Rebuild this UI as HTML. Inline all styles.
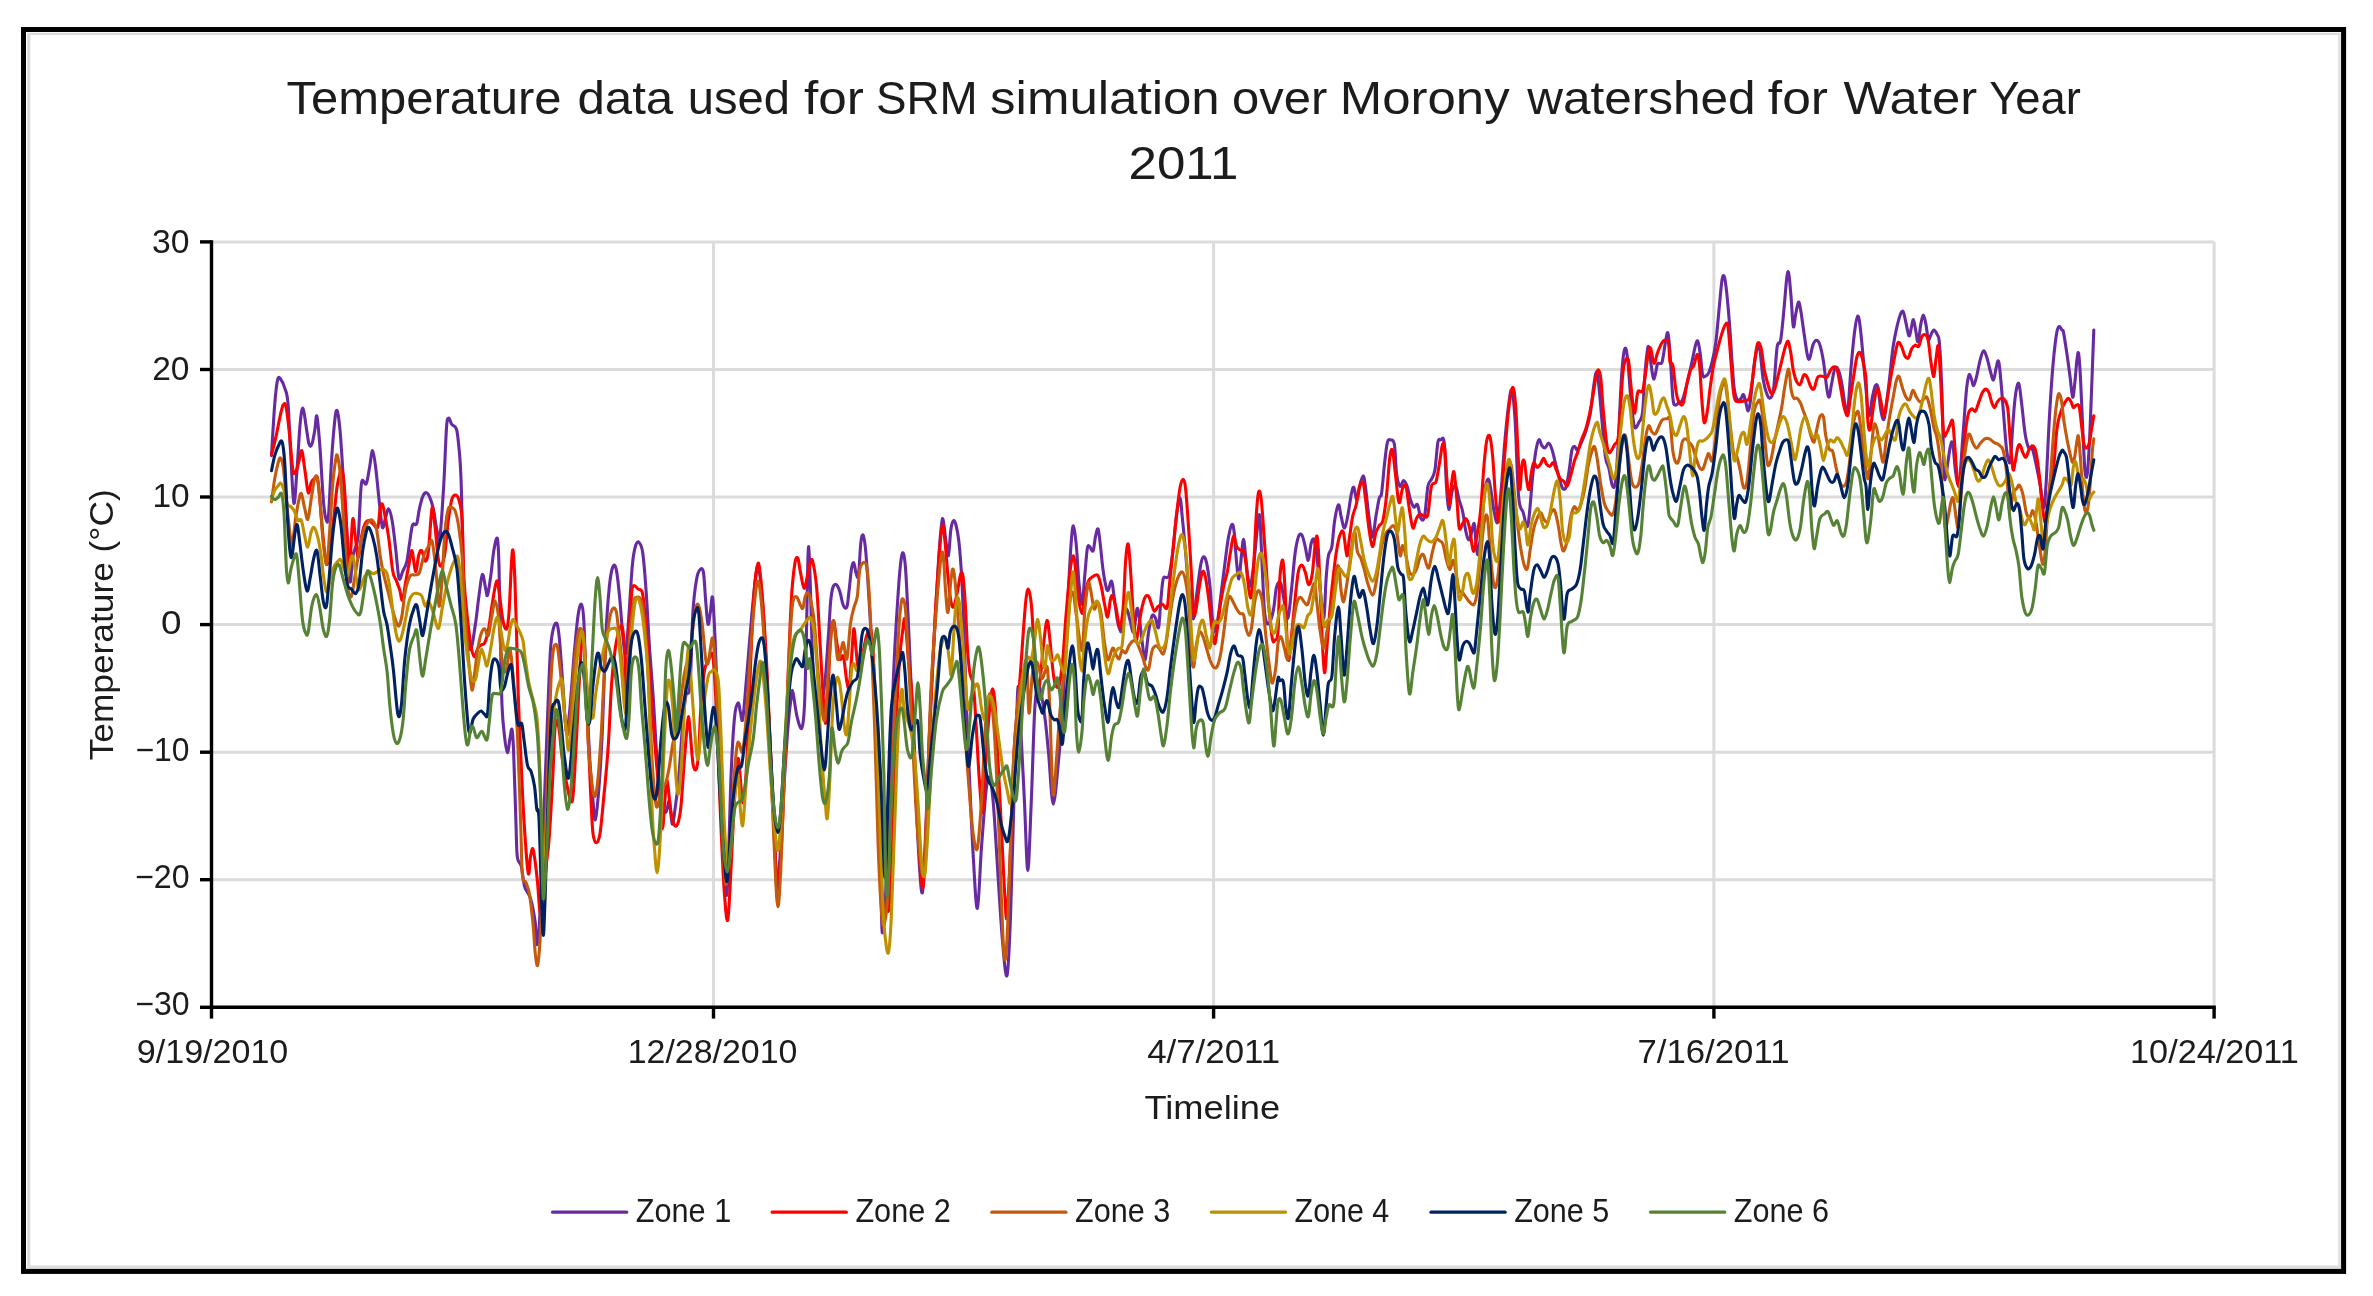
<!DOCTYPE html><html><head><meta charset="utf-8"><title>Temperature chart</title>
<style>html,body{margin:0;padding:0;background:#fff}svg{display:block}text{font-family:"Liberation Sans",sans-serif;fill:#1a1a1a}</style></head><body>
<svg width="2373" height="1296" viewBox="0 0 2373 1296">
<defs><filter id="soft" x="0" y="0" width="2373" height="1296" filterUnits="userSpaceOnUse"><feGaussianBlur stdDeviation="0.55"/></filter></defs>
<g filter="url(#soft)">
<rect width="2373" height="1296" fill="#fff"/>
<rect x="27.2" y="32.8" width="3.2" height="1236" fill="#dadada"/>
<rect x="27.2" y="32.8" width="2313.6" height="2.2" fill="#dcdcdc"/>
<rect x="2338.2" y="32.8" width="2.7" height="1236" fill="#e2e2e2"/>
<rect x="27.2" y="1265.4" width="2313.6" height="3.4" fill="#dedede"/>
<rect x="23.5" y="29.5" width="2320.1" height="1241.9" fill="none" stroke="#000" stroke-width="5"/>
<line x1="211.5" x2="2214.1" y1="241.9" y2="241.9" stroke="#dbdbdb" stroke-width="3"/>
<line x1="211.5" x2="2214.1" y1="369.5" y2="369.5" stroke="#dbdbdb" stroke-width="3"/>
<line x1="211.5" x2="2214.1" y1="497.0" y2="497.0" stroke="#dbdbdb" stroke-width="3"/>
<line x1="211.5" x2="2214.1" y1="624.6" y2="624.6" stroke="#dbdbdb" stroke-width="3"/>
<line x1="211.5" x2="2214.1" y1="752.2" y2="752.2" stroke="#dbdbdb" stroke-width="3"/>
<line x1="211.5" x2="2214.1" y1="879.7" y2="879.7" stroke="#dbdbdb" stroke-width="3"/>
<line x1="713.5" x2="713.5" y1="241.9" y2="1007.3" stroke="#dbdbdb" stroke-width="3"/>
<line x1="1213.6" x2="1213.6" y1="241.9" y2="1007.3" stroke="#dbdbdb" stroke-width="3"/>
<line x1="1713.9" x2="1713.9" y1="241.9" y2="1007.3" stroke="#dbdbdb" stroke-width="3"/>
<line x1="2214.1" x2="2214.1" y1="241.9" y2="1007.3" stroke="#dbdbdb" stroke-width="3"/>
<path d="M271.5 455.6C272.0 447.1 273.7 417.4 274.7 404.7C275.7 392.0 276.6 383.5 277.7 379.3C278.8 375.1 279.9 378.4 281.0 379.7C282.1 381.0 283.4 383.6 284.5 387.4C285.6 391.2 286.8 390.6 287.9 402.4C289.0 414.2 289.9 441.2 290.9 458.0C291.9 474.8 292.9 500.4 293.9 503.1C294.9 505.8 295.6 487.5 296.7 474.2C297.8 460.9 299.1 434.2 300.2 423.2C301.2 412.2 302.0 407.8 303.0 408.2C304.0 408.6 305.0 419.6 306.0 425.6C307.0 431.6 308.0 441.0 309.0 444.1C310.0 447.2 310.8 446.8 311.8 444.5C312.8 442.2 314.0 434.9 314.8 430.2C315.6 425.5 316.0 413.6 316.9 416.3C317.8 419.0 318.8 432.5 319.9 446.4C321.0 460.3 322.3 487.7 323.3 499.6C324.3 511.6 324.9 515.2 325.7 518.1C326.5 521.0 327.4 526.2 328.4 517.0C329.3 507.8 330.4 478.2 331.4 462.6C332.4 447.0 333.6 431.9 334.5 423.2C335.4 414.5 336.1 409.3 337.0 410.5C337.9 411.7 338.9 418.4 340.0 430.2C341.1 442.0 342.3 463.4 343.5 481.1C344.7 498.9 346.1 519.9 347.2 536.7C348.3 553.5 349.0 578.7 350.0 581.8C351.0 584.9 351.6 562.7 353.0 555.2C354.4 547.7 356.7 548.7 358.1 536.7C359.5 524.7 360.1 492.2 361.5 483.4C362.9 474.6 364.8 486.6 366.2 483.9C367.6 481.2 368.5 472.8 369.6 467.2C370.7 461.6 371.6 450.2 372.6 450.6C373.7 451.0 374.8 460.8 375.9 469.5C377.0 478.2 378.3 493.5 379.4 503.1C380.5 512.8 381.4 524.9 382.4 527.4C383.4 529.9 384.4 521.2 385.4 518.1C386.4 515.0 387.5 508.5 388.6 508.9C389.7 509.3 390.9 514.0 392.1 520.5C393.3 527.0 394.5 538.6 395.6 548.2C396.8 557.8 397.8 574.4 399.0 578.3C400.2 582.2 401.4 574.1 402.7 571.4C404.0 568.7 405.6 566.7 406.7 562.1C407.8 557.5 408.5 549.8 409.5 543.6C410.5 537.4 411.3 528.4 412.5 525.1C413.7 521.8 415.5 526.6 416.6 523.9C417.8 521.2 418.3 513.5 419.4 508.9C420.4 504.3 421.7 498.9 422.9 496.2C424.1 493.5 425.2 492.5 426.4 492.7C427.5 492.9 428.6 494.6 429.8 497.3C431.0 500.0 432.1 503.5 433.3 508.9C434.5 514.3 435.7 524.9 436.8 529.7C437.9 534.5 438.7 545.1 439.8 537.8C440.9 530.5 442.6 504.0 443.7 485.7C444.8 467.4 445.7 439.2 446.5 427.9C447.3 416.6 447.7 418.7 448.6 418.1C449.5 417.5 450.5 422.6 451.8 424.4C453.1 426.2 455.2 425.3 456.4 429.0C457.6 432.7 458.0 437.7 458.8 446.4C459.6 455.1 460.2 457.3 461.1 481.1C462.0 504.9 462.9 564.4 463.9 589.4C464.9 614.4 466.1 621.1 467.3 631.1C468.5 641.1 469.5 650.8 470.8 649.6C472.1 648.5 474.0 633.1 475.4 624.2C476.8 615.3 477.7 604.7 478.9 596.4C480.1 588.1 481.2 575.6 482.4 574.4C483.5 573.2 484.9 585.9 485.8 589.4C486.7 592.9 486.7 597.1 487.5 595.2C488.3 593.3 489.4 585.4 490.5 577.9C491.6 570.4 492.8 556.7 493.9 550.1C495.0 543.5 496.5 535.8 497.4 538.5C498.2 541.2 498.5 550.1 499.0 566.3C499.5 582.5 499.9 612.6 500.4 635.7C500.9 658.9 501.3 688.6 502.0 705.2C502.7 721.8 503.5 727.4 504.4 735.3C505.3 743.2 506.4 752.2 507.4 752.6C508.3 753.0 509.3 741.5 510.1 737.6C510.9 733.8 511.4 727.2 512.0 729.5C512.6 731.8 513.0 736.3 513.6 751.5C514.2 766.7 515.3 803.4 515.9 820.9C516.5 838.4 516.4 849.2 517.3 856.7C518.2 864.2 520.0 861.0 521.2 866.0C522.4 871.0 523.2 881.4 524.7 886.8C526.2 892.2 528.8 892.6 530.5 898.4C532.2 904.2 534.0 913.8 535.1 921.5C536.2 929.2 536.2 945.5 537.0 944.7C537.8 943.9 538.6 940.7 539.8 916.7C541.0 892.7 543.0 835.6 544.4 800.9C545.8 766.2 546.9 733.8 547.9 708.3C548.9 682.8 549.6 661.6 550.6 648.1C551.6 634.6 552.6 631.3 553.7 627.3C554.8 623.2 556.2 621.9 557.1 623.8C558.0 625.7 558.4 628.7 559.4 638.9C560.4 649.1 561.7 669.8 562.9 685.2C564.1 700.6 565.2 727.6 566.4 731.5C567.6 735.4 568.5 721.8 569.9 708.3C571.2 694.8 573.1 665.9 574.5 650.5C575.9 635.1 576.9 623.4 578.0 615.7C579.1 608.0 580.4 603.4 581.4 604.2C582.4 605.0 583.0 606.9 583.8 620.4C584.6 633.9 585.1 662.8 586.1 685.2C587.1 707.6 588.4 735.3 589.5 754.6C590.6 773.9 592.0 790.0 593.0 800.9C594.0 811.8 594.3 821.6 595.3 819.7C596.3 817.8 597.6 804.1 598.8 789.4C600.0 774.7 601.1 756.6 602.3 731.5C603.4 706.4 604.6 662.8 605.7 638.9C606.9 615.0 608.0 600.0 609.2 588.0C610.4 576.0 611.5 570.2 612.7 567.1C613.9 564.0 615.1 564.4 616.2 569.4C617.4 574.4 618.5 585.6 619.6 597.2C620.8 608.8 622.1 629.6 623.1 638.9C624.1 648.2 624.9 656.7 625.9 652.8C626.9 648.9 627.8 630.4 628.9 615.7C630.0 601.0 631.2 576.6 632.4 564.8C633.5 553.0 634.6 548.8 635.8 545.1C636.9 541.4 638.1 541.4 639.3 542.8C640.5 544.1 641.6 544.9 642.8 553.2C643.9 561.5 645.1 576.4 646.2 592.6C647.4 608.8 648.5 633.1 649.7 650.5C650.9 667.9 652.0 679.4 653.2 696.8C654.4 714.1 655.4 737.4 656.7 754.6C658.1 771.8 659.8 790.4 661.3 800.0C662.8 809.6 664.5 812.4 665.9 812.5C667.2 812.6 668.3 799.0 669.4 800.9C670.5 802.8 671.2 822.9 672.2 824.1C673.2 825.3 674.1 815.6 675.2 807.9C676.3 800.2 677.6 790.5 678.7 777.8C679.9 765.1 681.0 745.0 682.1 731.5C683.2 718.0 684.3 704.5 685.6 696.8C686.9 689.1 688.8 699.2 690.0 685.2C691.2 671.2 691.8 630.1 692.9 612.6C694.0 595.1 695.2 587.3 696.4 580.2C697.6 573.1 698.7 571.1 699.9 569.8C701.1 568.4 702.4 566.9 703.4 572.1C704.4 577.3 704.9 592.3 705.7 601.0C706.5 609.7 707.2 622.3 708.0 624.2C708.8 626.1 709.5 617.1 710.3 612.6C711.1 608.1 711.8 593.6 712.6 597.5C713.4 601.4 714.1 619.7 714.9 635.7C715.7 651.7 716.2 666.6 717.2 693.6C718.2 720.6 719.5 768.9 720.7 797.8C721.9 826.7 723.1 851.8 724.2 867.2C725.3 882.6 726.1 905.8 727.2 890.4C728.4 875.0 729.9 803.5 731.1 774.6C732.3 745.7 733.4 728.8 734.6 716.8C735.8 704.8 737.1 703.7 738.1 702.9C739.1 702.1 739.6 709.4 740.4 712.1C741.2 714.8 741.7 724.1 742.7 719.1C743.7 714.1 744.7 699.8 746.2 682.0C747.8 664.2 750.3 631.1 752.0 612.6C753.7 594.1 755.5 578.2 756.6 570.9C757.8 563.6 757.9 563.6 758.9 568.6C759.9 573.6 761.2 586.0 762.4 601.0C763.6 616.0 764.8 637.7 765.9 658.9C767.0 680.1 767.9 701.3 769.3 728.3C770.6 755.3 772.6 793.9 774.0 820.9C775.4 847.9 775.9 894.2 777.4 890.4C778.9 886.5 781.5 824.8 783.2 797.8C785.0 770.8 786.5 745.3 787.9 728.3C789.2 711.3 790.5 701.9 791.3 695.9C792.1 689.9 791.9 689.0 792.9 692.5C793.9 696.0 795.6 710.8 797.1 716.8C798.6 722.8 800.5 730.2 801.7 728.3C802.9 726.4 803.7 720.6 804.5 705.2C805.3 689.8 805.7 662.1 806.4 635.7C807.1 609.3 807.7 544.7 808.7 546.6C809.7 548.5 811.2 622.8 812.2 647.3C813.2 671.8 813.4 683.2 814.5 693.6C815.6 704.0 817.4 711.7 819.1 709.8C820.8 707.9 823.4 694.4 824.9 682.0C826.4 669.6 827.4 649.2 828.4 635.7C829.4 622.2 829.9 609.1 830.7 601.0C831.5 592.9 832.0 589.8 833.0 587.1C834.0 584.4 835.4 584.0 836.5 584.8C837.6 585.6 838.8 588.3 839.9 591.8C841.0 595.3 842.2 603.1 843.4 605.6C844.6 608.1 845.9 609.5 846.9 606.8C847.9 604.1 848.4 595.8 849.2 589.4C850.0 583.0 850.7 573.0 851.5 568.6C852.3 564.2 853.0 562.0 853.8 562.8C854.6 563.6 855.3 571.1 856.1 573.2C856.9 575.3 857.7 580.6 858.5 575.6C859.3 570.6 860.0 549.9 860.8 543.1C861.6 536.3 862.3 534.2 863.1 535.0C863.9 535.8 864.6 540.6 865.4 547.8C866.2 554.9 866.7 563.2 867.7 577.9C868.7 592.5 870.0 614.5 871.2 635.7C872.4 656.9 873.6 678.2 874.7 705.2C875.9 732.2 877.1 766.9 878.1 797.8C879.1 828.7 880.1 868.1 880.9 890.4C881.7 912.7 881.6 938.8 882.8 931.6C883.9 924.4 886.4 880.6 887.8 847.2C889.2 813.9 890.1 764.3 891.3 731.5C892.4 698.7 893.6 673.6 894.7 650.5C895.9 627.4 897.2 607.6 898.2 592.6C899.2 577.6 900.1 566.8 901.0 560.2C901.9 553.6 902.5 551.7 903.3 553.2C904.1 554.7 904.7 557.0 905.6 569.4C906.5 581.8 907.5 604.1 908.6 627.3C909.7 650.4 910.9 681.3 912.1 708.3C913.3 735.3 914.5 764.3 915.6 789.4C916.8 814.5 917.9 841.7 919.0 858.8C920.1 875.9 921.3 897.9 922.5 892.1C923.7 886.3 924.8 850.9 926.0 824.1C927.2 797.3 928.1 762.4 929.5 731.5C930.9 700.6 932.6 667.8 934.1 638.9C935.6 610.0 937.4 577.2 938.7 557.9C940.0 538.6 940.9 529.3 941.7 523.1C942.5 516.9 942.6 518.1 943.3 520.8C944.0 523.5 944.9 533.6 945.7 539.4C946.6 545.2 947.5 557.1 948.4 555.6C949.2 554.1 950.0 535.9 950.8 530.1C951.6 524.3 952.4 521.6 953.3 520.8C954.2 520.0 955.2 522.0 956.1 525.5C957.0 529.0 957.9 532.5 958.9 541.7C959.9 551.0 961.0 564.8 961.9 581.0C962.8 597.2 963.4 617.7 964.2 638.9C965.0 660.1 965.5 683.2 966.5 708.3C967.5 733.4 968.9 764.3 970.0 789.4C971.1 814.5 972.2 839.0 973.4 858.8C974.6 878.6 976.0 910.2 977.4 908.3C978.8 906.4 980.0 867.0 981.5 847.2C983.0 827.4 984.9 801.0 986.2 789.4C987.6 777.8 988.5 775.9 989.6 777.8C990.8 779.7 991.8 785.5 993.1 800.9C994.5 816.3 996.2 847.2 997.7 870.4C999.2 893.5 1000.9 922.3 1002.4 939.8C1003.9 957.3 1005.6 979.4 1007.0 975.5C1008.4 971.6 1009.4 945.8 1010.5 916.7C1011.6 887.6 1012.8 837.5 1013.9 800.9C1015.0 764.2 1016.5 714.5 1017.4 696.8C1018.2 679.0 1018.4 688.6 1019.0 694.4C1019.6 700.2 1020.0 713.8 1020.9 731.5C1021.8 749.2 1023.3 777.8 1024.4 800.9C1025.6 824.0 1026.7 870.4 1027.8 870.4C1028.9 870.4 1030.1 827.9 1031.3 800.9C1032.5 773.9 1033.6 727.6 1034.8 708.3C1036.0 689.0 1037.0 687.1 1038.2 685.2C1039.4 683.3 1040.5 691.0 1041.7 696.8C1042.9 702.6 1044.0 710.3 1045.2 719.9C1046.4 729.5 1047.4 740.5 1048.7 754.6C1050.0 768.7 1051.6 804.2 1053.3 804.2C1055.0 804.2 1057.5 770.6 1059.1 754.6C1060.6 738.6 1061.4 727.6 1062.6 708.3C1063.8 689.0 1064.8 662.0 1066.0 638.9C1067.2 615.8 1068.5 587.5 1069.5 569.4C1070.5 551.3 1071.5 536.9 1072.3 530.1C1073.1 523.4 1073.4 526.2 1074.1 528.9C1074.8 531.6 1075.6 537.6 1076.4 546.3C1077.2 555.0 1077.9 571.4 1078.8 581.0C1079.7 590.6 1081.0 605.3 1082.0 604.2C1083.0 603.1 1084.0 583.5 1084.9 574.2C1085.8 565.0 1086.5 553.3 1087.3 548.7C1088.1 544.1 1088.6 546.0 1089.6 546.4C1090.5 546.8 1092.0 552.5 1093.0 551.0C1094.0 549.5 1094.6 540.8 1095.4 537.1C1096.2 533.4 1097.2 527.5 1098.1 529.0C1098.9 530.5 1099.7 539.6 1100.5 546.4C1101.3 553.1 1102.1 563.0 1103.0 569.5C1103.9 576.0 1105.0 582.2 1105.8 585.7C1106.6 589.2 1107.1 591.2 1108.1 590.4C1109.1 589.6 1110.6 580.3 1111.6 581.1C1112.6 581.9 1112.9 588.4 1113.9 595.0C1114.9 601.6 1116.2 614.3 1117.4 620.5C1118.6 626.7 1119.8 632.0 1120.8 632.0C1121.8 632.0 1122.1 624.4 1123.1 620.5C1124.1 616.6 1125.4 608.9 1126.6 608.9C1127.8 608.9 1128.9 616.6 1130.1 620.5C1131.3 624.4 1132.4 633.9 1133.6 632.0C1134.8 630.1 1136.0 611.2 1137.0 608.9C1138.0 606.6 1138.4 612.3 1139.3 618.1C1140.2 623.9 1141.4 636.7 1142.4 643.6C1143.4 650.5 1144.1 661.7 1145.1 659.8C1146.1 657.9 1147.4 639.3 1148.6 632.0C1149.8 624.7 1150.9 618.1 1152.1 615.8C1153.2 613.5 1154.4 616.2 1155.5 618.1C1156.6 620.0 1157.7 630.5 1158.6 627.4C1159.5 624.3 1160.1 607.7 1160.9 599.6C1161.7 591.5 1162.2 582.5 1163.2 578.8C1164.2 575.1 1166.1 578.4 1167.1 577.6C1168.1 576.8 1168.4 578.6 1169.4 574.2C1170.4 569.8 1171.7 560.6 1172.9 551.0C1174.1 541.4 1175.2 525.2 1176.4 516.3C1177.6 507.4 1178.9 497.8 1179.9 497.8C1180.9 497.8 1181.4 508.6 1182.2 516.3C1183.0 524.0 1183.9 533.3 1184.9 544.1C1185.9 554.9 1186.9 570.3 1188.0 581.1C1189.1 591.9 1190.5 602.7 1191.4 608.9C1192.4 615.1 1192.7 621.2 1193.7 618.1C1194.7 615.0 1196.0 599.3 1197.2 590.4C1198.4 581.5 1199.7 570.5 1200.7 564.9C1201.8 559.3 1202.5 557.2 1203.5 556.8C1204.5 556.4 1205.4 557.8 1206.5 562.6C1207.6 567.4 1208.9 576.5 1209.9 585.7C1210.9 595.0 1211.5 610.4 1212.3 618.1C1213.1 625.8 1213.6 632.0 1214.6 632.0C1215.5 632.0 1216.8 625.0 1218.0 618.1C1219.2 611.2 1220.3 599.6 1221.5 590.4C1222.7 581.1 1223.8 571.5 1225.0 562.6C1226.2 553.7 1227.3 543.5 1228.5 537.1C1229.7 530.7 1231.0 525.2 1231.9 524.4C1232.9 523.6 1233.4 526.1 1234.2 532.5C1235.0 538.9 1235.8 554.9 1236.6 562.6C1237.4 570.3 1238.1 579.6 1238.9 578.8C1239.7 578.0 1240.4 564.6 1241.2 558.0C1242.0 551.4 1242.7 539.4 1243.5 539.4C1244.3 539.4 1245.0 551.4 1245.8 558.0C1246.6 564.6 1247.3 574.2 1248.1 578.8C1248.9 583.4 1249.5 588.4 1250.5 585.7C1251.5 583.0 1252.8 572.2 1253.9 562.6C1255.1 553.0 1256.4 535.6 1257.4 527.9C1258.4 520.2 1258.9 510.5 1259.7 516.3C1260.5 522.1 1261.2 547.2 1262.0 562.6C1262.8 578.0 1263.5 598.9 1264.3 608.9C1265.1 618.9 1265.7 620.7 1266.7 622.8C1267.7 624.9 1268.9 623.9 1270.1 621.6C1271.2 619.3 1272.6 614.1 1273.6 608.9C1274.6 603.7 1275.2 594.6 1275.9 590.4C1276.6 586.1 1277.2 584.5 1278.0 583.4C1278.8 582.2 1279.8 580.4 1280.9 583.5C1282.0 586.6 1283.2 596.2 1284.4 602.0C1285.6 607.8 1286.7 620.1 1287.9 618.2C1289.1 616.3 1290.2 600.9 1291.4 590.5C1292.6 580.1 1293.7 564.6 1294.8 555.7C1295.9 546.8 1297.1 540.7 1298.3 537.2C1299.5 533.7 1300.6 533.4 1301.8 534.9C1303.0 536.4 1304.1 542.2 1305.2 546.5C1306.3 550.8 1307.3 560.8 1308.3 560.4C1309.3 560.0 1310.1 547.7 1311.0 544.2C1311.9 540.7 1312.8 537.6 1313.8 539.5C1314.8 541.4 1315.7 547.2 1316.8 555.7C1317.9 564.2 1319.1 580.1 1320.3 590.5C1321.5 600.9 1322.8 620.1 1323.8 618.2C1324.8 616.3 1325.3 589.3 1326.1 578.9C1326.9 568.5 1327.4 561.1 1328.4 555.7C1329.4 550.3 1330.9 552.3 1331.9 546.5C1332.9 540.7 1333.5 528.0 1334.6 521.0C1335.7 514.0 1337.3 505.6 1338.4 504.8C1339.5 504.0 1340.1 512.5 1341.1 516.4C1342.1 520.3 1343.4 528.4 1344.6 528.0C1345.8 527.6 1346.9 519.9 1348.1 514.1C1349.2 508.3 1350.5 497.6 1351.5 493.2C1352.5 488.8 1353.0 486.3 1353.9 487.5C1354.8 488.7 1356.0 500.4 1356.9 500.2C1357.9 500.0 1358.6 490.4 1359.6 486.3C1360.6 482.2 1362.1 475.9 1363.1 475.9C1364.1 475.9 1364.4 479.6 1365.4 486.3C1366.4 493.1 1367.7 507.9 1368.9 516.4C1370.1 524.9 1371.2 537.2 1372.4 537.2C1373.6 537.2 1374.8 523.0 1375.9 516.4C1377.1 509.8 1378.3 501.8 1379.3 497.9C1380.2 494.0 1380.7 499.0 1381.6 493.2C1382.5 487.4 1383.6 471.6 1384.6 463.1C1385.6 454.6 1386.4 446.2 1387.4 442.3C1388.5 438.4 1389.7 439.6 1390.9 440.0C1392.1 440.4 1393.4 438.8 1394.4 444.6C1395.4 450.4 1395.7 467.8 1396.7 474.7C1397.7 481.6 1399.1 485.3 1400.2 486.3C1401.3 487.3 1402.4 480.5 1403.6 480.5C1404.8 480.5 1405.9 483.0 1407.1 486.3C1408.3 489.6 1409.4 496.7 1410.6 500.2C1411.8 503.7 1412.8 506.3 1414.0 507.1C1415.2 507.9 1416.3 502.9 1417.5 504.8C1418.7 506.7 1419.8 516.8 1421.0 518.7C1422.2 520.6 1423.3 521.8 1424.5 516.4C1425.7 511.0 1426.8 492.5 1427.9 486.3C1429.1 480.1 1430.2 482.1 1431.4 479.4C1432.6 476.7 1433.8 476.3 1434.9 470.1C1436.0 463.9 1436.9 447.3 1437.9 442.3C1438.9 437.3 1439.7 440.0 1440.7 440.0C1441.7 440.0 1443.1 434.6 1444.1 442.3C1445.1 450.0 1445.7 475.1 1446.5 486.3C1447.3 497.5 1447.8 508.6 1448.8 509.4C1449.8 510.2 1451.0 494.8 1452.2 490.9C1453.4 487.0 1454.5 484.8 1455.7 486.3C1456.9 487.9 1458.0 495.9 1459.2 500.2C1460.4 504.4 1461.6 506.4 1462.7 511.8C1463.8 517.2 1464.9 528.0 1466.1 532.6C1467.2 537.2 1468.3 541.0 1469.6 539.5C1470.9 538.0 1473.0 523.1 1474.0 523.3C1475.0 523.4 1475.1 535.2 1475.8 540.4C1476.5 545.6 1477.1 557.0 1478.1 554.3C1479.1 551.6 1480.4 535.0 1481.6 524.2C1482.8 513.4 1483.9 496.9 1485.0 489.4C1486.1 481.9 1487.1 479.0 1488.1 479.0C1489.1 479.0 1489.8 483.8 1490.8 489.4C1491.8 495.0 1493.1 507.2 1494.3 512.6C1495.5 518.0 1496.6 525.8 1497.8 521.9C1499.0 518.0 1500.0 502.5 1501.2 489.4C1502.4 476.3 1503.5 456.6 1504.7 443.1C1505.9 429.6 1507.0 417.3 1508.2 408.4C1509.4 399.5 1510.6 388.0 1511.7 389.9C1512.8 391.8 1513.9 402.2 1515.1 420.0C1516.2 437.8 1517.2 481.0 1518.6 496.4C1519.9 511.8 1521.7 507.8 1523.2 512.6C1524.8 517.4 1526.4 531.1 1527.9 525.3C1529.5 519.5 1531.2 490.4 1532.5 477.9C1533.8 465.4 1534.9 456.5 1536.0 450.1C1537.1 443.7 1538.0 440.5 1539.0 439.7C1540.0 438.9 1540.8 444.1 1541.8 445.5C1542.8 446.9 1544.0 448.2 1545.2 447.8C1546.4 447.4 1547.5 442.7 1548.7 443.1C1549.9 443.5 1551.1 446.6 1552.2 450.1C1553.3 453.6 1554.4 459.4 1555.6 464.0C1556.8 468.6 1557.9 473.8 1559.1 477.9C1560.3 481.9 1561.4 486.8 1562.6 488.3C1563.8 489.8 1565.0 490.0 1566.1 487.1C1567.2 484.2 1568.1 477.1 1569.1 470.9C1570.1 464.7 1571.0 454.2 1571.9 450.1C1572.8 446.1 1573.6 446.6 1574.6 446.6C1575.5 446.6 1576.5 450.7 1577.6 450.1C1578.7 449.5 1579.8 446.2 1581.1 443.1C1582.4 440.0 1584.2 436.6 1585.7 431.6C1587.2 426.6 1589.1 420.8 1590.4 413.1C1591.8 405.4 1592.7 391.9 1593.8 385.3C1594.9 378.7 1595.9 367.9 1597.3 373.7C1598.7 379.5 1600.6 406.1 1601.9 420.0C1603.2 433.9 1604.2 448.7 1605.4 456.8C1606.6 464.9 1607.7 463.6 1608.9 468.4C1610.1 473.2 1611.3 483.4 1612.4 485.7C1613.5 488.0 1614.5 489.1 1615.4 482.3C1616.4 475.6 1617.1 462.9 1618.1 445.2C1619.1 427.4 1620.5 391.8 1621.6 375.8C1622.7 359.8 1623.6 352.3 1624.6 349.2C1625.6 346.1 1626.4 349.0 1627.4 357.3C1628.5 365.6 1629.7 387.3 1630.9 398.9C1632.1 410.5 1633.1 422.8 1634.4 426.7C1635.8 430.6 1637.7 424.4 1639.0 422.1C1640.3 419.8 1641.5 420.5 1642.5 412.8C1643.5 405.1 1644.0 385.8 1644.8 375.8C1645.6 365.8 1646.4 357.4 1647.1 352.6C1647.8 347.8 1648.0 345.0 1648.7 346.9C1649.4 348.8 1650.1 358.8 1651.0 364.2C1651.9 369.6 1652.9 379.3 1654.0 379.3C1655.1 379.3 1656.2 367.1 1657.5 364.2C1658.8 361.3 1660.8 365.8 1662.1 361.9C1663.4 358.0 1664.6 345.9 1665.6 341.1C1666.6 336.3 1667.2 331.1 1667.9 333.0C1668.6 334.9 1669.2 341.8 1670.0 352.6C1670.8 363.5 1672.0 389.4 1672.9 398.1C1673.8 406.9 1674.3 404.3 1675.3 405.1C1676.3 405.9 1677.5 403.6 1678.7 402.8C1679.9 402.0 1681.0 402.8 1682.2 400.5C1683.4 398.2 1684.6 393.1 1685.7 388.9C1686.8 384.6 1687.9 380.0 1689.1 375.0C1690.2 370.0 1691.5 363.8 1692.6 358.8C1693.7 353.8 1694.7 347.8 1695.6 344.9C1696.5 342.0 1697.1 339.8 1697.9 341.4C1698.7 342.9 1699.5 348.6 1700.3 354.2C1701.1 359.8 1701.8 371.3 1702.6 375.0C1703.4 378.7 1704.4 376.6 1705.4 376.2C1706.4 375.8 1707.7 375.2 1708.8 372.7C1709.9 370.2 1711.1 366.1 1712.3 361.1C1713.5 356.1 1714.6 351.5 1715.8 342.6C1717.0 333.7 1718.2 318.3 1719.2 307.9C1720.2 297.5 1721.2 285.3 1722.0 280.1C1722.8 274.9 1723.5 274.7 1724.3 276.6C1725.1 278.5 1725.7 283.4 1726.6 291.7C1727.5 300.0 1728.8 314.8 1729.7 326.4C1730.6 338.0 1731.2 350.7 1732.0 361.1C1732.8 371.5 1733.3 382.3 1734.3 388.9C1735.3 395.5 1736.6 399.0 1737.8 400.5C1739.0 402.0 1740.2 399.1 1741.2 398.1C1742.2 397.1 1742.7 393.9 1743.5 394.7C1744.3 395.5 1745.1 400.1 1745.9 402.8C1746.7 405.5 1747.4 411.3 1748.2 410.9C1749.0 410.5 1749.5 408.0 1750.5 400.5C1751.5 393.0 1752.8 374.6 1754.0 365.7C1755.2 356.8 1756.4 349.9 1757.4 347.2C1758.4 344.5 1758.8 344.1 1759.8 349.5C1760.8 354.9 1762.0 372.3 1763.2 379.6C1764.4 386.9 1765.5 390.4 1766.7 393.5C1767.9 396.6 1769.1 398.9 1770.2 398.1C1771.3 397.3 1772.4 397.4 1773.6 388.9C1774.8 380.4 1775.9 355.3 1777.1 347.2C1778.3 339.1 1779.4 346.9 1780.6 340.3C1781.8 333.8 1783.1 318.3 1784.1 307.9C1785.1 297.5 1786.0 283.6 1786.8 277.8C1787.6 272.0 1788.0 270.0 1788.7 273.1C1789.4 276.2 1790.2 287.4 1791.0 296.3C1791.8 305.2 1792.5 323.3 1793.3 326.4C1794.1 329.5 1794.8 318.9 1795.6 314.8C1796.4 310.8 1797.6 302.9 1798.4 302.1C1799.2 301.3 1799.8 305.4 1800.7 310.2C1801.6 315.0 1802.6 323.7 1803.7 331.0C1804.8 338.3 1806.2 349.6 1807.2 354.2C1808.2 358.8 1808.5 360.4 1809.5 358.8C1810.5 357.2 1811.8 348.0 1813.0 344.9C1814.2 341.8 1815.3 340.3 1816.5 340.3C1817.7 340.3 1818.8 341.4 1819.9 344.9C1821.1 348.4 1822.2 353.8 1823.4 361.1C1824.6 368.4 1825.9 382.9 1826.9 388.9C1827.9 394.9 1828.4 397.8 1829.2 397.0C1830.0 396.2 1830.5 389.1 1831.5 384.3C1832.5 379.5 1833.8 370.4 1835.0 368.1C1836.2 365.8 1837.3 367.7 1838.5 370.4C1839.7 373.1 1840.8 378.1 1841.9 384.3C1843.1 390.5 1844.4 402.8 1845.4 407.4C1846.4 412.0 1846.7 418.9 1847.7 412.0C1848.7 405.1 1850.0 379.2 1851.2 365.7C1852.4 352.2 1853.6 339.3 1854.7 331.0C1855.8 322.7 1856.8 316.4 1857.7 316.0C1858.7 315.6 1859.4 320.4 1860.4 328.7C1861.4 337.0 1863.0 355.7 1863.9 365.7C1864.8 375.7 1865.2 380.6 1866.0 388.9C1866.8 397.2 1867.8 414.3 1868.9 415.7C1870.0 417.1 1871.3 402.2 1872.4 397.2C1873.5 392.2 1874.4 387.1 1875.4 385.6C1876.4 384.1 1877.3 383.8 1878.2 388.0C1879.1 392.2 1880.0 405.9 1881.0 411.1C1882.0 416.3 1883.0 421.1 1884.0 419.2C1885.0 417.3 1886.0 406.6 1887.0 399.5C1888.0 392.4 1888.8 385.3 1889.8 376.4C1890.8 367.5 1892.0 354.4 1893.2 346.3C1894.4 338.2 1895.5 333.0 1896.7 327.8C1897.9 322.6 1899.1 317.7 1900.2 315.0C1901.3 312.3 1902.2 310.2 1903.2 311.6C1904.2 313.0 1905.0 319.1 1906.0 323.1C1907.0 327.2 1908.1 335.1 1909.0 335.9C1909.9 336.7 1910.6 330.5 1911.3 327.8C1912.0 325.1 1912.7 319.3 1913.4 319.7C1914.1 320.1 1914.9 326.4 1915.7 330.1C1916.5 333.8 1917.1 342.9 1918.0 341.7C1918.9 340.5 1920.1 327.6 1921.0 323.1C1921.9 318.7 1922.5 315.0 1923.3 315.0C1924.1 315.0 1924.8 319.0 1925.7 323.1C1926.6 327.2 1927.5 337.5 1928.4 339.4C1929.3 341.3 1930.1 336.2 1931.0 334.7C1931.9 333.1 1932.8 330.1 1933.8 330.1C1934.8 330.1 1936.2 332.4 1937.2 334.7C1938.2 337.0 1938.7 334.4 1939.5 344.0C1940.3 353.6 1941.1 371.0 1941.9 392.6C1942.7 414.2 1943.4 460.5 1944.2 473.6C1945.0 486.7 1945.5 475.6 1946.5 471.3C1947.5 467.1 1949.0 452.7 1950.0 448.1C1951.0 443.5 1951.7 439.2 1952.7 443.5C1953.7 447.8 1954.7 467.0 1955.8 473.6C1956.9 480.2 1958.0 488.7 1959.2 482.9C1960.4 477.1 1961.5 453.9 1962.7 438.9C1963.9 423.8 1965.2 403.2 1966.2 392.6C1967.2 382.0 1968.1 377.5 1968.9 375.2C1969.8 372.9 1970.5 377.0 1971.3 378.7C1972.1 380.4 1972.7 386.0 1973.6 385.6C1974.5 385.2 1975.5 380.6 1976.6 376.4C1977.7 372.2 1978.9 364.4 1980.1 360.2C1981.2 355.9 1982.3 351.3 1983.5 350.9C1984.7 350.5 1985.8 354.4 1987.0 357.9C1988.2 361.4 1989.4 368.1 1990.5 371.8C1991.6 375.5 1992.5 380.7 1993.5 379.9C1994.5 379.1 1995.5 370.2 1996.3 367.1C1997.1 364.0 1997.8 359.0 1998.6 361.3C1999.4 363.6 2000.1 371.9 2000.9 381.0C2001.8 390.1 2002.7 404.1 2003.7 415.7C2004.7 427.3 2005.6 442.8 2006.7 450.5C2007.8 458.2 2009.1 465.5 2010.1 462.0C2011.1 458.5 2011.7 440.4 2012.5 429.6C2013.3 418.8 2014.2 404.9 2015.2 397.2C2016.2 389.5 2017.6 382.1 2018.7 383.3C2019.8 384.5 2020.6 395.7 2021.7 404.2C2022.8 412.7 2024.0 427.0 2025.2 434.3C2026.4 441.6 2027.6 445.8 2028.7 448.1C2029.8 450.4 2030.9 445.8 2032.1 448.1C2033.2 450.4 2034.2 455.8 2035.6 462.0C2036.9 468.2 2038.8 477.5 2040.2 485.2C2041.6 492.9 2042.7 508.3 2043.7 508.3C2044.7 508.3 2045.0 500.6 2046.0 485.2C2047.0 469.8 2048.3 435.8 2049.5 415.7C2050.7 395.6 2051.8 378.3 2053.0 364.8C2054.2 351.3 2055.4 341.1 2056.4 334.7C2057.4 328.3 2057.9 327.4 2058.8 326.6C2059.7 325.8 2061.2 329.1 2062.0 330.1C2062.8 331.1 2062.8 328.9 2063.5 332.4C2064.2 335.9 2065.4 343.6 2066.5 350.9C2067.6 358.2 2069.0 368.7 2070.0 376.4C2071.0 384.1 2071.9 396.4 2072.7 397.2C2073.5 398.0 2074.3 387.2 2075.0 381.0C2075.7 374.8 2076.3 364.8 2076.9 360.2C2077.5 355.6 2077.9 350.5 2078.5 353.2C2079.1 355.9 2079.7 364.0 2080.4 376.4C2081.1 388.8 2081.9 411.5 2082.7 427.3C2083.5 443.1 2084.2 463.6 2085.0 471.3C2085.8 479.0 2086.5 479.0 2087.3 473.6C2088.1 468.2 2088.8 454.3 2089.6 438.9C2090.4 423.5 2091.2 399.1 2091.9 381.0C2092.6 362.9 2093.5 338.6 2093.8 330.1" fill="none" stroke="#672ca0" stroke-width="3.1" stroke-linejoin="round" stroke-linecap="round"/>
<path d="M271.5 454.5C272.2 451.6 274.5 443.5 275.9 437.1C277.3 430.7 278.9 421.7 280.1 416.3C281.3 410.9 282.3 406.2 283.3 404.7C284.3 403.1 285.1 402.4 286.1 407.0C287.1 411.6 288.2 422.1 289.3 432.5C290.4 442.9 291.8 462.9 292.8 469.5C293.9 476.1 294.6 473.0 295.6 471.9C296.6 470.8 297.6 466.2 298.6 462.6C299.6 459.1 300.8 449.5 301.8 450.6C302.8 451.8 303.7 462.5 304.8 469.5C305.9 476.5 307.2 490.6 308.3 492.7C309.4 494.8 310.3 484.6 311.3 482.3C312.3 480.0 313.1 479.4 314.1 478.8C315.2 478.2 316.5 473.0 317.6 478.8C318.8 484.6 319.9 501.5 321.0 513.5C322.1 525.5 323.4 542.1 324.5 550.6C325.6 559.1 326.3 565.2 327.3 564.4C328.3 563.6 329.2 553.6 330.3 545.9C331.4 538.2 332.7 528.1 333.8 518.1C334.9 508.1 335.9 493.7 337.2 485.7C338.5 477.7 340.7 469.2 341.9 470.0C343.1 470.8 343.6 476.2 344.6 490.4C345.6 504.6 347.2 543.2 348.1 555.2C349.0 567.2 349.2 568.1 350.0 562.1C350.8 556.1 351.8 523.5 352.7 519.3C353.6 515.1 354.4 530.3 355.3 536.7C356.2 543.1 357.1 557.5 358.1 557.5C359.1 557.5 360.4 542.3 361.5 536.7C362.6 531.1 363.8 526.6 365.0 523.9C366.2 521.2 367.5 520.5 368.9 520.5C370.2 520.5 371.6 522.8 373.1 523.9C374.6 525.0 376.5 529.9 377.7 527.4C378.9 524.9 379.3 512.8 380.1 508.9C380.9 505.0 381.5 502.8 382.4 504.3C383.3 505.8 384.3 512.3 385.4 518.1C386.5 523.9 387.7 530.1 388.9 539.0C390.1 547.9 391.6 564.5 392.8 571.4C394.0 578.3 395.2 577.5 396.3 580.6C397.4 583.7 398.7 586.6 399.7 589.9C400.7 593.2 401.5 601.4 402.5 600.3C403.5 599.1 404.4 589.0 405.5 583.0C406.6 577.0 407.9 569.8 409.0 564.4C410.1 559.0 410.9 549.4 412.0 550.6C413.1 551.8 414.4 570.6 415.5 571.4C416.6 572.2 417.7 558.7 418.7 555.2C419.7 551.7 420.6 549.6 421.7 550.6C422.8 551.6 424.1 560.6 425.2 561.0C426.3 561.4 427.2 560.0 428.2 552.9C429.2 545.8 430.3 525.6 431.0 518.1C431.7 510.6 431.9 506.1 432.6 507.7C433.3 509.2 434.1 518.7 435.1 527.4C436.1 536.1 437.4 553.4 438.4 559.8C439.4 566.2 440.1 566.8 441.2 565.6C442.3 564.5 443.7 560.4 444.9 552.9C446.1 545.4 447.1 529.4 448.3 520.5C449.5 511.6 450.6 503.9 451.8 499.6C453.0 495.4 454.1 495.0 455.3 495.0C456.5 495.0 457.7 495.8 458.8 499.6C459.9 503.5 461.1 505.1 462.0 518.1C462.9 531.1 463.0 561.4 463.9 577.9C464.8 594.4 466.1 606.0 467.3 617.2C468.5 628.4 469.6 638.4 470.8 645.0C472.0 651.6 473.2 656.0 474.3 656.6C475.4 657.2 476.6 650.4 477.7 648.5C478.8 646.6 480.0 646.0 481.2 645.0C482.4 644.0 483.5 645.0 484.7 642.7C485.9 640.4 487.0 636.9 488.2 631.1C489.4 625.3 490.5 615.3 491.6 608.0C492.8 600.7 494.1 591.6 495.1 587.1C496.1 582.6 496.6 579.8 497.4 581.3C498.2 582.8 498.7 589.6 499.7 596.4C500.7 603.2 502.0 616.5 503.2 621.9C504.4 627.3 505.7 630.3 506.7 628.8C507.7 627.2 508.2 623.0 509.0 612.6C509.8 602.2 510.7 576.7 511.3 566.3C511.9 555.9 512.3 548.2 512.9 550.1C513.5 552.0 514.2 563.6 514.8 577.9C515.4 592.2 516.0 616.4 516.6 635.7C517.2 655.0 517.5 674.3 518.2 693.6C518.9 712.9 519.6 730.3 520.6 751.5C521.6 772.7 522.7 800.7 524.0 820.9C525.3 841.1 527.1 866.9 528.2 872.9C529.3 878.9 529.7 860.8 530.5 856.7C531.3 852.7 532.0 847.8 532.8 848.6C533.6 849.4 534.3 855.7 535.1 861.3C535.9 866.9 536.7 874.1 537.5 882.2C538.3 890.3 539.0 904.2 539.8 910.0C540.6 915.8 541.1 923.3 542.1 916.7C543.1 910.1 544.5 883.1 545.6 870.4C546.8 857.7 547.9 855.1 549.0 840.5C550.1 825.9 551.5 800.8 552.5 782.6C553.5 764.4 554.0 742.0 554.8 731.5C555.6 721.0 556.3 719.9 557.1 719.9C557.9 719.9 558.6 725.7 559.4 731.5C560.2 737.3 560.6 746.1 561.8 754.6C563.0 763.1 564.7 774.6 566.4 782.4C568.1 790.2 570.7 805.8 572.2 801.2C573.7 796.6 574.5 773.9 575.6 754.6C576.8 735.3 578.1 704.5 579.1 685.2C580.1 665.9 581.1 647.0 581.9 638.9C582.7 630.8 583.1 628.9 583.8 636.6C584.5 644.3 585.3 667.5 586.1 685.2C586.9 703.0 587.6 724.9 588.4 743.1C589.2 761.3 589.9 779.1 590.7 794.2C591.5 809.3 592.0 825.5 593.0 833.6C594.0 841.7 595.3 842.8 596.5 842.8C597.7 842.8 598.9 840.5 600.0 833.6C601.1 826.7 602.0 815.5 603.4 801.2C604.8 786.9 606.8 767.2 608.1 747.9C609.5 728.6 610.4 701.4 611.5 685.2C612.6 669.0 613.8 659.4 615.0 650.5C616.2 641.6 617.4 635.9 618.5 631.9C619.6 627.9 620.9 624.3 621.9 626.2C622.9 628.1 623.5 632.5 624.3 643.5C625.1 654.5 625.8 692.9 626.6 692.1C627.4 691.3 628.0 655.5 628.9 638.9C629.8 622.3 630.9 601.5 631.7 592.6C632.6 583.7 632.9 586.2 634.0 585.6C635.1 585.0 636.7 587.9 638.1 589.1C639.5 590.3 641.1 588.2 642.3 592.6C643.5 597.0 644.0 604.1 645.1 615.7C646.2 627.3 647.5 646.6 648.6 662.0C649.8 677.4 650.6 690.9 652.0 708.3C653.4 725.7 655.4 750.8 656.7 766.2C658.1 781.6 659.1 790.5 660.1 800.9C661.1 811.3 661.7 828.9 662.5 828.9C663.3 828.9 664.0 809.0 664.8 800.9C665.6 792.8 666.1 778.7 667.1 780.3C668.1 781.9 669.5 803.1 670.6 810.4C671.8 817.7 672.9 822.0 674.0 824.3C675.1 826.6 676.3 827.4 677.5 824.3C678.7 821.2 679.9 816.6 681.0 805.8C682.1 795.0 683.2 773.8 684.4 759.5C685.5 745.2 687.0 726.1 687.9 720.1C688.8 714.1 688.7 716.5 689.5 723.7C690.3 730.9 691.8 755.6 692.9 763.1C694.0 770.6 695.4 770.7 696.4 768.8C697.4 766.9 697.9 762.1 698.7 751.5C699.5 740.9 700.0 718.7 701.0 705.2C702.0 691.7 703.1 678.2 704.5 670.5C705.9 662.8 707.8 661.6 709.1 658.9C710.5 656.2 711.6 650.4 712.6 654.3C713.6 658.1 714.1 669.7 714.9 682.0C715.7 694.3 716.2 705.1 717.2 728.3C718.2 751.4 719.5 793.9 720.7 820.9C721.9 847.9 723.0 873.9 724.2 890.4C725.4 906.9 726.6 923.9 727.7 920.0C728.9 916.1 730.0 887.6 731.1 867.2C732.2 846.8 733.4 815.9 734.6 797.8C735.8 779.7 736.9 759.2 738.1 758.4C739.3 757.6 740.6 786.1 741.6 793.1C742.6 800.1 743.0 807.0 743.9 800.1C744.8 793.2 746.1 775.0 747.3 751.5C748.4 728.0 749.6 685.9 750.8 658.9C752.0 631.9 753.1 605.2 754.3 589.4C755.5 573.6 756.8 566.7 757.8 564.0C758.8 561.3 759.1 565.1 760.1 573.2C761.1 581.3 762.4 596.4 763.5 612.6C764.6 628.8 765.8 647.4 767.0 670.5C768.2 693.6 769.3 724.5 770.5 751.5C771.7 778.5 772.9 811.3 774.0 832.5C775.1 853.7 776.2 874.9 777.4 878.8C778.5 882.6 779.7 873.0 780.9 855.6C782.1 838.2 783.2 803.5 784.4 774.6C785.6 745.7 786.8 710.9 787.9 682.0C789.0 653.1 790.1 620.7 791.3 601.0C792.4 581.3 793.7 571.1 794.8 564.0C795.9 556.9 796.8 556.7 797.8 558.2C798.8 559.7 799.5 568.2 800.6 573.2C801.7 578.2 803.0 587.9 804.1 588.3C805.2 588.7 806.4 580.2 807.5 575.6C808.6 571.0 810.0 562.4 811.0 560.5C812.0 558.6 812.3 559.2 813.3 564.0C814.3 568.8 815.6 575.5 816.8 589.4C818.0 603.3 819.1 628.0 820.3 647.3C821.4 666.6 822.8 692.7 823.7 705.2C824.7 717.7 825.2 726.4 826.0 722.5C826.8 718.6 827.6 696.5 828.4 682.0C829.2 667.5 829.8 645.9 830.7 635.7C831.6 625.5 832.7 619.9 833.7 620.7C834.7 621.5 835.5 634.0 836.5 640.4C837.5 646.8 838.8 656.2 839.9 658.9C841.0 661.6 842.2 652.8 843.4 656.6C844.6 660.5 845.9 677.0 846.9 682.0C847.9 687.0 848.4 690.6 849.2 686.7C850.0 682.9 850.7 668.5 851.5 658.9C852.3 649.2 853.0 630.3 853.8 628.8C854.6 627.2 855.3 642.6 856.1 649.6C856.9 656.6 857.5 669.0 858.5 670.5C859.5 672.0 860.5 664.7 861.9 658.9C863.2 653.1 865.0 640.3 866.6 635.7C868.2 631.1 870.1 627.2 871.2 631.1C872.4 635.0 872.7 642.7 873.5 658.9C874.3 675.1 874.8 697.4 875.8 728.3C876.8 759.2 878.1 811.3 879.3 844.1C880.5 876.9 881.8 914.9 882.8 925.1C883.8 935.3 884.5 907.9 885.5 905.1C886.5 902.3 887.8 917.9 888.9 908.3C890.0 898.6 891.2 876.7 892.4 847.2C893.6 817.7 894.7 762.4 895.9 731.5C897.1 700.6 898.2 679.0 899.4 662.0C900.5 645.0 901.8 636.5 902.8 629.6C903.8 622.7 904.1 615.0 905.1 620.4C906.1 625.8 907.4 649.3 908.6 662.0C909.8 674.7 910.9 677.5 912.1 696.8C913.3 716.1 914.5 752.7 915.6 777.8C916.8 802.9 917.7 829.1 919.0 847.2C920.3 865.3 921.9 894.3 923.2 886.6C924.6 878.9 925.9 830.6 927.1 800.9C928.3 771.2 929.2 739.2 930.6 708.3C932.0 677.4 933.7 642.7 935.2 615.7C936.8 588.7 938.7 561.3 939.9 546.3C941.1 531.3 941.8 526.3 942.6 525.5C943.5 524.7 944.1 533.2 945.0 541.7C945.9 550.2 947.0 566.4 948.0 576.4C949.0 586.4 950.0 596.9 951.0 601.9C952.0 606.9 952.8 608.0 953.8 606.5C954.8 605.0 956.1 598.0 957.2 592.6C958.4 587.2 959.7 576.8 960.7 574.1C961.7 571.4 962.2 571.4 963.0 576.4C963.8 581.4 964.5 591.9 965.3 604.2C966.1 616.6 966.8 638.9 967.6 650.5C968.4 662.1 969.0 667.8 970.0 673.6C971.0 679.4 972.4 677.5 973.4 685.2C974.4 692.9 974.8 704.5 975.8 719.9C976.8 735.3 978.1 762.4 979.2 777.8C980.4 793.2 981.5 816.4 982.7 812.5C983.9 808.6 985.1 772.0 986.2 754.6C987.4 737.2 988.5 719.3 989.6 708.3C990.7 697.3 991.6 688.7 992.6 688.7C993.6 688.7 994.5 697.3 995.4 708.3C996.2 719.3 996.7 735.3 997.7 754.6C998.7 773.9 1000.0 801.0 1001.2 824.1C1002.4 847.2 1003.7 878.1 1004.7 893.5C1005.7 908.9 1006.0 924.4 1007.0 916.7C1008.0 909.0 1009.4 874.2 1010.5 847.2C1011.6 820.2 1012.5 779.7 1013.9 754.6C1015.2 729.5 1017.2 714.1 1018.6 696.8C1020.0 679.4 1020.9 665.9 1022.0 650.5C1023.1 635.1 1024.5 614.4 1025.5 604.2C1026.5 594.0 1027.3 589.1 1028.3 589.1C1029.3 589.1 1030.4 595.9 1031.3 604.2C1032.2 612.5 1032.8 627.3 1033.6 638.9C1034.4 650.5 1034.9 665.9 1035.9 673.6C1036.9 681.3 1038.2 689.1 1039.4 685.2C1040.6 681.4 1041.8 660.5 1042.9 650.5C1044.0 640.5 1045.1 629.8 1045.9 625.0C1046.7 620.2 1047.1 619.2 1047.7 621.5C1048.3 623.8 1048.9 630.2 1049.8 638.9C1050.7 647.6 1052.3 665.9 1053.3 673.6C1054.3 681.3 1054.6 683.3 1055.6 685.2C1056.6 687.1 1057.9 689.1 1059.1 685.2C1060.3 681.3 1061.4 673.6 1062.6 662.0C1063.8 650.4 1064.8 630.0 1066.0 615.7C1067.2 601.4 1068.5 586.0 1069.5 576.4C1070.5 566.8 1071.5 560.6 1072.3 557.9C1073.1 555.2 1073.7 554.4 1074.6 560.2C1075.5 566.0 1076.4 583.7 1077.6 592.6C1078.8 601.5 1080.8 613.0 1082.0 613.4C1083.2 613.8 1083.8 600.4 1084.9 595.0C1086.0 589.6 1087.1 584.2 1088.4 581.1C1089.8 578.0 1091.5 577.5 1093.0 576.5C1094.5 575.5 1096.4 573.8 1097.7 575.3C1099.0 576.8 1099.9 580.9 1101.1 585.7C1102.2 590.5 1103.5 599.1 1104.6 604.3C1105.7 609.5 1106.6 617.8 1107.6 617.0C1108.6 616.2 1109.6 603.1 1110.4 599.6C1111.2 596.1 1111.7 594.7 1112.7 596.2C1113.7 597.8 1115.0 603.7 1116.2 608.9C1117.4 614.1 1118.6 627.4 1119.7 627.4C1120.8 627.4 1122.1 619.7 1123.1 608.9C1124.1 598.1 1124.7 573.4 1125.5 562.6C1126.3 551.8 1127.3 542.2 1128.2 544.1C1129.1 546.0 1129.9 561.5 1130.8 574.2C1131.7 586.9 1132.8 609.3 1133.6 620.5C1134.4 631.7 1135.1 640.1 1135.9 641.3C1136.7 642.4 1137.6 632.8 1138.6 627.4C1139.6 622.0 1140.6 613.9 1141.7 608.9C1142.8 603.9 1143.9 599.4 1145.1 597.3C1146.2 595.2 1147.5 595.0 1148.6 596.2C1149.7 597.4 1150.6 601.8 1151.6 604.3C1152.6 606.8 1153.4 610.8 1154.4 611.2C1155.5 611.6 1156.6 607.8 1157.9 606.6C1159.2 605.5 1161.0 604.1 1162.5 604.3C1164.0 604.5 1165.9 610.8 1167.1 607.7C1168.2 604.6 1168.4 595.2 1169.4 585.7C1170.4 576.2 1171.7 562.6 1172.9 551.0C1174.1 539.4 1175.2 526.7 1176.4 516.3C1177.6 505.9 1178.8 494.7 1179.9 488.5C1181.0 482.3 1182.0 479.3 1182.9 479.3C1183.9 479.3 1184.6 480.4 1185.6 488.5C1186.5 496.6 1187.6 513.6 1188.6 527.9C1189.6 542.2 1190.6 559.9 1191.4 574.2C1192.2 588.5 1192.9 607.7 1193.7 613.5C1194.5 619.3 1195.1 613.5 1196.1 608.9C1197.1 604.3 1198.4 591.9 1199.5 585.7C1200.6 579.5 1201.5 573.4 1202.5 571.9C1203.5 570.4 1204.2 571.9 1205.3 576.5C1206.3 581.1 1207.7 591.1 1208.8 599.6C1209.9 608.1 1210.8 620.1 1211.8 627.4C1212.8 634.7 1213.8 642.8 1214.6 643.6C1215.4 644.4 1215.9 638.5 1216.9 632.0C1217.9 625.5 1219.2 612.0 1220.4 604.3C1221.6 596.6 1222.7 591.1 1223.8 585.7C1224.9 580.3 1226.2 577.3 1227.3 571.9C1228.4 566.5 1229.2 559.3 1230.3 553.3C1231.3 547.3 1232.5 537.1 1233.6 536.0C1234.6 534.9 1235.5 544.1 1236.6 546.4C1237.7 548.7 1238.8 549.1 1240.0 549.9C1241.2 550.7 1242.5 548.9 1243.5 551.0C1244.5 553.1 1244.8 555.6 1245.8 562.6C1246.8 569.6 1248.3 587.3 1249.3 592.7C1250.3 598.1 1250.8 600.0 1251.6 595.0C1252.4 590.0 1253.1 575.7 1253.9 562.6C1254.7 549.5 1255.4 528.1 1256.2 516.3C1257.0 504.5 1257.8 494.7 1258.6 492.0C1259.4 489.3 1260.3 492.2 1261.3 500.1C1262.2 508.0 1263.4 527.0 1264.3 539.4C1265.2 551.8 1265.9 562.6 1266.7 574.2C1267.5 585.8 1268.0 598.1 1269.0 608.9C1270.0 619.7 1271.4 633.8 1272.4 639.0C1273.4 644.2 1273.9 641.3 1274.8 640.1C1275.7 638.9 1277.2 642.2 1278.0 632.0C1278.8 621.8 1279.0 590.8 1279.8 578.9C1280.6 567.0 1281.9 558.5 1282.8 560.4C1283.7 562.3 1284.3 575.9 1285.1 590.5C1285.9 605.1 1286.8 636.7 1287.4 648.3C1288.1 659.9 1288.3 661.8 1289.0 659.9C1289.7 658.0 1290.4 646.4 1291.4 636.8C1292.4 627.1 1293.7 612.8 1294.8 602.0C1295.9 591.2 1297.1 578.1 1298.3 571.9C1299.5 565.7 1300.6 565.0 1301.8 565.0C1303.0 565.0 1304.0 568.6 1305.2 571.9C1306.4 575.2 1307.5 584.3 1308.7 584.7C1309.9 585.1 1311.1 581.0 1312.2 574.3C1313.3 567.5 1314.3 550.2 1315.2 544.2C1316.1 538.2 1316.7 532.6 1317.5 538.4C1318.3 544.2 1319.0 562.5 1319.8 578.9C1320.6 595.3 1321.3 621.2 1322.1 636.8C1322.9 652.4 1323.7 670.7 1324.5 672.6C1325.3 674.5 1326.0 658.1 1326.8 648.3C1327.6 638.5 1328.6 625.2 1329.6 613.6C1330.6 602.0 1331.8 589.3 1333.0 578.9C1334.2 568.5 1335.3 558.4 1336.5 551.1C1337.7 543.8 1338.8 538.0 1340.0 534.9C1341.2 531.8 1342.2 529.1 1343.4 532.6C1344.6 536.1 1345.9 554.6 1346.9 555.7C1347.9 556.9 1348.2 546.0 1349.2 539.5C1350.2 533.0 1351.5 522.2 1352.7 516.4C1353.9 510.6 1355.1 509.8 1356.2 504.8C1357.3 499.8 1358.4 490.0 1359.6 486.3C1360.8 482.6 1362.1 480.9 1363.1 482.8C1364.1 484.7 1364.4 490.4 1365.4 497.9C1366.4 505.4 1367.7 519.9 1368.9 528.0C1370.1 536.1 1371.2 545.7 1372.4 546.5C1373.6 547.3 1374.8 536.1 1375.9 532.6C1377.1 529.1 1378.2 527.5 1379.3 525.6C1380.4 523.7 1381.6 525.6 1382.8 521.0C1384.0 516.4 1385.1 508.3 1386.3 497.9C1387.5 487.5 1388.7 466.4 1389.7 458.5C1390.7 450.6 1391.5 447.7 1392.5 450.4C1393.5 453.1 1394.4 466.0 1395.5 474.7C1396.6 483.4 1397.8 500.2 1399.0 502.5C1400.2 504.8 1401.3 491.3 1402.5 488.6C1403.7 485.9 1404.8 482.8 1405.9 486.3C1407.1 489.8 1408.2 502.4 1409.4 509.4C1410.6 516.4 1411.7 526.5 1412.9 528.0C1414.1 529.5 1415.2 521.0 1416.4 518.7C1417.6 516.4 1418.5 514.5 1419.8 514.1C1421.1 513.7 1423.2 516.4 1424.5 516.4C1425.8 516.4 1426.8 519.1 1427.9 514.1C1429.1 509.1 1430.1 491.7 1431.4 486.3C1432.8 480.9 1434.7 485.6 1436.0 481.7C1437.3 477.8 1438.4 469.3 1439.5 463.1C1440.6 456.9 1441.6 446.9 1442.5 444.6C1443.4 442.3 1444.0 443.1 1444.8 449.3C1445.6 455.5 1446.3 472.4 1447.1 481.7C1447.9 490.9 1448.7 504.8 1449.5 504.8C1450.3 504.8 1451.0 487.1 1451.8 481.7C1452.6 476.3 1453.2 469.3 1454.1 472.4C1454.9 475.5 1456.1 490.9 1456.9 500.2C1457.8 509.5 1458.2 524.1 1459.2 528.0C1460.2 531.9 1461.6 524.8 1462.7 523.3C1463.8 521.8 1464.9 517.9 1466.1 518.7C1467.2 519.5 1468.6 523.8 1469.6 528.0C1470.6 532.2 1471.2 540.4 1471.9 544.2C1472.6 548.1 1473.2 552.5 1474.0 551.1C1474.8 549.7 1475.8 542.1 1476.9 535.7C1478.0 529.3 1479.2 524.2 1480.4 512.6C1481.6 501.0 1482.9 478.3 1483.9 466.3C1485.0 454.3 1485.7 445.8 1486.7 440.8C1487.7 435.8 1488.7 433.9 1489.7 436.2C1490.7 438.5 1491.5 444.7 1492.5 454.7C1493.5 464.7 1494.5 485.2 1495.5 496.4C1496.5 507.6 1497.5 521.1 1498.5 521.9C1499.5 522.7 1500.2 512.2 1501.2 501.0C1502.2 489.8 1503.5 469.3 1504.7 454.7C1505.9 440.1 1507.1 423.5 1508.2 413.1C1509.3 402.7 1510.3 396.3 1511.2 392.2C1512.1 388.1 1512.7 385.8 1513.5 388.5C1514.3 391.2 1515.0 397.4 1515.8 408.4C1516.6 419.4 1517.4 441.2 1518.1 454.7C1518.8 468.2 1519.1 487.8 1519.8 489.4C1520.5 490.9 1521.3 468.6 1522.1 464.0C1522.9 459.4 1523.6 459.0 1524.4 461.7C1525.2 464.4 1525.9 475.6 1526.7 480.2C1527.5 484.8 1528.2 490.6 1529.0 489.4C1529.8 488.2 1530.5 477.6 1531.3 473.2C1532.1 468.8 1532.7 463.8 1533.7 462.8C1534.7 461.9 1535.9 467.3 1537.1 467.5C1538.2 467.7 1539.5 465.6 1540.6 464.0C1541.7 462.4 1542.6 458.2 1543.6 458.2C1544.6 458.2 1545.4 462.6 1546.4 464.0C1547.5 465.4 1548.8 466.5 1549.9 466.3C1551.1 466.1 1552.2 462.0 1553.3 462.8C1554.4 463.6 1555.6 468.2 1556.8 470.9C1558.0 473.6 1559.1 477.3 1560.3 479.0C1561.5 480.7 1562.6 480.1 1563.8 481.3C1565.0 482.5 1566.0 486.9 1567.2 486.0C1568.4 485.1 1569.5 479.7 1570.7 475.6C1571.9 471.6 1573.1 465.6 1574.2 461.7C1575.3 457.8 1576.4 455.9 1577.6 452.4C1578.8 448.9 1579.8 444.6 1581.1 440.8C1582.4 437.0 1584.3 433.5 1585.7 429.3C1587.1 425.1 1588.0 420.8 1589.2 415.4C1590.4 410.0 1591.5 403.5 1592.7 396.9C1593.9 390.3 1595.2 380.5 1596.2 376.0C1597.2 371.5 1597.7 369.6 1598.5 370.0C1599.3 370.4 1600.0 371.9 1600.8 378.3C1601.6 384.7 1602.1 397.6 1603.1 408.4C1604.1 419.2 1605.6 435.8 1606.6 443.1C1607.6 450.4 1608.1 451.2 1608.9 452.4C1609.8 453.6 1610.7 451.5 1611.7 450.1C1612.7 448.8 1613.6 446.2 1614.7 444.3C1615.8 442.4 1617.1 444.5 1618.1 438.5C1619.1 432.5 1619.7 419.2 1620.5 408.4C1621.3 397.6 1622.0 381.8 1622.8 373.7C1623.6 365.6 1624.6 361.9 1625.6 359.8C1626.6 357.7 1627.7 356.8 1628.6 361.0C1629.5 365.2 1629.9 376.6 1630.9 385.3C1631.9 394.0 1633.2 412.0 1634.4 413.1C1635.6 414.2 1636.5 395.9 1637.8 392.2C1639.1 388.5 1641.2 394.2 1642.5 391.1C1643.8 388.0 1644.5 380.1 1645.5 373.7C1646.5 367.3 1647.4 357.1 1648.2 352.9C1649.0 348.6 1649.6 346.5 1650.6 348.2C1651.6 349.9 1652.8 362.5 1654.0 363.3C1655.2 364.1 1656.2 356.4 1657.5 352.9C1658.8 349.4 1660.8 344.6 1662.1 342.5C1663.4 340.4 1664.5 339.9 1665.6 340.1C1666.7 340.3 1667.9 339.9 1668.6 343.6C1669.3 347.3 1669.3 358.4 1670.0 362.1C1670.7 365.8 1671.8 360.5 1672.9 365.7C1674.0 370.9 1675.2 387.1 1676.4 393.5C1677.6 399.9 1678.7 402.3 1679.9 403.9C1681.1 405.4 1682.2 406.1 1683.4 402.8C1684.6 399.5 1685.7 389.7 1686.8 384.3C1687.9 378.9 1689.1 373.5 1690.3 370.4C1691.5 367.3 1692.6 368.4 1693.8 365.7C1695.0 363.0 1696.2 354.2 1697.2 354.2C1698.2 354.2 1698.8 358.0 1699.6 365.7C1700.4 373.4 1701.1 391.0 1701.9 400.5C1702.7 410.0 1703.3 420.6 1704.2 422.5C1705.1 424.4 1706.2 417.6 1707.2 412.0C1708.2 406.4 1709.0 396.6 1710.0 388.9C1711.0 381.2 1712.2 372.6 1713.5 365.7C1714.8 358.8 1716.6 353.0 1718.1 347.2C1719.6 341.4 1721.4 334.9 1722.7 331.0C1724.0 327.1 1724.8 324.9 1725.7 324.1C1726.6 323.3 1727.2 321.4 1728.0 326.4C1728.8 331.4 1729.6 343.8 1730.4 354.2C1731.2 364.6 1732.3 381.2 1733.1 388.9C1733.9 396.6 1734.2 398.4 1735.4 400.5C1736.6 402.6 1738.5 401.6 1740.1 401.6C1741.6 401.6 1743.2 401.1 1744.7 400.5C1746.2 399.9 1748.0 402.0 1749.3 398.1C1750.6 394.2 1751.6 385.4 1752.8 377.3C1754.0 369.2 1755.3 355.3 1756.3 349.5C1757.3 343.7 1757.8 342.6 1758.6 342.6C1759.4 342.6 1760.4 344.9 1761.4 349.5C1762.4 354.1 1763.3 364.6 1764.4 370.4C1765.5 376.2 1766.8 380.4 1767.9 384.3C1769.1 388.2 1770.2 392.7 1771.3 393.5C1772.4 394.3 1773.6 392.0 1774.8 388.9C1776.0 385.8 1777.1 379.6 1778.3 375.0C1779.5 370.4 1780.5 365.7 1781.7 361.1C1782.9 356.5 1784.1 350.5 1785.2 347.2C1786.3 343.9 1787.2 340.2 1788.2 341.4C1789.2 342.6 1790.2 349.4 1791.0 354.2C1791.8 359.0 1792.3 365.8 1793.3 370.4C1794.3 375.0 1795.6 379.6 1796.8 381.9C1798.0 384.2 1799.1 385.4 1800.3 384.3C1801.5 383.2 1802.5 376.2 1803.7 375.0C1804.9 373.8 1806.0 375.4 1807.2 377.3C1808.4 379.2 1809.6 384.7 1810.7 386.6C1811.8 388.5 1812.9 390.4 1814.1 388.9C1815.2 387.3 1816.2 379.4 1817.6 377.3C1818.9 375.2 1820.7 376.2 1822.2 376.2C1823.8 376.2 1825.5 378.3 1826.9 377.3C1828.3 376.3 1829.2 372.1 1830.4 370.4C1831.6 368.7 1832.7 366.9 1833.8 366.9C1834.9 366.9 1836.1 366.7 1837.3 370.4C1838.5 374.1 1839.6 382.7 1840.8 388.9C1842.0 395.1 1843.0 403.0 1844.2 407.4C1845.4 411.8 1846.7 416.6 1847.7 415.5C1848.7 414.4 1849.0 406.9 1850.0 400.5C1851.0 394.1 1852.3 384.6 1853.5 377.3C1854.7 370.0 1855.8 360.6 1857.0 356.5C1858.2 352.4 1859.2 351.5 1860.4 353.0C1861.6 354.5 1863.0 361.3 1863.9 365.7C1864.8 370.1 1865.3 370.5 1866.0 379.6C1866.7 388.7 1867.1 412.1 1867.8 420.4C1868.5 428.7 1869.2 431.5 1870.1 429.6C1871.0 427.7 1872.1 415.0 1873.1 408.8C1874.1 402.6 1875.1 395.9 1875.9 392.6C1876.8 389.3 1877.4 387.6 1878.2 389.1C1879.0 390.7 1880.0 397.5 1881.0 401.9C1882.0 406.3 1882.9 416.5 1884.0 415.7C1885.1 414.9 1886.3 403.8 1887.5 397.2C1888.7 390.6 1889.8 382.9 1890.9 376.4C1892.1 369.8 1893.2 363.5 1894.4 357.9C1895.6 352.3 1896.7 344.7 1897.9 342.8C1899.1 340.9 1900.2 344.2 1901.4 346.3C1902.6 348.4 1903.7 353.7 1904.8 355.6C1905.9 357.5 1907.1 359.1 1908.3 357.9C1909.5 356.7 1910.6 350.7 1911.8 348.6C1913.0 346.5 1914.0 345.5 1915.2 345.1C1916.4 344.7 1917.6 347.7 1918.7 346.3C1919.8 344.9 1920.7 338.9 1921.7 337.0C1922.7 335.1 1923.5 334.3 1924.5 334.7C1925.5 335.1 1926.9 334.8 1928.0 339.4C1929.1 344.0 1930.0 356.3 1931.0 362.5C1932.0 368.7 1933.0 377.2 1933.8 376.4C1934.6 375.6 1935.3 362.9 1936.1 357.9C1936.9 352.9 1937.6 342.4 1938.4 346.3C1939.2 350.2 1939.9 366.7 1940.7 381.0C1941.5 395.3 1942.5 423.2 1943.5 431.9C1944.5 440.6 1945.4 434.2 1946.5 433.1C1947.6 432.0 1949.0 426.9 1950.0 425.0C1951.0 423.1 1951.9 417.2 1952.7 421.5C1953.5 425.8 1954.3 440.6 1955.1 450.5C1955.9 460.4 1956.6 474.8 1957.4 480.6C1958.2 486.4 1958.8 488.3 1959.7 485.2C1960.6 482.1 1961.7 471.3 1962.7 462.0C1963.7 452.7 1964.7 437.7 1965.7 429.6C1966.7 421.5 1967.5 416.9 1968.5 413.4C1969.5 409.9 1970.8 409.2 1972.0 408.8C1973.2 408.4 1974.2 412.2 1975.4 411.1C1976.6 410.0 1977.7 405.0 1978.9 401.9C1980.1 398.8 1981.2 394.7 1982.4 392.6C1983.6 390.5 1984.7 389.1 1985.8 389.1C1986.9 389.1 1987.9 390.5 1988.9 392.6C1989.9 394.7 1990.7 399.4 1991.6 401.9C1992.5 404.4 1993.4 407.6 1994.4 407.6C1995.4 407.6 1996.3 403.4 1997.4 401.9C1998.5 400.4 1999.7 398.8 2000.9 398.4C2002.1 398.0 2003.2 397.8 2004.4 399.5C2005.6 401.2 2006.8 402.2 2007.8 408.8C2008.8 415.4 2009.2 428.9 2010.1 438.9C2010.9 448.9 2012.1 465.1 2012.9 469.0C2013.8 472.9 2014.4 465.5 2015.2 462.0C2016.0 458.5 2016.8 451.0 2017.6 448.1C2018.4 445.2 2019.0 443.9 2019.9 444.7C2020.8 445.5 2021.9 450.7 2022.9 452.8C2023.9 454.9 2024.9 457.8 2025.9 457.4C2026.9 457.0 2027.7 452.4 2028.7 450.5C2029.7 448.6 2030.9 445.8 2032.1 445.8C2033.2 445.8 2034.4 445.9 2035.6 450.5C2036.8 455.1 2038.0 464.7 2039.1 473.6C2040.2 482.5 2041.1 495.6 2042.1 503.7C2043.1 511.8 2044.1 521.4 2044.9 522.2C2045.8 523.0 2046.2 515.2 2047.2 508.3C2048.2 501.4 2049.5 488.3 2050.7 480.6C2051.8 472.9 2053.2 469.3 2054.1 462.0C2055.0 454.7 2055.4 443.5 2056.1 436.6C2056.8 429.7 2057.4 425.0 2058.4 420.4C2059.4 415.8 2060.8 411.9 2061.9 408.8C2063.1 405.7 2064.2 403.6 2065.3 401.9C2066.4 400.2 2067.3 398.4 2068.3 398.4C2069.3 398.4 2070.2 400.4 2071.1 401.9C2071.9 403.4 2072.6 407.0 2073.4 407.6C2074.2 408.2 2075.2 405.5 2076.2 405.3C2077.2 405.1 2078.3 403.2 2079.2 406.5C2080.1 409.8 2080.7 418.8 2081.5 425.0C2082.3 431.2 2083.0 439.6 2083.8 443.5C2084.6 447.4 2085.3 448.1 2086.2 448.1C2087.1 448.1 2088.3 446.6 2089.2 443.5C2090.1 440.4 2090.7 434.2 2091.5 429.6C2092.3 425.0 2093.4 418.0 2093.8 415.7" fill="none" stroke="#FF0000" stroke-width="3.1" stroke-linejoin="round" stroke-linecap="round"/>
<path d="M271.5 501.9C272.0 498.0 273.6 485.4 274.7 478.8C275.8 472.2 277.2 466.1 278.2 462.6C279.2 459.1 279.6 457.2 280.5 458.0C281.4 458.8 282.3 460.3 283.3 467.2C284.3 474.1 285.2 488.8 286.3 499.6C287.4 510.4 288.8 524.3 289.8 532.0C290.8 539.7 291.1 548.2 292.1 545.9C293.1 543.6 294.5 525.8 295.6 518.1C296.8 510.4 298.0 503.7 299.0 499.6C300.0 495.6 300.4 492.2 301.4 493.8C302.4 495.4 303.7 504.6 304.8 508.9C305.9 513.1 306.8 520.8 307.8 519.3C308.9 517.8 310.1 506.0 311.1 499.6C312.2 493.2 313.1 484.9 314.1 481.1C315.1 477.3 316.1 473.8 317.1 476.9C318.1 480.0 318.9 488.5 319.9 499.6C320.9 510.7 322.1 532.8 323.3 543.6C324.5 554.4 325.8 566.3 326.8 564.4C327.9 562.5 328.6 545.1 329.6 532.0C330.6 518.9 331.6 497.6 332.6 485.7C333.6 473.8 334.8 465.2 335.6 460.3C336.4 455.4 336.6 453.0 337.5 456.1C338.4 459.2 339.6 466.2 340.7 478.8C341.8 491.4 343.0 514.2 344.2 532.0C345.4 549.8 346.5 574.5 347.6 585.3C348.8 596.1 349.9 598.1 351.1 596.9C352.3 595.7 353.2 586.0 354.6 578.3C356.0 570.6 357.6 558.7 359.2 550.6C360.8 542.5 362.3 534.5 363.9 529.7C365.4 524.9 367.1 523.1 368.5 521.6C369.9 520.1 371.2 519.1 372.6 520.5C374.0 521.9 375.4 523.9 376.6 529.7C377.9 535.5 379.0 547.9 380.1 555.2C381.2 562.5 382.1 567.5 383.5 573.7C384.9 579.9 386.6 586.0 388.2 592.2C389.8 598.4 391.4 605.7 392.8 610.7C394.2 615.7 395.3 619.8 396.3 622.3C397.3 624.8 398.1 626.9 399.0 625.8C399.9 624.6 400.9 621.4 402.0 615.4C403.1 609.4 404.1 596.5 405.5 589.9C406.9 583.3 408.6 578.5 410.1 576.0C411.7 573.5 413.2 575.5 414.8 574.9C416.4 574.3 417.9 575.8 419.4 572.5C420.9 569.2 422.4 559.6 424.0 555.2C425.6 550.8 427.3 548.2 428.7 545.9C430.1 543.6 431.0 537.8 432.1 541.3C433.2 544.8 434.4 556.0 435.6 566.8C436.8 577.6 438.0 604.2 439.1 606.1C440.2 608.0 441.1 590.6 442.1 578.3C443.1 565.9 443.9 543.6 444.9 532.0C445.9 520.4 447.1 512.9 448.3 508.9C449.5 504.8 450.6 507.3 451.8 507.7C453.0 508.1 454.1 507.9 455.3 511.2C456.5 514.5 457.7 520.1 458.8 527.4C459.9 534.7 461.1 543.7 462.0 555.2C462.9 566.7 463.2 584.1 463.9 596.4C464.6 608.7 465.4 617.6 466.2 628.8C467.0 640.0 467.9 653.3 468.9 663.5C469.9 673.7 471.0 688.9 472.0 690.1C473.0 691.3 474.1 677.2 475.0 670.5C475.9 663.8 476.7 655.8 477.7 649.6C478.7 643.4 480.0 636.9 481.2 633.4C482.4 629.9 483.5 628.4 484.7 628.8C485.9 629.2 487.0 637.6 488.2 635.7C489.4 633.8 490.5 623.0 491.6 617.2C492.8 611.4 493.9 601.0 495.1 601.0C496.3 601.0 497.6 609.1 498.6 617.2C499.6 625.3 500.0 640.7 500.9 649.6C501.8 658.5 502.7 667.4 503.7 670.5C504.7 673.6 505.6 671.6 506.7 668.1C507.8 664.6 509.0 647.3 510.1 649.6C511.2 651.9 512.4 668.9 513.6 682.0C514.8 695.1 515.9 705.1 517.1 728.3C518.3 751.4 519.7 796.4 520.6 820.9C521.5 845.4 521.5 865.0 522.4 875.2C523.3 885.4 524.7 879.1 525.9 882.2C527.1 885.3 528.2 887.2 529.4 893.8C530.5 900.3 531.8 911.9 532.8 921.5C533.8 931.1 534.3 944.3 535.1 951.6C535.9 958.9 536.7 966.6 537.5 965.5C538.3 964.4 539.0 955.9 539.8 944.7C540.6 933.5 541.1 917.7 542.1 898.4C543.1 879.1 544.5 855.9 545.6 828.9C546.8 801.9 548.0 762.2 549.0 736.3C550.0 710.4 550.5 688.3 551.3 673.6C552.1 658.9 552.7 652.7 553.7 648.1C554.7 643.5 556.2 643.5 557.1 645.8C558.0 648.1 558.4 653.5 559.4 662.0C560.4 670.5 561.7 685.2 562.9 696.8C564.1 708.4 565.4 725.7 566.4 731.5C567.4 737.3 567.9 735.6 568.7 731.7C569.5 727.8 570.0 719.9 571.0 708.3C572.0 696.7 573.3 674.3 574.5 662.0C575.7 649.7 576.9 639.7 578.0 634.3C579.1 628.9 580.2 626.9 581.4 629.6C582.5 632.3 583.7 631.2 584.9 650.5C586.1 669.8 587.2 723.6 588.4 745.6C589.6 767.6 590.9 774.1 591.9 782.6C592.9 791.1 593.6 796.5 594.6 796.5C595.6 796.5 596.5 792.6 597.6 782.6C598.7 772.6 600.1 751.7 601.1 736.3C602.1 720.9 602.6 704.3 603.4 690.0C604.2 675.7 604.7 662.1 605.7 650.5C606.7 638.9 608.0 627.4 609.2 620.4C610.4 613.4 611.5 610.3 612.7 608.8C613.9 607.2 615.2 607.6 616.2 611.1C617.2 614.6 617.5 621.1 618.5 629.6C619.5 638.1 620.8 648.9 621.9 662.0C623.0 675.1 624.2 710.2 625.4 708.3C626.6 706.4 627.5 667.9 628.9 650.5C630.2 633.1 632.1 613.1 633.5 604.2C634.9 595.3 635.6 597.6 637.0 597.2C638.4 596.8 640.2 596.5 641.6 601.9C643.0 607.3 643.9 615.7 645.1 629.6C646.3 643.5 647.5 663.6 648.6 685.2C649.8 706.9 650.9 740.2 652.0 759.5C653.1 778.8 654.5 793.5 655.5 801.2C656.5 808.9 656.8 807.8 657.8 805.8C658.8 803.8 659.9 793.3 661.3 789.4C662.6 785.5 664.5 786.5 665.9 782.6C667.2 778.7 668.2 772.8 669.4 766.2C670.6 759.7 671.8 749.1 672.9 743.3C674.0 737.5 675.1 737.3 676.3 731.5C677.4 725.7 678.4 717.9 679.8 708.3C681.1 698.6 682.7 683.2 684.4 673.6C686.1 664.0 688.2 661.0 690.0 650.5C691.8 640.0 693.8 617.8 695.3 610.3C696.8 602.8 697.6 603.3 698.7 605.6C699.9 607.9 701.0 615.3 702.2 624.2C703.4 633.1 704.7 652.4 705.7 658.9C706.7 665.4 707.2 665.0 708.0 663.5C708.8 662.0 709.5 653.8 710.3 649.6C711.1 645.4 711.8 636.6 712.6 638.1C713.4 639.6 714.1 647.7 714.9 658.9C715.7 670.1 716.2 682.1 717.2 705.2C718.2 728.4 719.5 770.8 720.7 797.8C721.9 824.8 723.2 852.9 724.2 867.2C725.2 881.5 725.5 887.2 726.5 883.4C727.5 879.5 728.8 860.3 730.0 844.1C731.2 827.9 732.4 802.4 733.5 786.2C734.6 770.0 735.9 754.0 736.9 746.9C737.9 739.8 738.2 742.6 739.2 743.4C740.2 744.2 741.5 755.9 742.7 751.5C743.9 747.1 744.9 734.2 746.2 716.8C747.6 699.4 749.3 667.8 750.8 647.3C752.3 626.8 754.2 605.1 755.4 594.1C756.6 583.1 757.2 580.1 758.2 581.3C759.2 582.4 760.1 590.0 761.2 601.0C762.3 612.0 763.5 629.9 764.7 647.3C765.9 664.7 767.1 682.1 768.2 705.2C769.4 728.4 770.5 759.2 771.6 786.2C772.8 813.2 774.1 847.1 775.1 867.2C776.1 887.3 776.9 906.6 777.9 906.6C778.9 906.6 779.8 889.2 780.9 867.2C782.0 845.2 783.2 805.5 784.4 774.6C785.6 743.7 786.8 708.2 787.9 682.0C789.0 655.8 790.3 631.1 791.3 617.2C792.2 603.3 792.6 602.0 793.6 598.7C794.6 595.4 795.9 596.4 797.1 597.5C798.3 598.6 799.6 603.9 800.6 605.6C801.6 607.4 802.1 609.5 802.9 608.0C803.7 606.5 804.3 598.9 805.2 596.4C806.1 593.9 807.2 592.1 808.2 592.9C809.2 593.7 810.0 595.8 811.0 601.0C812.0 606.2 813.4 612.6 814.5 624.2C815.6 635.8 816.8 657.0 817.9 670.5C819.0 684.0 820.2 697.1 821.4 705.2C822.6 713.3 823.7 724.9 824.9 719.1C826.1 713.3 827.2 685.5 828.4 670.5C829.5 655.5 830.8 636.5 831.8 628.8C832.8 621.1 833.1 619.2 834.1 624.2C835.1 629.2 836.4 654.7 837.6 658.9C838.8 663.1 840.1 652.3 841.1 649.6C842.1 646.9 842.4 641.2 843.4 642.7C844.4 644.2 845.7 662.0 846.9 658.9C848.1 655.8 849.2 632.7 850.4 624.2C851.5 615.7 852.6 612.6 853.8 608.0C854.9 603.4 856.3 602.6 857.3 596.4C858.3 590.2 858.6 576.5 859.6 570.9C860.6 565.3 861.9 563.6 863.1 562.8C864.3 562.0 865.6 561.9 866.6 566.3C867.6 570.7 868.1 577.8 868.9 589.4C869.7 601.0 870.2 612.6 871.2 635.7C872.2 658.9 873.6 693.6 874.7 728.3C875.9 763.0 877.0 813.2 878.1 844.1C879.2 875.0 880.6 900.2 881.6 913.5C882.6 926.8 883.3 926.9 884.3 923.6C885.3 920.3 886.6 914.0 887.8 893.5C889.0 873.0 890.1 831.8 891.3 800.9C892.4 770.0 893.6 735.3 894.7 708.3C895.9 681.3 897.2 656.2 898.2 638.9C899.2 621.5 900.1 610.8 901.0 604.2C901.9 597.6 902.5 598.4 903.3 599.5C904.1 600.6 904.7 600.7 905.6 611.1C906.5 621.5 907.5 641.9 908.6 662.0C909.7 682.1 910.9 708.4 912.1 731.5C913.3 754.6 914.5 781.6 915.6 800.9C916.8 820.2 917.6 834.9 919.0 847.2C920.4 859.6 922.4 882.7 923.7 875.0C925.1 867.3 926.0 830.6 927.1 800.9C928.2 771.2 929.4 723.8 930.6 696.8C931.8 669.8 932.9 656.3 934.1 638.9C935.3 621.5 936.5 606.1 937.6 592.6C938.8 579.1 940.0 564.1 941.0 557.9C942.0 551.7 942.5 549.8 943.3 555.6C944.1 561.4 944.9 583.2 945.7 592.6C946.5 602.0 947.1 614.2 948.0 612.3C948.9 610.4 949.9 588.1 950.8 581.0C951.7 573.9 952.4 567.5 953.3 569.4C954.2 571.3 955.1 581.0 956.1 592.6C957.1 604.2 958.4 621.5 959.5 638.9C960.6 656.3 961.8 677.5 963.0 696.8C964.2 716.1 965.3 737.2 966.5 754.6C967.7 772.0 968.9 787.4 970.0 800.9C971.1 814.4 972.2 827.7 973.4 835.6C974.6 843.5 976.0 853.9 977.4 848.1C978.8 842.3 980.2 820.3 981.5 800.9C982.8 781.5 983.8 748.5 985.0 731.5C986.2 714.5 987.5 704.9 988.5 699.1C989.5 693.3 989.8 691.4 990.8 696.8C991.8 702.2 993.1 714.1 994.3 731.5C995.4 748.9 996.6 773.9 997.7 800.9C998.9 827.9 1000.1 867.5 1001.2 893.5C1002.3 919.5 1003.2 949.2 1004.2 956.9C1005.2 964.6 1006.0 958.1 1007.0 939.8C1008.0 921.5 1009.4 878.1 1010.5 847.2C1011.6 816.3 1012.5 779.7 1013.9 754.6C1015.2 729.5 1017.0 710.3 1018.6 696.8C1020.2 683.3 1021.9 679.4 1023.2 673.6C1024.5 667.8 1025.7 655.4 1026.7 662.0C1027.7 668.6 1028.0 711.1 1029.0 713.0C1030.0 714.9 1031.2 682.1 1032.5 673.6C1033.8 665.1 1035.6 661.2 1037.1 662.0C1038.6 662.8 1040.3 676.7 1041.7 678.2C1043.1 679.8 1044.2 672.8 1045.2 671.3C1046.2 669.8 1046.7 662.8 1047.5 669.0C1048.3 675.2 1049.0 690.2 1049.8 708.3C1050.6 726.4 1051.4 763.5 1052.1 777.8C1052.8 792.1 1053.0 797.9 1053.8 794.0C1054.6 790.1 1055.7 768.9 1056.8 754.6C1057.9 740.3 1058.8 723.7 1060.2 708.3C1061.6 692.9 1063.4 679.4 1064.9 662.0C1066.5 644.6 1068.2 615.8 1069.5 604.2C1070.8 592.6 1071.8 590.7 1073.0 592.6C1074.2 594.5 1074.9 606.1 1076.4 615.7C1077.9 625.4 1080.6 651.6 1082.0 650.5C1083.4 649.4 1083.8 620.1 1084.9 608.9C1086.0 597.7 1087.4 586.5 1088.4 583.4C1089.4 580.3 1089.7 586.1 1090.7 590.4C1091.7 594.6 1093.0 607.0 1094.2 608.9C1095.4 610.8 1096.6 601.1 1097.7 601.9C1098.8 602.7 1099.9 606.5 1101.1 613.5C1102.2 620.5 1103.4 635.9 1104.6 643.6C1105.8 651.3 1106.8 659.0 1108.1 659.8C1109.4 660.6 1111.3 649.0 1112.7 648.2C1114.1 647.4 1115.1 653.5 1116.2 655.2C1117.3 657.0 1118.2 659.5 1119.2 658.7C1120.2 657.9 1121.0 651.6 1122.0 650.6C1123.0 649.6 1124.3 653.7 1125.5 652.9C1126.7 652.1 1127.8 647.8 1128.9 645.9C1130.1 644.0 1131.2 642.1 1132.4 641.3C1133.6 640.5 1134.8 640.1 1135.9 641.3C1137.1 642.4 1138.2 645.5 1139.3 648.2C1140.4 650.9 1141.8 654.4 1142.8 657.5C1143.8 660.6 1144.6 664.9 1145.6 666.8C1146.6 668.7 1147.5 671.8 1148.6 669.1C1149.7 666.4 1150.9 654.5 1152.1 650.6C1153.2 646.7 1154.3 646.3 1155.5 645.9C1156.7 645.5 1157.7 646.9 1159.0 648.2C1160.3 649.6 1162.0 654.8 1163.2 654.0C1164.4 653.2 1165.0 649.2 1166.0 643.6C1167.0 638.0 1168.2 628.2 1169.4 620.5C1170.6 612.8 1171.6 604.2 1172.9 597.3C1174.2 590.3 1176.0 583.0 1177.5 578.8C1179.0 574.6 1180.9 571.5 1182.2 571.9C1183.5 572.3 1184.4 574.9 1185.6 581.1C1186.8 587.3 1188.1 596.5 1189.1 608.9C1190.1 621.2 1190.6 645.6 1191.4 655.2C1192.2 664.9 1192.9 668.3 1193.7 666.8C1194.5 665.2 1195.1 651.7 1196.1 645.9C1197.1 640.1 1198.3 633.5 1199.5 632.0C1200.7 630.5 1201.8 634.0 1203.0 636.7C1204.2 639.4 1205.3 644.4 1206.5 648.2C1207.7 652.1 1208.8 656.7 1209.9 659.8C1211.1 662.9 1212.2 665.6 1213.4 666.8C1214.6 668.0 1215.7 668.7 1216.9 666.8C1218.1 664.9 1219.2 661.0 1220.4 655.2C1221.6 649.4 1222.7 640.5 1223.8 632.0C1224.9 623.5 1226.3 610.3 1227.3 604.3C1228.3 598.3 1228.6 596.6 1229.6 596.2C1230.6 595.8 1231.9 599.8 1233.1 601.9C1234.3 604.0 1235.4 607.0 1236.6 608.9C1237.8 610.8 1238.8 612.5 1240.0 613.5C1241.2 614.5 1242.5 612.4 1243.5 614.7C1244.5 617.0 1244.9 623.9 1245.8 627.4C1246.7 630.9 1247.8 635.5 1248.8 635.5C1249.8 635.5 1250.5 633.4 1251.6 627.4C1252.6 621.4 1253.9 605.8 1255.1 599.6C1256.3 593.4 1257.4 590.4 1258.6 590.4C1259.8 590.4 1261.0 594.6 1262.0 599.6C1263.0 604.6 1263.5 613.2 1264.3 620.5C1265.1 627.8 1265.7 635.1 1266.7 643.6C1267.7 652.1 1269.1 664.8 1270.1 671.4C1271.0 678.0 1271.4 683.8 1272.4 683.0C1273.4 682.2 1275.0 673.4 1275.9 666.8C1276.8 660.2 1277.2 648.6 1278.0 643.6C1278.8 638.6 1279.8 636.0 1280.9 636.8C1282.0 637.6 1283.3 644.4 1284.4 648.3C1285.5 652.1 1286.4 659.9 1287.4 659.9C1288.4 659.9 1289.2 654.8 1290.2 648.3C1291.2 641.8 1292.6 628.3 1293.7 620.6C1294.8 612.9 1295.9 605.9 1297.1 602.0C1298.2 598.1 1299.4 597.4 1300.6 597.4C1301.8 597.4 1302.9 600.8 1304.1 602.0C1305.3 603.2 1306.4 605.9 1307.6 604.4C1308.8 602.9 1309.8 596.3 1311.0 592.8C1312.2 589.3 1313.5 582.0 1314.5 583.5C1315.5 585.0 1315.8 593.9 1316.8 602.0C1317.8 610.1 1319.1 624.4 1320.3 632.1C1321.5 639.8 1322.6 648.7 1323.8 648.3C1325.0 647.9 1326.0 635.6 1327.2 629.8C1328.4 624.0 1329.5 620.1 1330.7 613.6C1331.9 607.1 1333.2 597.8 1334.2 590.5C1335.2 583.2 1335.7 573.5 1336.5 569.6C1337.3 565.7 1338.0 563.8 1338.8 567.3C1339.6 570.8 1340.3 584.7 1341.1 590.5C1341.9 596.3 1342.6 602.0 1343.4 602.0C1344.2 602.0 1344.8 596.3 1345.8 590.5C1346.8 584.7 1348.0 575.8 1349.2 567.3C1350.4 558.8 1351.7 545.3 1352.7 539.5C1353.7 533.7 1354.2 530.7 1355.0 532.6C1355.8 534.5 1356.3 546.9 1357.3 551.1C1358.3 555.4 1359.6 555.0 1360.8 558.1C1362.0 561.2 1363.1 565.4 1364.3 569.6C1365.5 573.8 1366.4 579.2 1367.8 583.5C1369.2 587.8 1371.1 595.1 1372.4 595.1C1373.8 595.1 1374.8 589.3 1375.9 583.5C1377.1 577.7 1378.2 567.3 1379.3 560.4C1380.4 553.5 1381.6 546.5 1382.8 541.9C1384.0 537.3 1385.1 534.7 1386.3 532.6C1387.5 530.5 1388.5 530.3 1389.7 529.1C1390.9 527.9 1392.0 525.0 1393.2 525.6C1394.4 526.2 1395.5 527.6 1396.7 532.6C1397.9 537.6 1399.2 553.6 1400.2 555.7C1401.2 557.8 1401.5 545.3 1402.5 545.3C1403.5 545.3 1404.8 551.3 1405.9 555.7C1407.1 560.1 1408.2 568.8 1409.4 571.9C1410.6 575.0 1411.7 574.7 1412.9 574.3C1414.1 573.9 1415.2 572.3 1416.4 569.6C1417.6 566.9 1418.7 560.6 1419.8 558.1C1420.9 555.6 1422.1 553.5 1423.3 554.6C1424.5 555.8 1425.8 562.9 1426.8 565.0C1427.8 567.1 1428.1 569.6 1429.1 567.3C1430.1 565.0 1431.4 555.7 1432.6 551.1C1433.8 546.5 1434.8 541.2 1436.0 539.5C1437.2 537.8 1438.3 539.9 1439.5 540.7C1440.7 541.5 1441.8 540.9 1443.0 544.2C1444.2 547.5 1445.3 556.2 1446.5 560.4C1447.7 564.6 1448.8 569.6 1449.9 569.6C1451.1 569.6 1452.2 558.9 1453.4 560.4C1454.6 561.9 1455.9 573.9 1456.9 578.9C1457.9 583.9 1458.2 588.2 1459.2 590.5C1460.2 592.8 1461.6 591.6 1462.7 592.8C1463.8 593.9 1464.9 595.9 1466.1 597.4C1467.2 598.9 1468.3 600.8 1469.6 602.0C1470.9 603.2 1472.8 605.8 1474.0 604.4C1475.2 603.0 1475.8 601.2 1476.9 593.6C1478.0 586.0 1479.2 570.5 1480.4 558.9C1481.6 547.3 1482.7 531.2 1483.9 524.2C1485.1 517.2 1486.2 511.4 1487.4 517.2C1488.6 523.0 1489.7 547.3 1490.8 558.9C1491.9 570.5 1493.1 583.6 1494.3 586.7C1495.5 589.8 1496.6 585.9 1497.8 577.4C1499.0 568.9 1500.0 550.4 1501.2 535.7C1502.4 521.0 1503.5 501.3 1504.7 489.4C1505.9 477.4 1507.1 468.1 1508.2 464.0C1509.3 459.9 1510.2 460.9 1511.2 465.1C1512.2 469.3 1513.0 479.5 1514.0 489.4C1515.0 499.2 1516.3 514.2 1517.5 524.2C1518.7 534.2 1519.8 542.7 1520.9 549.6C1522.1 556.5 1523.3 562.7 1524.4 565.8C1525.5 568.9 1526.4 570.8 1527.4 568.1C1528.4 565.4 1529.2 556.2 1530.2 549.6C1531.2 543.0 1532.6 534.0 1533.7 528.8C1534.8 523.6 1535.9 521.1 1537.1 518.4C1538.2 515.7 1539.4 512.4 1540.6 512.6C1541.8 512.8 1542.9 518.0 1544.1 519.5C1545.2 521.0 1546.3 523.0 1547.5 521.9C1548.7 520.8 1549.8 514.5 1551.0 512.6C1552.2 510.7 1553.3 508.4 1554.5 510.3C1555.7 512.2 1556.8 518.4 1558.0 524.2C1559.2 530.0 1560.4 540.6 1561.4 545.0C1562.4 549.4 1562.8 551.6 1563.8 550.8C1564.8 550.0 1566.0 546.0 1567.2 540.4C1568.4 534.8 1569.5 522.8 1570.7 517.2C1571.9 511.6 1573.1 508.0 1574.2 506.8C1575.3 505.6 1576.4 510.9 1577.6 510.3C1578.8 509.7 1579.9 506.8 1581.1 503.3C1582.3 499.8 1583.4 495.6 1584.6 489.4C1585.8 483.2 1586.9 472.5 1588.1 466.3C1589.2 460.1 1590.4 455.7 1591.5 452.4C1592.6 449.1 1593.5 445.4 1594.5 446.6C1595.5 447.8 1596.2 453.0 1597.3 459.4C1598.3 465.8 1599.6 477.5 1600.8 484.8C1602.0 492.1 1603.1 499.1 1604.3 503.3C1605.5 507.6 1606.3 508.4 1607.7 510.3C1609.1 512.2 1611.1 516.4 1612.4 514.9C1613.8 513.4 1614.7 509.1 1615.8 501.0C1616.9 492.9 1618.1 476.3 1619.3 466.3C1620.5 456.3 1621.8 445.8 1622.8 440.8C1623.8 435.8 1624.6 433.1 1625.6 436.2C1626.6 439.3 1627.5 451.7 1628.6 459.4C1629.7 467.1 1630.8 477.9 1632.0 482.5C1633.2 487.1 1634.3 487.1 1635.5 487.1C1636.7 487.1 1637.8 486.7 1639.0 482.5C1640.2 478.3 1641.4 469.0 1642.5 461.7C1643.6 454.4 1644.5 444.5 1645.5 438.5C1646.5 432.5 1647.7 426.9 1648.7 425.8C1649.7 424.7 1650.6 430.2 1651.7 431.6C1652.8 433.0 1654.0 434.7 1655.2 433.9C1656.4 433.1 1657.6 429.2 1658.7 426.9C1659.8 424.6 1660.8 421.4 1662.1 420.0C1663.4 418.6 1665.5 418.8 1666.8 418.8C1668.1 418.8 1669.0 414.6 1670.0 420.0C1671.0 425.4 1671.8 444.2 1672.9 451.4C1674.0 458.6 1675.3 461.9 1676.4 463.0C1677.5 464.1 1678.4 461.8 1679.4 458.3C1680.4 454.8 1681.2 445.4 1682.2 442.1C1683.2 438.8 1684.6 438.7 1685.7 438.7C1686.8 438.7 1687.9 440.8 1689.1 442.1C1690.2 443.5 1691.4 444.1 1692.6 446.8C1693.8 449.5 1694.9 454.8 1696.1 458.3C1697.3 461.8 1698.4 465.9 1699.6 467.6C1700.8 469.4 1701.8 470.4 1703.0 468.8C1704.2 467.2 1705.5 460.8 1706.5 458.3C1707.5 455.8 1707.8 453.3 1708.8 453.7C1709.8 454.1 1711.1 463.7 1712.3 460.6C1713.5 457.5 1714.6 445.2 1715.8 435.2C1717.0 425.2 1718.0 409.0 1719.2 400.5C1720.4 392.0 1721.7 387.4 1722.7 384.3C1723.7 381.2 1724.2 379.6 1725.0 381.9C1725.8 384.2 1726.3 390.0 1727.3 398.1C1728.3 406.2 1729.6 420.6 1730.8 430.6C1732.0 440.6 1733.3 454.1 1734.3 458.3C1735.3 462.5 1735.6 454.1 1736.6 456.0C1737.6 457.9 1738.9 464.7 1740.1 469.9C1741.2 475.1 1742.3 485.4 1743.5 487.3C1744.7 489.2 1745.8 488.2 1747.0 481.5C1748.2 474.8 1749.3 458.4 1750.5 446.8C1751.7 435.2 1752.8 419.3 1754.0 412.0C1755.2 404.7 1756.4 404.7 1757.4 402.8C1758.4 400.9 1759.0 399.0 1759.8 400.5C1760.6 402.0 1761.1 404.3 1762.1 412.0C1763.0 419.7 1764.5 437.9 1765.5 446.8C1766.5 455.7 1766.9 463.4 1767.9 465.3C1768.9 467.2 1770.2 462.6 1771.3 458.3C1772.4 454.1 1773.6 445.6 1774.8 439.8C1776.0 434.0 1777.1 429.0 1778.3 423.6C1779.5 418.2 1780.5 413.9 1781.7 407.4C1782.9 400.8 1784.0 390.7 1785.2 384.3C1786.4 377.9 1787.7 368.4 1788.7 369.2C1789.7 370.0 1790.2 384.1 1791.0 388.9C1791.8 393.7 1792.8 396.6 1793.8 398.1C1794.8 399.6 1795.7 397.3 1796.8 398.1C1797.9 398.9 1799.1 400.5 1800.3 402.8C1801.5 405.1 1802.5 408.9 1803.7 412.0C1804.9 415.1 1806.0 417.4 1807.2 421.3C1808.4 425.2 1809.6 431.7 1810.7 435.2C1811.8 438.7 1813.1 442.9 1814.1 442.1C1815.1 441.3 1815.5 434.8 1816.5 430.6C1817.5 426.4 1818.8 419.0 1819.9 416.7C1821.1 414.4 1822.4 413.6 1823.4 416.7C1824.4 419.8 1824.7 429.8 1825.7 435.2C1826.7 440.6 1828.0 446.4 1829.2 449.1C1830.4 451.8 1831.6 448.3 1832.7 451.4C1833.8 454.5 1834.9 462.6 1836.1 467.6C1837.2 472.6 1838.4 478.4 1839.6 481.5C1840.8 484.6 1841.9 486.1 1843.1 486.1C1844.3 486.1 1845.4 486.1 1846.6 481.5C1847.8 476.9 1848.8 467.9 1850.0 458.3C1851.2 448.7 1852.3 431.3 1853.5 423.6C1854.7 415.9 1856.0 413.1 1857.0 412.0C1858.0 410.9 1858.3 410.9 1859.3 416.7C1860.3 422.5 1861.7 437.9 1862.8 446.8C1863.9 455.7 1865.0 464.7 1866.0 469.9C1867.0 475.1 1867.6 481.4 1868.5 478.2C1869.4 475.0 1870.4 459.4 1871.3 450.5C1872.2 441.6 1873.0 428.5 1874.0 425.0C1875.0 421.5 1876.0 425.8 1877.0 429.6C1878.0 433.5 1879.0 442.7 1880.1 448.1C1881.1 453.5 1882.3 463.5 1883.3 462.0C1884.3 460.5 1885.2 446.6 1886.3 438.9C1887.4 431.2 1888.6 422.6 1889.8 415.7C1891.0 408.8 1892.1 403.0 1893.2 397.2C1894.3 391.4 1895.3 384.5 1896.3 381.0C1897.3 377.5 1898.0 375.2 1899.0 376.4C1900.0 377.6 1901.3 384.5 1902.5 388.0C1903.7 391.5 1904.8 395.3 1906.0 397.2C1907.2 399.1 1908.3 400.6 1909.5 399.5C1910.7 398.4 1911.8 390.7 1912.9 390.3C1914.1 389.9 1915.2 395.3 1916.4 397.2C1917.6 399.1 1918.8 401.5 1919.9 401.9C1921.1 402.3 1922.2 400.3 1923.3 399.5C1924.4 398.7 1925.6 395.6 1926.8 397.2C1928.0 398.8 1929.1 403.8 1930.3 408.8C1931.5 413.8 1932.6 422.3 1933.8 427.3C1935.0 432.3 1936.0 432.3 1937.2 438.9C1938.4 445.5 1939.7 455.1 1940.7 466.7C1941.8 478.3 1942.7 498.1 1943.5 508.3C1944.3 518.5 1944.6 526.1 1945.3 528.0C1946.0 529.9 1946.6 524.3 1947.6 519.9C1948.6 515.5 1950.1 504.9 1951.1 501.4C1952.1 497.9 1952.5 496.0 1953.4 499.1C1954.3 502.2 1955.6 515.3 1956.4 519.9C1957.2 524.5 1957.4 529.6 1958.1 526.9C1958.8 524.2 1959.4 514.5 1960.4 503.7C1961.4 492.9 1962.8 472.8 1963.9 462.0C1965.1 451.2 1966.3 443.5 1967.3 438.9C1968.2 434.3 1968.6 433.5 1969.6 434.3C1970.6 435.1 1971.9 441.2 1973.1 443.5C1974.3 445.8 1975.4 448.1 1976.6 448.1C1977.8 448.1 1978.8 445.0 1980.1 443.5C1981.4 442.0 1983.2 439.7 1984.7 438.9C1986.2 438.1 1987.8 438.3 1989.3 438.9C1990.8 439.5 1992.4 441.4 1993.9 442.4C1995.5 443.4 1997.0 443.3 1998.6 444.7C2000.1 446.1 2001.8 445.7 2003.2 450.5C2004.6 455.3 2005.7 464.0 2006.7 473.6C2007.7 483.2 2008.2 503.3 2009.0 508.3C2009.8 513.3 2010.5 506.4 2011.3 503.7C2012.1 501.0 2012.7 494.6 2013.6 492.1C2014.5 489.6 2015.6 489.9 2016.6 488.7C2017.6 487.5 2018.4 484.2 2019.4 485.2C2020.5 486.1 2021.7 489.8 2022.9 494.4C2024.1 499.0 2025.2 509.1 2026.4 513.0C2027.6 516.9 2028.7 518.0 2029.8 517.6C2030.9 517.2 2031.8 510.2 2032.8 510.6C2033.8 511.0 2034.5 514.5 2035.6 519.9C2036.6 525.3 2037.9 535.8 2039.1 543.1C2040.3 550.4 2041.6 562.0 2042.6 563.9C2043.6 565.8 2044.1 561.9 2044.9 554.6C2045.7 547.3 2046.2 533.4 2047.2 519.9C2048.2 506.4 2049.5 489.0 2050.7 473.6C2051.8 458.2 2052.9 440.0 2054.1 427.3C2055.2 414.6 2056.6 402.6 2057.6 397.2C2058.6 391.8 2059.2 393.7 2059.9 394.9C2060.6 396.1 2061.4 400.3 2062.0 404.2C2062.6 408.1 2062.9 413.9 2063.5 418.1C2064.1 422.3 2064.4 424.6 2065.3 429.6C2066.2 434.6 2067.6 442.7 2068.8 448.1C2070.0 453.5 2071.3 460.4 2072.3 462.0C2073.3 463.6 2073.8 460.9 2074.6 457.4C2075.4 453.9 2076.2 444.7 2076.9 441.2C2077.6 437.7 2077.9 433.9 2078.5 436.6C2079.1 439.3 2079.7 448.1 2080.4 457.4C2081.1 466.6 2081.9 483.2 2082.7 492.1C2083.5 501.0 2084.2 507.9 2085.0 510.6C2085.8 513.3 2087.0 512.5 2087.8 508.3C2088.7 504.1 2089.3 494.8 2090.1 485.2C2090.9 475.6 2091.8 458.2 2092.4 450.5C2093.0 442.8 2093.6 440.8 2093.8 438.9" fill="none" stroke="#C55A11" stroke-width="3.1" stroke-linejoin="round" stroke-linecap="round"/>
<path d="M271.5 499.6C272.0 498.1 273.6 492.7 274.7 490.4C275.8 488.1 277.1 486.9 278.2 485.7C279.2 484.5 280.0 482.6 281.0 483.4C282.0 484.2 282.9 486.9 284.0 490.4C285.1 493.9 286.4 501.6 287.5 504.3C288.6 507.0 289.8 505.5 290.9 506.6C292.0 507.8 293.2 508.9 294.4 511.2C295.6 513.5 296.7 519.0 297.9 520.5C299.1 522.0 300.2 517.8 301.4 520.5C302.5 523.2 303.7 532.3 304.8 536.7C305.9 541.1 306.8 547.9 307.8 547.1C308.9 546.3 310.1 535.3 311.1 532.0C312.2 528.7 313.0 526.6 314.1 527.4C315.2 528.2 316.5 532.1 317.6 536.7C318.8 541.3 319.9 547.5 321.0 555.2C322.1 562.9 323.4 576.8 324.5 583.0C325.6 589.2 326.3 593.0 327.3 592.2C328.3 591.4 329.2 582.5 330.3 578.3C331.4 574.1 332.7 569.5 333.8 566.8C334.9 564.1 336.1 563.3 337.2 562.1C338.3 560.9 339.5 558.6 340.7 559.8C341.9 561.0 343.0 566.4 344.2 569.1C345.4 571.8 346.5 577.9 347.6 576.0C348.8 574.1 350.1 560.4 351.1 557.5C352.1 554.6 352.5 555.2 353.4 558.7C354.3 562.2 355.4 573.1 356.4 578.3C357.4 583.5 357.9 589.9 359.2 589.9C360.4 589.9 362.3 581.4 363.9 578.3C365.4 575.2 367.0 572.2 368.5 571.4C370.0 570.6 371.6 573.7 373.1 573.7C374.6 573.7 376.1 572.2 377.7 571.4C379.2 570.6 380.8 568.7 382.4 569.1C383.9 569.5 385.6 569.9 387.0 573.7C388.4 577.6 389.4 584.5 390.5 592.2C391.6 599.9 392.8 612.3 393.9 620.0C395.0 627.7 396.3 635.2 397.4 638.5C398.5 641.8 399.2 642.0 400.4 639.7C401.6 637.4 403.0 631.0 404.4 624.6C405.8 618.2 407.6 606.5 409.0 601.5C410.4 596.5 411.1 595.9 412.5 594.5C413.9 593.1 415.6 593.2 417.1 593.4C418.6 593.6 420.4 593.6 421.7 595.7C423.0 597.8 424.0 605.1 425.2 606.1C426.4 607.1 427.3 600.3 428.7 601.5C430.1 602.7 431.9 609.1 433.3 613.1C434.7 617.1 435.8 623.5 436.8 625.8C437.8 628.1 438.1 630.2 439.1 626.9C440.1 623.6 441.2 613.4 442.6 606.1C444.0 598.8 445.7 589.5 447.2 583.0C448.7 576.5 450.5 570.7 451.8 566.8C453.1 562.9 454.1 561.2 455.1 559.8C456.2 558.4 457.0 553.3 458.1 558.2C459.2 563.1 460.4 576.5 461.5 589.4C462.6 602.3 463.8 623.4 465.0 635.7C466.2 648.1 467.3 656.2 468.5 663.5C469.7 670.8 470.9 677.0 472.0 679.7C473.1 682.4 474.4 681.6 475.4 679.7C476.3 677.8 476.7 673.1 477.7 668.1C478.7 663.1 480.0 651.1 481.2 649.6C482.4 648.1 483.7 656.2 484.7 658.9C485.7 661.6 486.0 667.3 487.0 665.8C488.0 664.2 489.4 655.8 490.5 649.6C491.6 643.4 492.8 634.2 493.9 628.8C495.0 623.4 496.2 616.8 497.4 617.2C498.6 617.6 499.7 625.7 500.9 631.1C502.1 636.5 503.3 647.3 504.4 649.6C505.5 651.9 506.4 648.5 507.4 645.0C508.3 641.5 509.2 633.0 510.1 628.8C511.0 624.5 511.9 620.3 512.9 619.5C513.9 618.7 514.8 622.3 515.9 624.2C517.0 626.1 518.2 628.4 519.4 631.1C520.6 633.8 521.9 635.8 522.9 640.4C523.9 645.0 524.2 652.0 525.2 658.9C526.2 665.8 527.4 675.0 528.7 682.0C530.1 689.0 531.9 694.8 533.3 700.6C534.6 706.4 535.8 708.3 536.8 716.8C537.8 725.3 538.3 734.1 539.1 751.5C539.9 768.9 540.6 795.3 541.4 820.9C542.2 846.5 543.0 900.7 543.7 905.1C544.4 909.5 544.7 868.4 545.6 847.2C546.5 826.0 547.9 799.0 549.0 777.8C550.1 756.6 551.3 733.4 552.5 719.9C553.7 706.4 554.9 703.0 556.0 696.8C557.1 690.6 558.4 685.6 559.4 682.9C560.4 680.2 561.4 676.4 562.2 680.6C563.0 684.8 563.4 699.8 564.1 708.3C564.8 716.8 565.6 724.5 566.4 731.5C567.2 738.5 567.7 751.9 568.7 750.0C569.7 748.1 570.9 734.6 572.2 719.9C573.6 705.2 575.3 676.7 576.8 662.0C578.3 647.3 580.2 635.0 581.4 631.9C582.6 628.8 583.0 636.5 583.8 643.5C584.6 650.5 585.1 662.8 586.1 673.6C587.1 684.4 588.4 701.0 589.5 708.3C590.6 715.6 592.0 719.5 593.0 717.6C594.0 715.7 594.3 704.1 595.3 696.8C596.3 689.5 597.4 681.3 598.8 673.6C600.1 665.9 601.8 657.5 603.4 650.5C605.0 643.5 606.5 635.6 608.1 631.9C609.7 628.2 611.2 628.5 612.7 628.5C614.2 628.5 615.9 626.3 617.3 631.9C618.6 637.5 619.6 650.0 620.8 662.0C622.0 674.0 623.3 695.2 624.3 703.7C625.3 712.2 625.8 716.1 626.6 713.0C627.4 709.9 628.1 697.6 628.9 685.2C629.7 672.9 630.2 652.4 631.2 638.9C632.2 625.4 633.6 611.0 634.7 604.2C635.9 597.5 637.0 597.2 638.1 598.4C639.2 599.5 640.4 604.4 641.6 611.1C642.8 617.9 643.9 626.5 645.1 638.9C646.3 651.2 647.5 657.4 648.6 685.2C649.8 713.0 651.0 778.0 652.0 805.8C653.0 833.6 653.9 840.9 654.8 852.1C655.6 863.3 656.3 872.9 657.1 872.9C657.9 872.9 658.6 863.3 659.4 852.1C660.2 840.9 660.9 825.9 661.8 805.8C662.7 785.7 663.7 752.4 664.8 731.5C665.9 710.6 666.9 684.5 668.2 680.6C669.6 676.7 671.7 694.0 672.9 708.3C674.1 722.6 674.4 752.1 675.2 766.4C676.1 780.7 677.0 793.4 678.0 794.2C679.0 795.0 679.9 785.4 681.0 771.1C682.1 756.8 683.2 728.4 684.4 708.3C685.5 688.2 687.0 658.7 687.9 650.5C688.8 642.3 688.7 649.8 689.5 658.9C690.3 668.0 691.8 689.8 692.9 705.2C694.0 720.6 695.4 743.0 696.4 751.5C697.4 760.0 697.7 761.9 698.7 756.1C699.7 750.3 700.7 729.9 702.2 716.8C703.8 703.7 706.5 684.9 708.0 677.4C709.5 669.9 710.4 672.8 711.5 671.6C712.6 670.5 713.8 668.8 714.9 670.5C716.0 672.2 717.4 672.4 718.4 682.0C719.4 691.6 719.7 705.1 720.7 728.3C721.7 751.4 723.0 797.8 724.2 820.9C725.4 844.0 726.6 863.3 727.7 867.2C728.9 871.1 730.0 855.7 731.1 844.1C732.2 832.5 733.4 809.4 734.6 797.8C735.8 786.2 737.1 772.7 738.1 774.6C739.1 776.5 739.6 800.9 740.4 809.4C741.2 817.9 741.9 827.5 742.7 825.6C743.5 823.7 744.0 810.1 745.0 797.8C746.0 785.4 747.1 766.9 748.5 751.5C749.9 736.1 751.6 718.7 753.1 705.2C754.6 691.7 756.4 677.5 757.8 670.5C759.1 663.5 759.9 657.7 761.2 663.5C762.6 669.3 764.4 686.7 765.9 705.2C767.4 723.7 769.0 753.4 770.5 774.6C772.0 795.8 773.8 820.1 775.1 832.5C776.5 844.9 777.4 854.5 778.6 848.7C779.8 842.9 781.0 817.9 782.1 797.8C783.2 777.7 784.1 751.4 785.5 728.3C786.9 705.1 788.7 674.3 790.2 658.9C791.8 643.5 793.3 640.3 794.8 635.7C796.3 631.1 797.8 633.0 799.4 631.1C801.0 629.2 802.8 626.1 804.1 624.2C805.5 622.3 806.4 620.5 807.5 619.5C808.6 618.5 809.8 615.7 811.0 618.4C812.2 621.1 813.4 625.1 814.5 635.7C815.6 646.3 816.8 662.7 817.9 682.0C819.0 701.3 820.2 732.2 821.4 751.5C822.6 770.8 823.9 786.6 824.9 797.8C825.9 809.0 826.4 820.5 827.2 818.6C828.0 816.7 828.5 805.1 829.5 786.2C830.5 767.3 831.8 723.0 833.0 705.2C834.2 687.5 835.5 684.0 836.5 679.7C837.5 675.5 838.0 677.4 838.8 679.7C839.6 682.0 840.1 685.5 841.1 693.6C842.1 701.7 843.6 721.7 844.6 728.3C845.6 734.9 846.1 736.9 846.9 733.0C847.7 729.1 848.4 715.6 849.2 705.2C850.0 694.8 850.7 677.5 851.5 670.5C852.3 663.5 852.8 663.5 853.8 663.5C854.8 663.5 855.9 671.3 857.3 670.5C858.6 669.7 860.2 663.9 861.9 658.9C863.6 653.9 866.2 642.7 867.7 640.4C869.2 638.1 870.0 638.1 871.2 645.0C872.4 651.9 873.6 660.4 874.7 682.0C875.9 703.6 876.8 738.0 878.1 774.6C879.5 811.2 881.6 874.4 882.8 901.9C884.0 929.4 884.5 931.4 885.5 939.8C886.5 948.2 887.5 956.1 888.5 952.3C889.5 948.4 890.3 938.1 891.3 916.7C892.3 895.3 893.6 855.0 894.7 824.1C895.9 793.2 897.0 753.9 898.2 731.5C899.4 709.1 900.7 693.7 901.7 689.8C902.7 685.9 903.0 703.3 904.0 708.3C905.0 713.3 906.4 716.0 907.5 719.9C908.6 723.8 909.8 725.7 910.9 731.5C912.0 737.3 913.2 743.0 914.4 754.6C915.6 766.2 916.7 783.5 917.9 800.9C919.1 818.3 920.2 846.4 921.4 858.8C922.5 871.1 923.6 880.8 924.8 875.0C925.9 869.2 926.9 848.0 928.3 824.1C929.6 800.2 931.2 758.5 932.9 731.5C934.6 704.5 937.0 677.4 938.7 662.0C940.4 646.6 941.9 642.4 943.3 638.9C944.6 635.4 945.8 637.4 946.8 641.2C947.8 645.1 948.8 656.8 949.6 662.0C950.4 667.2 950.5 680.2 951.4 672.5C952.3 664.8 953.8 628.2 954.9 615.7C956.0 603.2 956.9 597.2 957.9 597.2C958.9 597.2 959.7 604.9 960.7 615.7C961.8 626.5 963.1 646.6 964.2 662.0C965.4 677.4 966.5 702.5 967.6 708.3C968.8 714.1 969.9 700.3 971.1 696.8C972.3 693.3 973.4 689.4 974.6 687.5C975.8 685.6 977.0 681.7 978.1 685.2C979.2 688.7 980.4 702.5 981.5 708.3C982.6 714.1 984.0 721.4 985.0 719.9C986.0 718.4 986.3 703.0 987.3 699.1C988.3 695.2 989.6 695.3 990.8 696.8C992.0 698.3 993.1 702.5 994.3 708.3C995.4 714.1 996.4 721.9 997.7 731.5C999.1 741.1 1000.9 756.6 1002.4 766.2C1003.9 775.9 1005.6 783.2 1007.0 789.4C1008.4 795.6 1009.4 805.1 1010.5 803.2C1011.6 801.3 1012.5 791.7 1013.9 777.8C1015.2 763.9 1017.0 737.3 1018.6 719.9C1020.2 702.5 1021.7 684.0 1023.2 673.6C1024.7 663.2 1026.5 659.7 1027.8 657.4C1029.1 655.1 1030.1 662.8 1031.3 659.7C1032.5 656.6 1033.8 645.6 1034.8 638.9C1035.8 632.1 1036.6 619.2 1037.6 619.2C1038.6 619.2 1039.7 631.8 1040.6 638.9C1041.5 646.0 1042.1 657.4 1042.9 662.0C1043.7 666.6 1044.4 669.4 1045.2 666.7C1046.0 664.0 1046.5 647.0 1047.5 645.8C1048.5 644.6 1049.8 657.4 1051.0 659.7C1052.2 662.0 1053.3 660.5 1054.5 659.7C1055.7 658.9 1056.8 653.9 1057.9 655.1C1059.1 656.3 1060.2 664.0 1061.4 666.7C1062.6 669.4 1063.9 675.9 1064.9 671.3C1065.9 666.7 1066.2 652.0 1067.2 638.9C1068.2 625.8 1069.7 603.8 1070.7 592.6C1071.7 581.4 1072.2 571.8 1073.0 571.8C1073.8 571.8 1074.3 579.5 1075.3 592.6C1076.3 605.7 1077.7 637.4 1078.8 650.5C1079.9 663.6 1081.2 671.3 1082.0 671.3C1082.8 671.3 1082.9 659.1 1083.8 650.6C1084.7 642.1 1086.1 627.5 1087.3 620.5C1088.5 613.5 1089.5 611.6 1090.7 608.9C1091.9 606.2 1093.0 605.5 1094.2 604.3C1095.4 603.1 1096.6 599.2 1097.7 601.9C1098.8 604.6 1099.9 611.6 1101.1 620.5C1102.2 629.4 1103.4 646.3 1104.6 655.2C1105.8 664.1 1106.9 672.6 1108.1 673.7C1109.3 674.9 1110.4 665.6 1111.6 662.1C1112.8 658.6 1113.8 655.2 1115.0 652.9C1116.2 650.6 1117.3 649.4 1118.5 648.2C1119.7 647.0 1121.0 650.5 1122.0 645.9C1123.0 641.3 1123.5 628.2 1124.3 620.5C1125.1 612.8 1125.8 604.2 1126.6 599.6C1127.4 595.0 1128.1 591.2 1128.9 592.7C1129.7 594.2 1130.2 601.6 1131.2 608.9C1132.2 616.2 1133.5 630.9 1134.7 636.7C1135.9 642.5 1137.0 643.2 1138.2 643.6C1139.4 644.0 1140.6 641.3 1141.7 639.0C1142.8 636.7 1143.9 632.4 1145.1 629.7C1146.2 627.0 1147.4 624.3 1148.6 622.8C1149.8 621.3 1150.9 619.0 1152.1 620.5C1153.2 622.0 1154.3 627.8 1155.5 632.0C1156.7 636.2 1157.8 643.2 1159.0 645.9C1160.2 648.6 1161.3 649.0 1162.5 648.2C1163.7 647.4 1164.8 647.1 1166.0 641.3C1167.2 635.5 1168.1 624.7 1169.4 613.5C1170.8 602.3 1172.5 585.8 1174.1 574.2C1175.6 562.6 1177.3 550.7 1178.7 544.1C1180.1 537.5 1181.1 533.6 1182.2 534.8C1183.3 535.9 1184.5 542.5 1185.6 551.0C1186.7 559.5 1187.6 572.2 1188.6 585.7C1189.6 599.2 1190.6 619.6 1191.4 632.0C1192.2 644.4 1192.9 656.7 1193.7 659.8C1194.5 662.9 1195.1 656.0 1196.1 650.6C1197.1 645.2 1198.3 632.4 1199.5 627.4C1200.7 622.4 1201.8 619.0 1203.0 620.5C1204.2 622.0 1205.3 632.1 1206.5 636.7C1207.7 641.3 1208.9 649.0 1209.9 648.2C1210.9 647.4 1211.5 636.4 1212.3 632.0C1213.1 627.6 1213.6 623.1 1214.6 621.6C1215.5 620.1 1216.8 623.4 1218.0 622.8C1219.2 622.2 1220.3 621.2 1221.5 618.1C1222.7 615.0 1223.8 608.9 1225.0 604.3C1226.2 599.7 1227.3 594.6 1228.5 590.4C1229.7 586.1 1230.6 581.5 1231.9 578.8C1233.2 576.1 1235.0 575.2 1236.6 574.2C1238.1 573.2 1239.8 571.1 1241.2 573.0C1242.6 574.9 1243.6 579.7 1244.7 585.7C1245.8 591.7 1246.9 604.3 1248.1 608.9C1249.2 613.5 1250.4 617.4 1251.6 613.5C1252.8 609.6 1253.9 595.0 1255.1 585.7C1256.3 576.5 1257.4 563.2 1258.6 558.0C1259.8 552.8 1260.8 551.8 1262.0 554.5C1263.2 557.2 1264.3 565.1 1265.5 574.2C1266.7 583.3 1267.8 599.3 1269.0 608.9C1270.2 618.5 1271.2 628.5 1272.4 632.0C1273.6 635.5 1275.0 632.0 1275.9 629.7C1276.8 627.4 1277.2 621.6 1278.0 618.1C1278.8 614.6 1280.0 610.9 1280.9 609.0C1281.8 607.1 1282.5 604.0 1283.3 606.7C1284.1 609.4 1284.8 618.3 1285.6 625.2C1286.4 632.1 1287.1 643.7 1287.9 648.3C1288.7 652.9 1289.2 654.9 1290.2 653.0C1291.2 651.1 1292.6 641.4 1293.7 636.8C1294.8 632.2 1295.9 627.1 1297.1 625.2C1298.2 623.3 1299.4 624.8 1300.6 625.2C1301.8 625.6 1302.9 629.0 1304.1 627.5C1305.3 626.0 1306.4 618.6 1307.6 615.9C1308.8 613.2 1309.8 615.5 1311.0 611.3C1312.2 607.1 1313.3 597.6 1314.5 590.5C1315.7 583.4 1317.0 568.5 1318.0 568.5C1319.0 568.5 1319.3 581.0 1320.3 590.5C1321.3 600.0 1322.6 620.2 1323.8 625.2C1325.0 630.2 1325.8 622.2 1327.2 620.6C1328.6 619.0 1330.6 620.9 1331.9 615.9C1333.2 610.9 1334.2 598.2 1335.3 590.5C1336.4 582.8 1337.6 572.7 1338.8 569.6C1340.0 566.5 1341.1 570.7 1342.3 571.9C1343.5 573.1 1344.6 577.0 1345.8 576.6C1347.0 576.2 1348.0 575.0 1349.2 569.6C1350.4 564.2 1351.7 550.8 1352.7 544.2C1353.7 537.7 1354.2 533.0 1355.0 530.3C1355.8 527.6 1356.8 526.1 1357.8 528.0C1358.8 529.9 1359.7 536.5 1360.8 541.9C1361.9 547.3 1363.1 555.4 1364.3 560.4C1365.5 565.4 1366.4 568.4 1367.8 571.9C1369.2 575.4 1371.1 580.8 1372.4 581.2C1373.8 581.6 1374.8 578.5 1375.9 574.3C1377.1 570.0 1378.2 562.7 1379.3 555.7C1380.4 548.8 1381.6 538.8 1382.8 532.6C1384.0 526.4 1385.1 523.3 1386.3 518.7C1387.5 514.1 1388.6 508.5 1389.7 504.8C1390.8 501.1 1391.8 494.4 1392.8 496.7C1393.8 499.0 1394.7 512.7 1395.5 518.7C1396.3 524.7 1397.0 533.0 1397.8 532.6C1398.6 532.2 1399.4 520.4 1400.2 516.4C1401.0 512.4 1401.7 505.6 1402.5 508.3C1403.3 511.0 1404.0 522.8 1404.8 532.6C1405.6 542.4 1406.3 559.6 1407.1 567.3C1407.9 575.0 1408.4 577.3 1409.4 578.9C1410.4 580.5 1411.7 579.7 1412.9 576.6C1414.1 573.5 1415.2 565.8 1416.4 560.4C1417.6 555.0 1418.7 548.2 1419.8 544.2C1420.9 540.2 1422.1 536.9 1423.3 536.1C1424.5 535.3 1425.4 538.5 1426.8 539.5C1428.2 540.5 1429.9 542.3 1431.4 541.9C1432.9 541.5 1434.7 539.5 1436.0 537.2C1437.3 534.9 1438.3 530.7 1439.5 528.0C1440.7 525.3 1441.8 518.3 1443.0 521.0C1444.2 523.7 1445.5 536.9 1446.5 544.2C1447.5 551.5 1447.8 565.0 1448.8 565.0C1449.8 565.0 1451.2 548.1 1452.2 544.2C1453.2 540.4 1453.8 536.1 1454.6 541.9C1455.4 547.7 1456.1 569.3 1456.9 578.9C1457.7 588.5 1458.2 597.8 1459.2 599.7C1460.2 601.6 1461.7 594.4 1462.7 590.5C1463.7 586.6 1464.0 579.3 1465.0 576.6C1466.0 573.9 1467.2 572.0 1468.4 574.3C1469.6 576.6 1471.0 587.4 1471.9 590.5C1472.8 593.6 1473.2 594.2 1474.0 592.8C1474.8 591.4 1475.8 589.6 1476.9 582.0C1478.0 574.4 1479.2 560.8 1480.4 547.3C1481.6 533.8 1482.7 511.6 1483.9 501.0C1485.1 490.4 1486.3 482.5 1487.4 483.7C1488.5 484.9 1489.5 497.4 1490.4 508.0C1491.4 518.6 1491.9 538.4 1493.1 547.3C1494.2 556.2 1496.1 563.1 1497.3 561.2C1498.5 559.3 1499.0 546.5 1500.1 535.7C1501.1 524.9 1502.4 508.0 1503.6 496.4C1504.8 484.8 1506.0 472.3 1507.0 466.3C1508.0 460.3 1508.8 457.4 1509.8 460.5C1510.8 463.6 1511.7 476.1 1512.8 484.8C1513.9 493.5 1515.1 505.3 1516.3 512.6C1517.5 519.9 1518.6 527.2 1519.8 528.8C1521.0 530.3 1522.2 521.9 1523.2 521.9C1524.2 521.9 1524.8 524.9 1525.6 528.8C1526.4 532.6 1527.0 545.8 1527.9 545.0C1528.9 544.2 1530.2 529.6 1531.3 524.2C1532.4 518.8 1533.6 515.1 1534.8 512.6C1536.0 510.1 1537.1 507.6 1538.3 509.1C1539.5 510.7 1540.8 518.8 1541.8 521.9C1542.8 525.0 1543.1 527.2 1544.1 527.6C1545.0 528.0 1546.3 527.5 1547.5 524.2C1548.7 520.9 1549.8 513.8 1551.0 508.0C1552.2 502.2 1553.4 493.8 1554.5 489.4C1555.6 484.9 1556.5 479.4 1557.5 481.3C1558.5 483.2 1559.5 492.7 1560.3 501.0C1561.1 509.3 1561.6 524.1 1562.6 531.1C1563.6 538.1 1564.9 541.9 1566.1 542.7C1567.2 543.5 1568.5 540.3 1569.5 535.7C1570.5 531.1 1570.7 518.8 1571.9 514.9C1573.1 511.0 1575.2 513.8 1576.5 512.6C1577.8 511.5 1578.8 511.9 1580.0 508.0C1581.2 504.1 1582.2 496.3 1583.4 489.4C1584.6 482.4 1585.7 474.0 1586.9 466.3C1588.1 458.6 1589.2 449.3 1590.4 443.1C1591.6 436.9 1592.7 432.8 1593.8 429.3C1594.9 425.8 1596.3 421.9 1597.3 422.3C1598.3 422.7 1598.6 428.1 1599.6 431.6C1600.6 435.1 1601.9 439.2 1603.1 443.1C1604.3 447.0 1605.4 450.8 1606.6 454.7C1607.8 458.6 1608.8 462.2 1610.0 466.3C1611.2 470.4 1612.3 479.0 1613.5 479.0C1614.7 479.0 1615.8 474.2 1617.0 466.3C1618.2 458.4 1619.3 442.0 1620.5 431.6C1621.7 421.2 1622.8 409.8 1623.9 403.8C1625.1 397.8 1626.4 394.9 1627.4 395.7C1628.5 396.5 1629.2 401.3 1630.2 408.4C1631.2 415.5 1632.1 430.4 1633.2 438.5C1634.3 446.6 1635.6 454.3 1636.7 457.0C1637.8 459.7 1639.1 458.9 1640.1 454.7C1641.1 450.5 1641.6 440.5 1642.5 431.6C1643.4 422.7 1644.5 409.2 1645.5 401.5C1646.5 393.8 1647.7 386.1 1648.7 385.3C1649.7 384.5 1650.8 392.3 1651.7 396.9C1652.6 401.5 1653.0 410.6 1654.0 413.1C1655.0 415.6 1656.3 413.8 1657.5 411.9C1658.7 410.0 1659.9 403.8 1661.0 401.5C1662.1 399.2 1663.0 397.2 1664.0 398.0C1665.0 398.8 1665.8 403.2 1666.8 406.1C1667.8 409.0 1669.0 411.3 1670.0 415.4C1671.0 419.5 1671.8 427.3 1672.9 430.6C1674.0 433.9 1675.2 436.0 1676.4 435.2C1677.6 434.4 1678.7 429.0 1679.9 425.9C1681.1 422.8 1682.3 417.1 1683.4 416.7C1684.5 416.3 1685.5 418.6 1686.4 423.6C1687.4 428.6 1688.1 438.1 1689.1 446.8C1690.1 455.5 1691.6 473.8 1692.6 475.7C1693.6 477.6 1693.9 463.9 1694.9 458.3C1695.9 452.7 1697.1 445.0 1698.4 442.1C1699.8 439.2 1701.5 441.8 1703.0 441.0C1704.5 440.2 1706.2 439.2 1707.7 437.5C1709.2 435.8 1711.0 434.9 1712.3 430.6C1713.6 426.4 1714.6 418.2 1715.8 412.0C1717.0 405.8 1718.0 398.5 1719.2 393.5C1720.4 388.5 1721.7 384.2 1722.7 381.9C1723.7 379.6 1724.2 377.7 1725.0 379.6C1725.8 381.5 1726.3 384.2 1727.3 393.5C1728.3 402.8 1729.6 424.0 1730.8 435.2C1732.0 446.4 1733.1 458.3 1734.3 460.6C1735.5 462.9 1736.6 453.3 1737.8 449.1C1739.0 444.9 1740.1 437.9 1741.2 435.2C1742.3 432.5 1743.2 431.4 1744.2 432.9C1745.2 434.4 1746.0 445.9 1747.0 444.4C1748.0 442.8 1749.3 430.9 1750.5 423.6C1751.7 416.3 1752.8 406.7 1754.0 400.5C1755.2 394.3 1756.4 389.3 1757.4 386.6C1758.4 383.9 1759.0 382.4 1759.8 384.3C1760.6 386.2 1761.1 391.6 1762.1 398.1C1763.0 404.7 1764.3 416.7 1765.5 423.6C1766.7 430.6 1767.8 436.7 1769.0 439.8C1770.2 442.9 1771.3 442.9 1772.5 442.1C1773.7 441.3 1774.8 438.3 1776.0 435.2C1777.2 432.1 1778.2 426.7 1779.4 423.6C1780.6 420.5 1781.7 417.1 1782.9 416.7C1784.1 416.3 1785.2 418.2 1786.4 421.3C1787.6 424.4 1788.7 429.8 1789.8 435.2C1790.9 440.6 1792.4 449.6 1793.3 453.7C1794.2 457.8 1794.4 460.6 1795.2 459.5C1796.0 458.4 1796.9 452.4 1797.9 446.8C1798.9 441.2 1800.2 430.9 1801.4 425.9C1802.6 420.9 1803.7 416.7 1804.9 416.7C1806.1 416.7 1807.2 422.8 1808.4 425.9C1809.6 429.0 1810.7 433.3 1811.8 435.2C1812.9 437.1 1814.3 437.5 1815.3 437.5C1816.3 437.5 1816.7 433.6 1817.6 435.2C1818.5 436.8 1819.6 442.6 1820.6 446.8C1821.6 451.0 1822.4 460.6 1823.4 460.6C1824.5 460.6 1825.7 450.3 1826.9 446.8C1828.1 443.3 1829.2 440.6 1830.4 439.8C1831.6 439.0 1832.7 442.5 1833.8 442.1C1834.9 441.7 1836.1 437.5 1837.3 437.5C1838.5 437.5 1839.6 440.2 1840.8 442.1C1842.0 444.0 1843.0 447.0 1844.2 449.1C1845.4 451.2 1846.5 457.2 1847.7 454.9C1848.9 452.6 1850.0 444.3 1851.2 435.2C1852.4 426.1 1853.6 409.2 1854.7 400.5C1855.8 391.8 1857.1 384.3 1858.1 383.1C1859.1 381.9 1859.9 385.6 1860.9 393.5C1861.9 401.4 1863.1 420.6 1863.9 430.6C1864.8 440.6 1865.2 447.7 1866.0 453.7C1866.8 459.7 1867.6 467.2 1868.5 466.7C1869.4 466.2 1870.3 455.1 1871.3 450.5C1872.3 445.9 1873.5 441.2 1874.7 438.9C1875.9 436.6 1877.0 436.4 1878.2 436.6C1879.4 436.8 1880.6 440.4 1881.7 440.0C1882.8 439.6 1883.9 436.0 1885.1 434.3C1886.2 432.6 1887.4 429.2 1888.6 429.6C1889.8 430.0 1890.9 435.1 1892.1 436.6C1893.3 438.2 1894.4 442.4 1895.6 438.9C1896.8 435.4 1897.8 421.1 1899.0 415.7C1900.2 410.3 1901.3 408.4 1902.5 406.5C1903.7 404.6 1904.8 403.4 1906.0 404.2C1907.2 405.0 1908.3 409.2 1909.5 411.1C1910.7 413.0 1911.8 414.5 1912.9 415.7C1914.1 416.9 1915.2 418.9 1916.4 418.1C1917.6 417.3 1918.8 414.6 1919.9 411.1C1921.1 407.6 1922.2 401.8 1923.3 397.2C1924.4 392.6 1925.4 386.4 1926.4 383.3C1927.4 380.2 1928.3 377.1 1929.1 378.7C1929.9 380.2 1930.6 386.4 1931.4 392.6C1932.2 398.8 1933.2 409.5 1934.2 415.7C1935.2 421.9 1936.1 425.7 1937.2 429.6C1938.3 433.5 1939.5 434.3 1940.7 438.9C1941.9 443.5 1943.1 451.6 1944.2 457.4C1945.3 463.2 1946.4 469.4 1947.6 473.6C1948.8 477.9 1949.9 479.8 1951.1 482.9C1952.3 486.0 1953.4 489.0 1954.6 492.1C1955.8 495.2 1957.1 502.5 1958.1 501.4C1959.1 500.2 1959.4 491.0 1960.4 485.2C1961.4 479.4 1962.8 470.9 1963.9 466.7C1965.1 462.4 1966.2 460.5 1967.3 459.7C1968.4 458.9 1969.6 460.1 1970.8 462.0C1972.0 463.9 1973.1 468.2 1974.3 471.3C1975.5 474.4 1976.5 479.5 1977.7 480.6C1978.9 481.8 1980.0 480.5 1981.2 478.2C1982.4 475.9 1983.5 469.8 1984.7 466.7C1985.9 463.6 1987.1 459.7 1988.2 459.7C1989.3 459.7 1990.4 463.6 1991.6 466.7C1992.8 469.8 1993.9 475.1 1995.1 478.2C1996.3 481.3 1997.4 484.0 1998.6 485.2C1999.8 486.4 2000.8 486.0 2002.0 485.2C2003.2 484.4 2004.3 482.5 2005.5 480.6C2006.7 478.7 2007.8 472.8 2009.0 473.6C2010.2 474.4 2011.3 480.6 2012.5 485.2C2013.7 489.8 2014.8 497.5 2015.9 501.4C2017.1 505.2 2018.2 504.8 2019.4 508.3C2020.6 511.8 2021.9 519.5 2022.9 522.2C2023.9 524.9 2024.2 525.3 2025.2 524.5C2026.2 523.7 2027.6 517.6 2028.7 517.6C2029.8 517.6 2031.1 522.6 2032.1 524.5C2033.1 526.4 2033.7 531.9 2034.5 529.2C2035.3 526.5 2036.1 513.3 2036.8 508.3C2037.5 503.3 2037.8 497.2 2038.4 499.1C2039.1 501.0 2039.9 513.0 2040.7 519.9C2041.5 526.8 2042.2 538.8 2043.0 540.7C2043.8 542.6 2044.4 535.7 2045.3 531.5C2046.2 527.3 2047.2 519.9 2048.3 515.3C2049.4 510.7 2050.5 507.2 2051.8 503.7C2053.2 500.2 2054.7 497.5 2056.4 494.4C2058.1 491.3 2060.7 487.9 2062.0 485.2C2063.3 482.5 2063.3 479.0 2064.2 478.2C2065.1 477.4 2066.4 479.4 2067.6 480.6C2068.8 481.8 2070.1 487.5 2071.1 485.2C2072.1 482.9 2072.6 470.6 2073.4 466.7C2074.2 462.8 2074.9 460.9 2075.7 462.0C2076.5 463.1 2077.3 470.5 2078.1 473.6C2078.9 476.7 2079.6 479.8 2080.4 480.6C2081.2 481.4 2081.7 477.4 2082.7 478.2C2083.7 479.0 2085.2 481.7 2086.2 485.2C2087.2 488.7 2087.6 497.6 2088.5 499.1C2089.4 500.6 2091.0 495.6 2091.9 494.4C2092.8 493.2 2093.5 492.5 2093.8 492.1" fill="none" stroke="#BF9000" stroke-width="3.1" stroke-linejoin="round" stroke-linecap="round"/>
<path d="M271.5 470.7C272.0 468.2 273.5 459.9 274.7 455.6C275.9 451.4 277.5 447.5 278.7 445.2C279.9 442.9 281.1 438.9 282.1 441.8C283.1 444.7 283.8 449.9 284.7 462.6C285.6 475.3 286.6 503.1 287.5 518.1C288.4 533.1 289.4 546.7 290.2 552.9C291.0 559.1 291.3 558.7 292.1 555.2C292.9 551.7 294.2 537.0 295.1 532.0C296.0 527.0 296.5 522.8 297.4 525.1C298.2 527.4 299.1 537.8 300.2 545.9C301.2 554.0 302.5 566.2 303.7 573.7C304.9 581.2 306.0 590.3 307.1 591.1C308.2 591.9 309.1 583.5 310.1 578.3C311.2 573.1 312.3 564.4 313.4 559.8C314.5 555.2 315.8 548.3 316.9 550.6C318.0 552.9 318.8 565.2 319.9 573.7C321.0 582.2 322.2 596.1 323.3 601.5C324.4 606.9 325.4 610.0 326.4 606.1C327.4 602.2 328.1 589.9 329.1 578.3C330.1 566.7 331.5 547.5 332.6 536.7C333.7 525.9 334.7 518.1 335.6 513.5C336.5 508.9 337.0 506.6 337.9 508.9C338.8 511.2 340.1 518.1 341.2 527.4C342.3 536.6 343.5 554.8 344.6 564.4C345.7 574.0 346.5 581.2 347.6 585.3C348.7 589.4 349.7 587.4 351.1 588.8C352.5 590.1 354.5 594.4 355.8 593.4C357.1 592.4 358.1 590.1 359.2 583.0C360.3 575.9 361.5 559.1 362.7 550.6C363.9 542.1 365.2 535.9 366.2 532.0C367.2 528.1 367.8 526.6 368.9 527.4C370.0 528.2 371.3 532.1 372.6 536.7C373.9 541.3 375.4 547.5 376.6 555.2C377.9 562.9 379.0 573.8 380.1 583.0C381.2 592.2 382.4 603.8 383.5 610.7C384.6 617.6 385.8 618.4 387.0 624.6C388.2 630.8 389.4 640.1 390.5 647.8C391.6 655.5 392.3 659.8 393.5 670.9C394.7 682.0 396.6 708.7 397.9 714.4C399.2 720.1 400.2 714.5 401.4 705.2C402.5 696.0 403.4 672.4 404.8 658.9C406.2 645.4 407.9 632.7 409.5 624.2C411.1 615.7 412.9 611.1 414.1 608.0C415.3 604.9 415.9 603.3 416.9 605.6C417.9 607.9 418.9 616.9 419.9 621.9C420.8 626.9 421.6 636.1 422.6 635.7C423.6 635.3 424.2 628.0 425.7 619.5C427.2 611.0 429.3 596.8 431.4 584.8C433.5 572.8 436.5 556.3 438.4 547.8C440.3 539.3 441.5 536.4 443.0 533.9C444.5 531.4 446.1 530.4 447.6 532.7C449.2 535.0 450.8 541.8 452.3 547.8C453.9 553.8 455.5 557.8 456.9 568.6C458.2 579.4 459.2 595.6 460.4 612.6C461.6 629.6 462.8 653.1 463.9 670.5C465.0 687.9 466.4 706.4 467.3 716.8C468.2 727.2 468.6 732.6 469.6 733.0C470.6 733.4 471.8 722.4 473.1 719.1C474.5 715.8 476.4 714.6 477.7 713.3C479.0 711.9 480.0 710.8 481.2 711.0C482.4 711.2 483.6 713.8 484.7 714.4C485.8 715.0 486.6 719.8 487.5 714.4C488.4 709.0 488.9 690.9 489.8 682.0C490.7 673.1 491.7 664.9 492.8 661.2C493.9 657.5 495.3 658.9 496.3 660.0C497.3 661.1 498.2 663.3 499.0 668.1C499.8 672.9 500.0 685.9 500.9 689.0C501.8 692.1 503.2 689.4 504.4 686.7C505.5 684.0 506.6 676.5 507.8 672.8C509.0 669.1 510.3 662.4 511.3 664.7C512.3 667.0 512.8 679.2 513.6 686.7C514.4 694.2 515.1 703.4 515.9 709.8C516.7 716.2 517.2 722.6 518.2 724.9C519.2 727.2 520.7 721.2 521.7 723.7C522.7 726.2 523.0 733.0 524.0 739.9C525.0 746.8 526.3 760.2 527.5 765.4C528.7 770.6 529.8 767.7 531.0 771.2C532.2 774.7 533.5 779.8 534.5 786.2C535.5 792.6 536.0 803.6 536.8 809.4C537.6 815.2 538.1 800.5 539.1 820.9C540.1 841.3 541.8 919.0 542.8 931.9C543.8 944.8 544.2 919.4 545.1 898.4C546.0 877.4 546.9 835.9 547.9 805.8C548.9 775.7 550.1 735.0 551.3 717.8C552.4 700.6 553.6 705.5 554.8 702.8C556.0 700.1 557.3 699.1 558.3 701.6C559.3 704.1 559.6 709.0 560.6 717.8C561.6 726.6 562.8 744.6 564.1 754.6C565.5 764.6 567.2 781.6 568.7 777.8C570.2 773.9 571.8 746.9 573.3 731.5C574.8 716.1 576.6 696.8 578.0 685.2C579.4 673.6 580.2 662.0 581.4 662.0C582.5 662.0 583.9 675.6 584.9 685.2C585.9 694.9 586.4 714.1 587.2 719.9C588.1 725.7 589.0 725.7 590.0 719.9C591.0 714.1 591.9 695.6 593.0 685.2C594.1 674.8 595.5 662.6 596.5 657.4C597.5 652.2 598.0 652.3 598.8 653.9C599.6 655.5 600.1 663.8 601.1 666.7C602.1 669.6 603.4 671.7 604.6 671.3C605.8 670.9 607.0 666.7 608.1 664.4C609.2 662.1 610.4 657.8 611.5 657.4C612.6 657.0 613.8 656.6 615.0 662.0C616.2 667.4 617.4 680.1 618.5 689.8C619.6 699.4 620.8 713.5 621.9 719.9C623.0 726.3 624.4 733.8 625.4 728.0C626.4 722.2 626.7 699.3 627.7 685.2C628.7 671.1 630.0 652.4 631.2 643.5C632.4 634.6 633.6 633.2 634.7 631.9C635.9 630.5 637.0 630.4 638.1 635.4C639.2 640.4 640.4 649.9 641.6 662.0C642.8 674.1 643.9 692.9 645.1 708.3C646.3 723.7 647.5 741.0 648.6 754.6C649.8 768.2 650.9 782.2 652.0 789.6C653.1 797.0 654.5 800.0 655.5 798.8C656.5 797.6 656.8 793.0 657.8 782.6C658.8 772.2 660.1 749.1 661.3 736.3C662.5 723.5 663.6 711.0 664.8 706.0C665.9 701.0 667.1 701.3 668.2 706.0C669.4 710.7 670.5 728.5 671.7 734.0C672.9 739.5 674.0 739.1 675.2 738.7C676.4 738.3 677.6 736.0 678.7 731.7C679.9 727.5 681.0 719.8 682.1 713.2C683.2 706.6 684.4 699.2 685.6 692.1C686.8 685.0 688.3 681.8 689.5 670.5C690.7 659.2 691.8 634.4 692.9 624.2C694.0 614.0 695.4 611.0 696.4 609.1C697.4 607.2 697.9 606.2 698.7 612.6C699.5 619.0 700.0 631.9 701.0 647.3C702.0 662.7 703.3 688.6 704.5 705.2C705.7 721.8 707.0 743.0 708.0 746.9C709.0 750.8 709.4 734.9 710.3 728.3C711.2 721.7 712.3 708.3 713.3 707.5C714.3 706.7 715.0 710.6 716.1 723.7C717.2 736.8 718.5 766.1 719.6 786.2C720.8 806.3 721.7 828.3 723.0 844.1C724.3 859.9 725.9 885.0 727.2 881.1C728.6 877.2 729.9 836.7 731.1 820.9C732.3 805.1 733.4 795.1 734.6 786.2C735.8 777.3 736.9 771.2 738.1 767.7C739.3 764.2 740.5 770.0 741.6 765.4C742.8 760.8 743.9 747.6 745.0 739.9C746.1 732.2 747.3 726.8 748.5 719.1C749.7 711.4 750.9 702.9 752.0 693.6C753.1 684.3 754.2 672.0 755.4 663.5C756.5 655.0 757.7 646.9 758.9 642.7C760.1 638.5 761.4 637.0 762.4 638.1C763.4 639.2 763.9 642.3 764.7 649.6C765.5 656.9 766.0 665.0 767.0 682.0C768.0 699.0 769.3 730.3 770.5 751.5C771.7 772.7 772.8 795.9 774.0 809.4C775.2 822.9 776.8 832.5 777.9 832.5C779.0 832.5 779.8 822.9 780.9 809.4C782.0 795.9 783.2 768.9 784.4 751.5C785.6 734.1 786.8 718.3 787.9 705.2C789.0 692.1 790.1 680.1 791.3 672.8C792.4 665.5 793.8 663.5 794.8 661.2C795.8 658.9 796.1 658.3 797.1 658.9C798.1 659.5 799.6 663.6 800.6 664.7C801.6 665.9 802.1 668.3 802.9 665.8C803.7 663.3 804.3 653.8 805.2 649.6C806.1 645.4 807.2 640.8 808.2 640.4C809.2 640.0 810.1 642.3 811.0 647.3C811.9 652.3 812.3 660.9 813.3 670.5C814.3 680.1 815.6 693.6 816.8 705.2C818.0 716.8 819.0 729.1 820.3 739.9C821.6 750.7 823.2 770.0 824.4 770.0C825.5 770.0 826.4 750.7 827.2 739.9C828.1 729.1 828.6 715.6 829.5 705.2C830.4 694.8 831.5 681.6 832.3 677.4C833.1 673.1 833.4 675.1 834.1 679.7C834.8 684.3 835.7 697.1 836.5 705.2C837.3 713.3 838.0 725.2 838.8 728.3C839.6 731.4 840.1 727.6 841.1 723.7C842.1 719.9 843.5 710.6 844.6 705.2C845.8 699.8 846.6 695.2 848.0 691.3C849.4 687.4 851.2 684.3 852.7 682.0C854.2 679.7 856.1 681.2 857.3 677.4C858.4 673.5 858.8 665.8 859.6 658.9C860.4 652.0 861.1 640.7 861.9 635.7C862.7 630.7 863.2 629.6 864.2 628.8C865.2 628.0 866.5 627.6 867.7 631.1C868.9 634.6 870.0 641.1 871.2 649.6C872.4 658.1 873.6 668.9 874.7 682.0C875.9 695.1 877.0 709.0 878.1 728.3C879.2 747.6 880.6 774.1 881.6 797.8C882.6 821.5 883.6 858.8 884.3 870.4C885.0 882.0 885.4 878.8 886.0 867.2C886.6 855.6 886.9 827.4 887.8 800.9C888.7 774.4 889.8 729.5 891.3 708.3C892.8 687.1 895.5 681.7 897.0 673.6C898.5 665.5 899.5 663.2 900.5 659.7C901.5 656.2 902.0 650.5 902.8 652.8C903.6 655.1 904.3 664.4 905.1 673.6C905.9 682.9 906.5 699.0 907.5 708.3C908.5 717.6 909.8 726.5 910.9 729.2C912.0 731.9 913.2 725.7 914.4 724.5C915.6 723.3 916.9 717.2 917.9 722.2C918.9 727.2 919.2 745.3 920.2 754.6C921.2 763.9 922.6 772.0 923.7 777.8C924.9 783.6 926.0 793.3 927.1 789.4C928.2 785.5 929.4 766.2 930.6 754.6C931.8 743.0 932.9 731.5 934.1 719.9C935.3 708.3 936.5 697.9 937.6 685.2C938.8 672.5 940.0 651.6 941.0 643.5C942.0 635.4 942.5 637.4 943.3 636.6C944.1 635.8 944.9 637.0 945.7 638.9C946.5 640.8 947.2 649.3 948.0 648.1C948.8 646.9 949.3 635.5 950.3 631.9C951.3 628.2 952.6 626.6 953.8 626.2C954.9 625.8 956.2 626.7 957.2 629.6C958.2 632.5 958.7 636.2 959.5 643.5C960.3 650.8 961.1 660.9 961.9 673.6C962.7 686.3 963.4 707.2 964.2 719.9C965.0 732.6 965.7 742.3 966.5 750.0C967.3 757.7 967.8 768.5 968.8 766.2C969.8 763.9 971.1 744.2 972.3 736.1C973.5 728.0 974.8 721.1 975.8 717.6C976.8 714.1 977.3 714.9 978.1 715.3C978.9 715.7 979.4 713.3 980.4 719.9C981.4 726.5 982.8 745.0 983.9 754.6C985.0 764.2 985.9 772.4 987.3 777.8C988.6 783.2 990.5 783.1 992.0 787.0C993.5 790.9 995.1 794.7 996.6 800.9C998.1 807.1 999.9 818.3 1001.2 824.1C1002.6 829.9 1003.6 832.8 1004.7 835.6C1005.8 838.5 1006.7 843.1 1007.7 841.2C1008.7 839.3 1009.5 832.7 1010.5 824.1C1011.5 815.5 1012.5 804.8 1013.9 789.4C1015.2 774.0 1017.0 746.9 1018.6 731.5C1020.2 716.1 1021.7 707.2 1023.2 696.8C1024.7 686.4 1026.5 674.8 1027.8 669.0C1029.1 663.2 1030.3 661.2 1031.3 662.0C1032.3 662.8 1032.6 667.8 1033.6 673.6C1034.6 679.4 1035.9 691.0 1037.1 696.8C1038.3 702.6 1039.6 705.6 1040.6 708.3C1041.6 711.0 1042.1 713.8 1042.9 713.0C1043.7 712.2 1044.4 705.6 1045.2 703.7C1046.0 701.8 1046.5 699.5 1047.5 701.4C1048.5 703.3 1049.8 712.2 1051.0 715.3C1052.2 718.4 1053.4 719.1 1054.5 719.9C1055.6 720.7 1056.5 718.0 1057.5 719.9C1058.5 721.8 1059.4 727.6 1060.2 731.5C1061.0 735.4 1061.6 748.9 1062.6 743.1C1063.6 737.3 1064.8 710.3 1066.0 696.8C1067.2 683.3 1068.5 670.5 1069.5 662.0C1070.5 653.5 1071.5 645.8 1072.3 645.8C1073.1 645.8 1073.7 651.6 1074.6 662.0C1075.5 672.4 1076.7 698.6 1077.6 708.3C1078.5 717.9 1079.2 718.3 1079.9 719.9C1080.6 721.5 1081.3 724.5 1082.0 717.6C1082.7 710.7 1082.9 690.6 1083.8 678.3C1084.7 666.0 1086.1 647.5 1087.3 643.6C1088.5 639.8 1089.8 651.0 1090.7 655.2C1091.7 659.5 1092.2 669.1 1093.0 669.1C1093.8 669.1 1094.6 658.3 1095.4 655.2C1096.2 652.1 1097.1 646.8 1098.1 650.6C1099.0 654.5 1100.0 669.0 1101.1 678.3C1102.2 687.5 1103.4 698.8 1104.6 706.1C1105.8 713.4 1107.1 723.1 1108.1 722.3C1109.1 721.5 1109.6 707.3 1110.4 701.5C1111.2 695.7 1112.2 687.6 1113.2 687.6C1114.2 687.6 1115.2 698.2 1116.2 701.5C1117.2 704.8 1118.2 709.2 1119.2 707.3C1120.2 705.4 1121.0 696.6 1122.0 689.9C1123.0 683.1 1124.4 671.6 1125.5 666.8C1126.6 662.0 1127.5 659.1 1128.5 661.0C1129.5 662.9 1130.2 671.9 1131.2 678.3C1132.2 684.7 1133.6 695.3 1134.7 699.2C1135.8 703.1 1136.7 705.0 1137.7 701.5C1138.7 698.0 1139.5 683.3 1140.5 678.3C1141.5 673.3 1142.8 670.6 1144.0 671.4C1145.2 672.2 1146.1 680.5 1147.4 683.0C1148.8 685.5 1150.8 684.5 1152.1 686.4C1153.4 688.3 1154.3 691.2 1155.5 694.5C1156.7 697.8 1157.7 703.2 1159.0 706.1C1160.3 709.0 1161.9 713.4 1163.2 711.9C1164.5 710.4 1165.9 704.4 1167.1 696.9C1168.3 689.4 1169.2 677.6 1170.6 666.8C1171.9 656.0 1173.7 642.8 1175.2 632.0C1176.8 621.2 1178.6 608.1 1179.9 601.9C1181.2 595.7 1182.0 593.8 1182.9 595.0C1183.9 596.2 1184.8 600.8 1185.6 608.9C1186.4 617.0 1187.1 630.1 1188.0 643.6C1188.9 657.1 1190.0 676.8 1191.0 689.9C1192.0 703.0 1192.9 720.4 1193.7 722.3C1194.5 724.2 1195.3 707.3 1196.1 701.5C1196.9 695.7 1197.5 689.9 1198.4 687.6C1199.4 685.3 1200.8 686.1 1201.8 687.6C1202.8 689.1 1203.2 692.6 1204.2 696.9C1205.2 701.1 1206.4 709.2 1207.6 713.1C1208.8 717.0 1209.9 719.2 1211.1 720.0C1212.3 720.8 1213.4 720.0 1214.6 717.7C1215.8 715.4 1216.7 710.7 1218.0 706.1C1219.3 701.5 1221.2 695.7 1222.7 689.9C1224.2 684.1 1226.0 677.6 1227.3 671.4C1228.6 665.2 1229.6 657.1 1230.8 652.9C1232.0 648.6 1233.0 645.5 1234.2 645.9C1235.4 646.3 1236.3 653.3 1237.7 655.2C1239.1 657.1 1241.2 654.4 1242.4 657.5C1243.6 660.6 1243.8 666.4 1244.7 673.7C1245.7 681.0 1247.1 696.1 1248.1 701.5C1249.1 706.9 1249.7 710.0 1250.5 706.1C1251.3 702.2 1251.8 688.7 1252.8 678.3C1253.8 667.9 1255.2 651.7 1256.2 643.6C1257.2 635.5 1258.0 630.1 1259.0 629.7C1260.0 629.3 1260.9 635.1 1262.0 641.3C1263.1 647.5 1264.3 658.3 1265.5 666.8C1266.7 675.3 1267.8 684.9 1269.0 692.2C1270.2 699.5 1271.4 709.2 1272.4 710.7C1273.4 712.2 1273.9 706.9 1274.8 701.5C1275.7 696.1 1277.2 681.8 1278.0 678.3C1278.8 674.8 1278.9 680.1 1279.8 680.7C1280.7 681.3 1282.3 677.6 1283.3 681.9C1284.3 686.1 1284.8 700.2 1285.6 706.2C1286.4 712.2 1287.4 721.6 1288.4 717.8C1289.4 713.9 1290.3 694.7 1291.4 683.1C1292.5 671.5 1293.7 657.8 1294.8 648.3C1295.9 638.8 1297.1 626.3 1298.3 626.3C1299.5 626.3 1300.6 638.8 1301.8 648.3C1303.0 657.8 1304.1 675.2 1305.2 683.1C1306.3 691.0 1307.3 697.7 1308.3 695.8C1309.3 693.9 1310.1 678.2 1311.0 671.5C1311.9 664.8 1312.8 655.3 1313.8 655.3C1314.8 655.3 1315.7 663.0 1316.8 671.5C1317.9 680.0 1319.2 695.6 1320.3 706.2C1321.4 716.8 1322.3 735.1 1323.3 735.1C1324.3 735.1 1325.2 714.9 1326.1 706.2C1326.9 697.5 1327.4 688.1 1328.4 683.1C1329.4 678.1 1330.9 683.8 1331.9 676.1C1332.9 668.4 1333.5 648.4 1334.6 636.8C1335.7 625.2 1337.3 606.7 1338.4 606.7C1339.5 606.7 1340.1 625.4 1341.1 636.8C1342.0 648.2 1343.1 673.1 1344.1 675.0C1345.1 676.9 1345.9 660.5 1346.9 648.3C1348.0 636.1 1349.2 614.0 1350.4 602.0C1351.6 590.0 1352.8 578.9 1353.9 576.6C1355.0 574.3 1356.0 584.6 1356.9 588.1C1357.9 591.6 1358.6 597.0 1359.6 597.4C1360.6 597.8 1361.9 589.0 1363.1 590.5C1364.3 592.0 1365.4 600.2 1366.6 606.7C1367.8 613.2 1368.9 623.6 1370.1 629.8C1371.2 636.0 1372.3 644.5 1373.5 643.7C1374.7 642.9 1375.8 634.1 1377.0 625.2C1378.2 616.3 1379.3 602.1 1380.5 590.5C1381.7 578.9 1382.8 565.0 1384.0 555.7C1385.2 546.4 1386.2 539.0 1387.4 534.9C1388.6 530.8 1389.7 530.6 1390.9 531.4C1392.1 532.2 1393.2 533.5 1394.4 539.5C1395.6 545.5 1396.7 561.5 1397.8 567.3C1398.9 573.1 1400.3 572.4 1401.3 574.3C1402.3 576.2 1402.8 572.3 1403.6 578.9C1404.4 585.5 1404.9 603.2 1405.9 613.6C1406.9 624.0 1408.2 638.7 1409.4 641.4C1410.6 644.1 1411.7 634.4 1412.9 629.8C1414.1 625.2 1415.2 619.0 1416.4 613.6C1417.6 608.2 1418.7 601.6 1419.8 597.4C1420.9 593.1 1422.3 588.1 1423.3 588.1C1424.3 588.1 1424.8 594.7 1425.6 597.4C1426.4 600.1 1426.9 607.5 1427.9 604.4C1428.9 601.3 1430.2 585.3 1431.4 578.9C1432.6 572.5 1433.7 566.2 1434.9 566.2C1436.1 566.2 1437.1 573.7 1438.4 578.9C1439.8 584.1 1441.5 591.6 1443.0 597.4C1444.5 603.2 1446.4 612.8 1447.6 613.6C1448.8 614.4 1449.0 608.5 1449.9 602.0C1450.8 595.5 1452.1 574.3 1452.9 574.3C1453.8 574.3 1454.3 591.6 1455.0 602.0C1455.7 612.4 1456.2 627.1 1456.9 636.8C1457.6 646.4 1458.2 658.4 1459.2 659.9C1460.2 661.4 1461.6 649.1 1462.7 646.0C1463.8 642.9 1464.9 641.8 1466.1 641.4C1467.2 641.0 1468.3 641.8 1469.6 643.7C1470.9 645.6 1473.0 653.6 1474.0 653.0C1475.0 652.4 1474.7 649.8 1475.8 639.9C1476.9 630.0 1479.1 607.1 1480.4 593.6C1481.8 580.1 1482.7 567.6 1483.9 558.9C1485.1 550.2 1486.4 541.5 1487.4 541.5C1488.4 541.5 1488.9 548.3 1489.7 558.9C1490.5 569.5 1491.1 592.7 1492.0 605.2C1492.9 617.7 1494.0 632.2 1495.0 634.1C1496.0 636.0 1496.8 629.3 1497.8 616.8C1498.8 604.3 1500.0 578.2 1501.2 558.9C1502.4 539.6 1503.5 515.5 1504.7 501.0C1505.9 486.5 1507.2 477.1 1508.2 472.1C1509.2 467.1 1509.7 466.1 1510.5 470.9C1511.3 475.7 1512.0 488.3 1512.8 501.0C1513.6 513.7 1514.3 533.8 1515.1 547.3C1515.9 560.8 1516.5 575.0 1517.5 582.0C1518.5 589.0 1519.8 587.5 1520.9 589.0C1522.1 590.5 1523.2 587.4 1524.4 591.3C1525.6 595.1 1526.9 611.7 1527.9 612.1C1528.9 612.5 1529.2 600.5 1530.2 593.6C1531.2 586.7 1532.6 575.3 1533.7 570.5C1534.8 565.7 1535.9 564.7 1537.1 564.7C1538.2 564.7 1539.4 568.4 1540.6 570.5C1541.8 572.6 1542.9 577.4 1544.1 577.4C1545.2 577.4 1546.3 573.6 1547.5 570.5C1548.7 567.4 1549.8 561.2 1551.0 558.9C1552.2 556.6 1553.3 555.8 1554.5 556.6C1555.7 557.4 1557.0 559.3 1558.0 563.5C1559.0 567.7 1559.3 572.7 1560.3 582.0C1561.3 591.3 1562.6 617.2 1563.8 619.1C1565.0 621.0 1565.8 598.6 1567.2 593.6C1568.6 588.6 1570.4 590.5 1571.9 589.0C1573.5 587.5 1575.2 587.5 1576.5 584.4C1577.8 581.3 1578.8 577.5 1580.0 570.5C1581.2 563.5 1582.2 552.4 1583.4 542.7C1584.6 533.1 1585.7 521.5 1586.9 512.6C1588.1 503.7 1589.2 495.4 1590.4 489.4C1591.6 483.4 1592.7 478.2 1593.8 476.7C1594.9 475.2 1595.9 476.1 1596.9 480.2C1597.9 484.2 1598.6 493.7 1599.6 501.0C1600.6 508.3 1601.9 519.2 1603.1 524.2C1604.3 529.2 1605.4 529.2 1606.6 531.1C1607.8 533.0 1608.9 533.8 1610.0 535.7C1611.1 537.6 1612.1 546.6 1613.1 542.7C1614.1 538.9 1614.8 525.3 1615.8 512.6C1616.8 499.9 1618.1 478.7 1619.3 466.3C1620.5 453.9 1621.8 443.3 1622.8 438.5C1623.8 433.7 1624.3 434.7 1625.1 437.4C1625.9 440.1 1626.6 446.0 1627.4 454.7C1628.2 463.4 1628.9 478.6 1629.7 489.4C1630.5 500.2 1631.2 512.7 1632.0 519.5C1632.8 526.3 1633.8 530.4 1634.8 530.0C1635.8 529.6 1636.7 524.0 1637.8 517.2C1638.9 510.4 1640.1 499.8 1641.3 489.4C1642.5 479.0 1643.7 463.2 1644.8 454.7C1645.9 446.2 1646.8 441.0 1647.8 438.5C1648.8 436.0 1649.7 437.8 1650.6 439.7C1651.5 441.6 1652.3 449.5 1653.3 450.1C1654.2 450.7 1655.2 445.2 1656.3 443.1C1657.4 441.0 1658.6 438.2 1659.8 437.4C1661.0 436.6 1662.2 436.4 1663.3 438.5C1664.4 440.6 1665.2 443.5 1666.3 450.1C1667.4 456.7 1668.9 470.7 1670.0 477.9C1671.1 485.1 1671.8 489.2 1672.9 493.1C1674.0 497.0 1675.2 502.4 1676.4 501.2C1677.6 500.0 1678.7 491.3 1679.9 486.1C1681.1 480.9 1682.2 473.4 1683.4 469.9C1684.6 466.4 1685.7 465.9 1686.8 465.3C1687.9 464.7 1689.1 465.6 1690.3 466.4C1691.5 467.2 1692.6 468.1 1693.8 469.9C1695.0 471.6 1696.2 473.0 1697.2 476.9C1698.2 480.8 1698.8 486.6 1699.6 493.1C1700.4 499.7 1701.1 510.0 1701.9 516.2C1702.7 522.4 1703.4 532.0 1704.2 530.1C1705.0 528.2 1705.7 511.9 1706.5 504.6C1707.3 497.3 1707.8 491.5 1708.8 486.1C1709.8 480.7 1711.1 478.8 1712.3 472.2C1713.5 465.6 1714.6 456.1 1715.8 446.8C1717.0 437.6 1718.0 423.9 1719.2 416.7C1720.4 409.5 1721.7 405.8 1722.7 403.9C1723.7 402.0 1724.2 401.4 1725.0 405.1C1725.8 408.8 1726.5 417.0 1727.3 425.9C1728.1 434.8 1728.9 447.1 1729.7 458.3C1730.5 469.5 1731.2 483.1 1732.0 493.1C1732.8 503.1 1733.5 516.6 1734.3 518.5C1735.1 520.4 1735.8 508.5 1736.6 504.6C1737.4 500.8 1737.9 496.2 1738.9 495.4C1739.9 494.6 1741.2 499.0 1742.4 500.0C1743.6 501.0 1744.8 504.3 1745.9 501.2C1747.1 498.1 1748.2 490.6 1749.3 481.5C1750.4 472.4 1751.6 457.2 1752.8 446.8C1754.0 436.4 1755.3 424.4 1756.3 419.0C1757.3 413.6 1757.8 413.2 1758.6 414.4C1759.4 415.5 1760.1 418.6 1760.9 425.9C1761.7 433.2 1762.2 447.1 1763.2 458.3C1764.2 469.5 1765.7 486.0 1766.7 493.1C1767.7 500.2 1768.0 503.1 1769.0 501.2C1770.0 499.3 1771.3 487.9 1772.5 481.5C1773.7 475.1 1774.8 468.0 1776.0 463.0C1777.2 458.0 1778.2 454.9 1779.4 451.4C1780.6 447.9 1781.7 444.0 1782.9 442.1C1784.1 440.2 1785.4 439.8 1786.4 439.8C1787.4 439.8 1787.9 439.0 1788.7 442.1C1789.5 445.2 1790.0 451.7 1791.0 458.3C1792.0 464.9 1793.3 477.4 1794.5 481.5C1795.7 485.6 1796.8 484.5 1797.9 482.6C1799.1 480.7 1800.2 474.7 1801.4 469.9C1802.6 465.1 1803.9 457.5 1804.9 453.7C1806.0 449.9 1806.9 446.0 1807.7 446.8C1808.5 447.6 1809.2 450.6 1810.0 458.3C1810.8 466.0 1811.5 485.2 1812.3 493.1C1813.1 501.0 1813.7 507.0 1814.6 505.8C1815.5 504.6 1816.5 492.1 1817.6 486.1C1818.7 480.1 1820.1 473.0 1821.1 469.9C1822.1 466.8 1822.4 466.8 1823.4 467.6C1824.4 468.4 1825.7 472.2 1826.9 474.5C1828.1 476.8 1829.2 480.3 1830.4 481.5C1831.6 482.7 1832.7 482.7 1833.8 481.5C1834.9 480.3 1836.1 473.7 1837.3 474.5C1838.5 475.3 1839.6 482.2 1840.8 486.1C1842.0 490.0 1843.0 497.7 1844.2 497.7C1845.4 497.7 1846.5 493.4 1847.7 486.1C1848.9 478.8 1850.0 463.7 1851.2 453.7C1852.4 443.7 1853.6 430.1 1854.7 425.9C1855.8 421.6 1856.8 424.7 1857.7 428.2C1858.7 431.7 1859.4 438.7 1860.4 446.8C1861.4 454.9 1863.0 470.3 1863.9 476.9C1864.8 483.4 1865.3 480.7 1866.0 486.1C1866.7 491.5 1867.1 509.6 1867.8 509.5C1868.5 509.4 1869.2 492.7 1870.1 485.2C1871.0 477.7 1872.1 467.5 1873.1 464.4C1874.1 461.3 1874.9 464.8 1875.9 466.7C1877.0 468.6 1878.2 473.8 1879.4 475.9C1880.6 478.0 1881.7 481.7 1882.8 479.4C1883.9 477.1 1885.1 468.0 1886.3 462.0C1887.5 456.0 1888.6 448.9 1889.8 443.5C1891.0 438.1 1892.0 433.5 1893.2 429.6C1894.4 425.8 1895.7 421.2 1896.7 420.4C1897.7 419.6 1898.2 421.1 1899.0 425.0C1899.8 428.9 1900.6 439.4 1901.4 443.5C1902.2 447.6 1902.9 451.6 1903.7 449.3C1904.5 447.0 1905.5 434.8 1906.4 429.6C1907.3 424.4 1908.2 418.1 1909.0 418.1C1909.8 418.1 1910.5 425.6 1911.3 429.6C1912.1 433.7 1913.2 443.2 1914.1 442.4C1914.9 441.6 1915.5 429.8 1916.4 425.0C1917.3 420.2 1918.4 415.7 1919.4 413.4C1920.4 411.1 1921.2 411.1 1922.2 411.1C1923.2 411.1 1924.6 411.1 1925.7 413.4C1926.8 415.7 1928.1 419.2 1929.1 425.0C1930.0 430.8 1930.4 441.9 1931.4 448.1C1932.4 454.3 1933.7 458.9 1934.9 462.0C1936.1 465.1 1937.2 462.8 1938.4 466.7C1939.6 470.6 1940.8 478.3 1941.9 485.2C1943.0 492.1 1944.0 498.6 1944.9 508.3C1945.9 518.0 1946.8 535.2 1947.6 543.1C1948.4 551.0 1949.2 557.0 1950.0 555.8C1950.8 554.6 1951.5 539.4 1952.7 536.1C1953.9 532.8 1955.8 538.8 1956.9 536.1C1958.0 533.4 1958.4 528.4 1959.2 519.9C1960.0 511.4 1960.5 494.8 1961.5 485.2C1962.5 475.6 1963.8 466.6 1965.0 462.0C1966.2 457.4 1967.3 457.4 1968.5 457.4C1969.7 457.4 1970.8 460.1 1972.0 462.0C1973.2 463.9 1974.2 467.4 1975.4 469.0C1976.6 470.6 1977.7 469.9 1978.9 471.3C1980.1 472.7 1981.2 476.3 1982.4 477.1C1983.6 477.9 1984.7 477.6 1985.8 475.9C1986.9 474.2 1988.1 469.4 1989.3 466.7C1990.5 464.0 1991.8 461.4 1992.8 459.7C1993.8 457.9 1994.1 456.2 1995.1 456.2C1996.1 456.2 1997.2 459.3 1998.6 459.7C1999.9 460.1 2001.8 457.4 2003.2 458.6C2004.6 459.8 2005.7 462.3 2006.7 466.7C2007.7 471.1 2008.2 479.0 2009.0 485.2C2009.8 491.4 2010.5 499.5 2011.3 503.7C2012.1 507.9 2012.7 510.6 2013.6 510.6C2014.5 510.6 2015.6 504.1 2016.6 503.7C2017.6 503.3 2018.6 503.7 2019.4 508.3C2020.2 512.9 2020.9 523.0 2021.7 531.5C2022.5 540.0 2023.0 553.1 2024.0 559.3C2025.0 565.5 2026.3 567.4 2027.5 568.5C2028.7 569.6 2029.8 568.5 2031.0 566.2C2032.2 563.9 2033.4 559.2 2034.5 554.6C2035.6 550.0 2036.5 541.5 2037.5 538.4C2038.5 535.3 2039.2 534.4 2040.2 536.1C2041.2 537.8 2042.2 551.5 2043.2 548.8C2044.2 546.1 2045.0 528.6 2046.0 519.9C2047.0 511.2 2048.2 504.1 2049.5 496.8C2050.8 489.5 2052.5 482.5 2054.1 475.9C2055.7 469.3 2057.5 461.6 2058.8 457.4C2060.1 453.2 2061.2 451.5 2062.0 450.5C2062.8 449.5 2062.9 450.5 2063.7 451.6C2064.4 452.8 2065.7 453.3 2066.5 457.4C2067.3 461.4 2068.0 469.3 2068.8 475.9C2069.6 482.5 2070.3 491.6 2071.1 496.8C2071.9 502.0 2072.6 509.1 2073.4 507.2C2074.2 505.3 2074.9 490.8 2075.7 485.2C2076.5 479.6 2077.3 473.6 2078.1 473.6C2078.9 473.6 2079.6 480.6 2080.4 485.2C2081.2 489.8 2081.9 498.3 2082.7 501.4C2083.5 504.5 2084.0 505.6 2085.0 503.7C2086.0 501.8 2087.5 494.4 2088.5 489.8C2089.5 485.2 2089.9 480.9 2090.8 475.9C2091.7 470.9 2093.3 462.4 2093.8 459.7" fill="none" stroke="#002060" stroke-width="3.1" stroke-linejoin="round" stroke-linecap="round"/>
<path d="M271.5 496.2C272.0 496.8 273.6 499.4 274.7 499.6C275.8 499.8 277.0 498.3 278.2 497.3C279.4 496.3 280.7 491.1 281.7 493.8C282.7 496.5 283.2 501.3 284.0 513.5C284.8 525.7 285.6 555.2 286.3 566.8C287.0 578.4 287.4 582.6 288.2 583.0C289.0 583.4 289.9 573.4 290.9 569.1C291.9 564.9 293.4 559.8 294.4 557.5C295.4 555.2 295.9 551.7 296.7 555.2C297.5 558.7 298.0 567.5 299.0 578.3C300.0 589.1 301.3 610.7 302.5 620.0C303.7 629.3 305.0 632.0 306.0 633.9C307.0 635.8 307.3 636.2 308.3 631.6C309.3 627.0 310.5 612.3 311.8 606.1C313.1 599.9 315.0 594.1 316.4 594.5C317.8 594.9 318.8 602.6 319.9 608.4C321.0 614.2 322.1 624.7 323.3 629.3C324.5 633.9 325.8 637.8 326.8 636.2C327.9 634.7 328.6 628.9 329.6 620.0C330.6 611.1 331.5 591.9 332.6 583.0C333.7 574.1 335.0 569.7 336.1 566.8C337.2 563.9 338.4 563.7 339.5 565.6C340.6 567.5 341.6 573.5 343.0 578.3C344.4 583.1 346.1 589.9 347.6 594.5C349.2 599.1 350.8 603.0 352.3 606.1C353.9 609.2 355.5 611.9 356.9 613.1C358.2 614.3 359.2 616.6 360.4 613.1C361.6 609.6 362.8 599.2 363.9 592.2C365.0 585.2 366.1 573.7 367.3 571.4C368.5 569.1 369.5 574.0 370.8 578.3C372.1 582.5 373.8 589.6 375.4 596.9C376.9 604.2 378.8 613.8 380.1 622.3C381.5 630.8 382.4 639.7 383.5 647.8C384.6 655.9 385.9 661.3 387.0 670.9C388.1 680.5 388.8 694.9 389.8 705.2C390.8 715.6 392.1 726.6 393.2 733.0C394.3 739.4 395.5 742.6 396.7 743.4C397.9 744.2 399.1 741.6 400.2 737.6C401.3 733.6 402.2 728.4 403.2 719.1C404.2 709.8 404.9 693.6 406.0 682.0C407.1 670.4 408.1 657.3 409.5 649.6C410.9 641.9 412.9 638.8 414.1 635.7C415.3 632.6 415.9 627.2 416.9 631.1C417.9 635.0 418.9 651.4 419.9 658.9C420.8 666.4 421.6 676.2 422.6 676.2C423.6 676.2 424.4 666.4 425.7 658.9C427.0 651.4 428.6 641.1 430.3 631.1C432.0 621.1 434.4 608.0 436.1 598.7C437.8 589.5 439.6 580.0 440.7 575.6C441.8 571.2 442.0 570.2 443.0 572.1C444.0 574.0 445.1 581.5 446.5 587.1C447.9 592.7 449.6 599.4 451.1 605.6C452.7 611.8 454.5 615.3 455.8 624.2C457.1 633.1 458.1 645.4 459.2 658.9C460.3 672.4 461.6 692.1 462.7 705.2C463.8 718.3 464.8 731.1 465.7 737.6C466.6 744.1 467.1 746.0 468.0 744.5C468.9 743.0 469.9 731.2 470.8 728.3C471.7 725.4 472.1 725.7 473.1 727.2C474.1 728.8 475.4 736.6 476.6 737.6C477.8 738.6 479.1 734.0 480.1 733.0C481.1 732.0 481.2 730.6 482.4 731.8C483.5 732.9 485.9 741.6 487.0 739.9C488.1 738.2 488.4 728.7 489.3 721.4C490.2 714.1 490.9 700.5 492.1 695.9C493.3 691.3 494.8 694.4 496.3 693.6C497.8 692.8 499.5 696.3 500.9 691.3C502.2 686.3 503.2 670.5 504.4 663.5C505.5 656.5 506.4 652.1 507.8 649.6C509.2 647.1 510.9 648.5 512.5 648.5C514.0 648.5 515.6 648.8 517.1 649.6C518.6 650.4 520.4 650.0 521.7 653.1C523.1 656.2 524.0 662.5 525.2 668.1C526.4 673.7 527.4 680.9 528.7 686.7C530.1 692.5 531.9 696.0 533.3 702.9C534.6 709.8 535.8 718.3 536.8 728.3C537.8 738.3 538.3 747.7 539.1 763.1C539.9 778.5 540.7 798.4 541.4 820.9C542.1 843.4 542.3 893.2 543.2 898.4C544.1 903.6 545.5 873.3 546.7 852.1C547.9 830.9 548.9 793.1 550.2 771.1C551.6 749.1 553.6 730.2 554.8 720.1C555.9 710.0 556.1 707.9 557.1 710.6C558.1 713.3 559.4 724.3 560.6 736.3C561.8 748.3 563.0 770.4 564.1 782.6C565.2 794.8 566.4 808.5 567.5 809.3C568.6 810.1 569.8 799.5 571.0 787.3C572.2 775.1 573.3 753.3 574.5 736.3C575.7 719.3 576.9 696.8 578.0 685.2C579.1 673.6 580.4 669.4 581.4 666.7C582.4 664.0 583.0 662.1 583.8 669.0C584.6 675.9 585.3 699.4 586.1 708.3C586.9 717.2 587.6 726.1 588.4 722.2C589.2 718.4 589.9 699.1 590.7 685.2C591.5 671.3 592.2 653.6 593.0 638.9C593.8 624.2 594.5 607.4 595.3 597.2C596.1 587.0 596.8 577.5 597.6 577.5C598.4 577.5 599.2 588.5 600.0 597.2C600.8 605.9 601.3 622.7 602.3 629.6C603.2 636.5 604.6 635.8 605.7 638.9C606.9 642.0 608.0 644.2 609.2 648.1C610.4 652.0 611.5 656.6 612.7 662.0C613.9 667.4 615.1 672.9 616.2 680.6C617.4 688.3 618.5 700.6 619.6 708.3C620.8 716.0 621.9 721.9 623.1 726.9C624.3 731.9 625.6 739.6 626.6 738.4C627.6 737.2 628.1 730.7 628.9 719.9C629.7 709.1 630.4 683.8 631.2 673.6C632.0 663.4 632.5 661.1 633.5 658.6C634.5 656.1 636.0 656.1 637.0 658.6C638.0 661.1 638.5 665.3 639.3 673.6C640.1 681.9 640.6 695.9 641.6 708.3C642.6 720.7 643.9 733.6 645.1 747.9C646.3 762.2 647.5 780.7 648.6 794.2C649.8 807.7 650.9 820.8 652.0 828.9C653.1 837.0 654.4 841.2 655.5 842.8C656.6 844.3 657.5 846.3 658.5 838.2C659.5 830.1 660.4 812.0 661.3 794.2C662.1 776.4 662.8 752.8 663.6 731.5C664.4 710.2 665.1 680.2 665.9 666.7C666.7 653.2 667.4 651.3 668.2 650.5C669.0 649.7 669.6 654.3 670.6 662.0C671.6 669.7 673.0 685.2 674.0 696.8C675.0 708.4 675.5 731.5 676.3 731.5C677.1 731.5 677.9 708.4 678.7 696.8C679.5 685.2 680.2 670.9 681.0 662.0C681.8 653.1 682.3 646.4 683.3 643.5C684.3 640.6 685.7 643.9 686.8 644.7C687.9 645.5 688.8 648.6 690.0 648.1C691.2 647.6 693.0 642.0 694.1 641.5C695.2 641.0 695.6 640.2 696.4 645.0C697.2 649.8 697.9 660.5 698.7 670.5C699.5 680.5 700.0 692.5 701.0 705.2C702.0 717.9 703.4 736.9 704.5 746.9C705.6 756.9 706.5 765.4 707.5 765.4C708.5 765.4 709.2 753.1 710.3 746.9C711.3 740.7 712.8 730.6 713.8 728.3C714.8 726.0 715.1 725.3 716.1 733.0C717.1 740.7 718.5 756.1 719.6 774.6C720.8 793.1 721.7 827.9 723.0 844.1C724.3 860.3 725.9 871.9 727.2 871.9C728.6 871.9 729.9 854.5 731.1 844.1C732.3 833.7 733.4 816.4 734.6 809.4C735.8 802.4 736.9 803.9 738.1 802.4C739.3 800.9 740.5 802.8 741.6 800.1C742.8 797.4 743.9 792.4 745.0 786.2C746.1 780.0 747.1 770.8 748.5 763.1C749.9 755.4 751.8 749.5 753.1 739.9C754.5 730.2 755.4 715.6 756.6 705.2C757.8 694.8 759.1 684.5 760.1 677.4C761.1 670.3 761.6 662.4 762.4 662.4C763.2 662.4 763.9 670.3 764.7 677.4C765.5 684.5 766.0 690.9 767.0 705.2C768.0 719.5 769.3 745.7 770.5 763.1C771.7 780.5 772.8 798.6 774.0 809.4C775.2 820.2 776.8 827.9 777.9 827.9C779.0 827.9 779.8 822.1 780.9 809.4C782.0 796.7 783.2 770.8 784.4 751.5C785.6 732.2 786.8 709.0 787.9 693.6C789.0 678.2 790.1 668.1 791.3 658.9C792.4 649.6 793.6 642.7 794.8 638.1C796.0 633.5 797.1 632.3 798.3 631.1C799.4 629.9 800.7 629.6 801.7 631.1C802.7 632.6 803.5 634.2 804.5 640.4C805.5 646.6 806.6 665.0 807.5 668.1C808.4 671.2 809.0 656.6 809.8 658.9C810.6 661.2 811.2 672.4 812.2 682.0C813.2 691.6 814.5 703.3 815.6 716.8C816.8 730.3 817.9 749.6 819.1 763.1C820.3 776.6 821.5 791.4 822.6 797.8C823.8 804.1 824.9 805.1 826.0 801.2C827.1 797.3 828.5 786.8 829.5 774.6C830.5 762.5 830.8 732.1 831.8 728.3C832.8 724.4 834.2 745.7 835.3 751.5C836.4 757.3 837.2 763.1 838.3 763.1C839.3 763.1 840.5 754.2 841.6 751.5C842.7 748.8 843.5 748.4 844.6 746.9C845.7 745.4 846.9 746.5 848.0 742.2C849.1 738.0 850.1 728.3 851.5 721.4C852.9 714.5 854.8 707.2 856.1 700.6C857.5 694.0 858.4 689.0 859.6 682.0C860.8 675.0 861.9 665.8 863.1 658.9C864.3 652.0 865.5 642.7 866.6 640.4C867.8 638.1 869.0 642.7 870.0 645.0C871.0 647.3 871.5 655.1 872.3 654.3C873.1 653.5 873.9 644.6 874.7 640.4C875.5 636.1 876.2 627.3 877.0 628.8C877.8 630.3 878.5 636.9 879.3 649.6C880.1 662.3 880.8 684.4 881.6 705.2C882.4 726.0 883.2 747.1 883.9 774.6C884.5 802.1 884.9 850.8 885.5 870.4C886.1 890.0 886.8 903.7 887.8 892.1C888.8 880.5 890.1 825.7 891.3 800.9C892.4 776.1 893.6 757.4 894.7 743.1C895.9 728.8 897.0 721.1 898.2 715.3C899.4 709.5 900.7 707.5 901.7 708.3C902.7 709.1 903.0 712.9 904.0 719.9C905.0 726.9 906.1 744.2 907.5 750.0C908.9 755.8 910.8 761.6 912.1 754.6C913.5 747.6 914.6 720.2 915.6 708.3C916.6 696.3 917.1 682.9 917.9 682.9C918.7 682.9 919.4 696.3 920.2 708.3C921.0 720.2 921.5 741.1 922.5 754.6C923.5 768.1 925.0 780.5 926.0 789.4C927.0 798.3 927.3 811.8 928.3 807.9C929.3 804.0 930.4 780.9 931.8 766.2C933.1 751.5 934.7 732.2 936.4 719.9C938.1 707.5 940.5 697.9 942.2 692.1C943.9 686.3 945.3 687.5 946.8 685.2C948.3 682.9 950.0 681.3 951.4 678.2C952.8 675.1 953.9 669.4 954.9 666.7C955.9 664.0 956.4 659.7 957.2 662.0C958.0 664.3 958.5 671.0 959.5 680.6C960.5 690.2 961.8 708.3 963.0 719.9C964.2 731.5 965.3 750.0 966.5 750.0C967.7 750.0 968.9 732.6 970.0 719.9C971.1 707.2 972.2 685.2 973.4 673.6C974.5 662.0 975.9 654.8 976.9 650.5C977.9 646.2 978.4 646.2 979.2 648.1C980.0 650.0 980.5 653.9 981.5 662.0C982.5 670.1 984.0 685.2 985.0 696.8C986.0 708.4 986.5 719.9 987.3 731.5C988.1 743.1 988.6 757.3 989.6 766.2C990.6 775.1 991.9 782.0 993.1 784.7C994.3 787.4 995.4 783.9 996.6 782.4C997.8 780.9 998.8 777.8 1000.1 775.5C1001.5 773.2 1003.6 770.0 1004.7 768.5C1005.9 767.0 1006.2 764.7 1007.0 766.2C1007.8 767.8 1008.3 773.2 1009.3 777.8C1010.3 782.4 1011.6 790.5 1012.8 794.0C1014.0 797.5 1015.1 805.2 1016.3 798.6C1017.4 792.0 1018.6 771.6 1019.7 754.6C1020.9 737.6 1022.0 714.1 1023.2 696.8C1024.4 679.4 1025.7 661.7 1026.7 650.5C1027.7 639.3 1028.1 632.7 1029.0 629.6C1029.9 626.5 1031.0 628.4 1032.0 631.9C1033.0 635.4 1034.0 642.4 1034.8 650.5C1035.6 658.6 1036.1 672.5 1037.1 680.6C1038.1 688.7 1039.4 698.3 1040.6 699.1C1041.8 699.9 1042.8 688.3 1044.0 685.2C1045.2 682.1 1046.3 679.8 1047.5 680.6C1048.7 681.4 1049.8 689.0 1051.0 689.8C1052.2 690.6 1053.4 687.1 1054.5 685.2C1055.6 683.3 1056.5 676.3 1057.5 678.2C1058.5 680.1 1059.2 687.9 1060.2 696.8C1061.2 705.7 1062.7 727.6 1063.7 731.5C1064.7 735.4 1065.0 728.4 1066.0 719.9C1067.0 711.4 1068.5 689.9 1069.5 680.6C1070.5 671.4 1071.5 663.6 1072.3 664.4C1073.1 665.2 1073.9 674.0 1074.6 685.2C1075.3 696.4 1075.7 720.3 1076.4 731.5C1077.1 742.7 1077.9 752.3 1078.8 752.3C1079.7 752.3 1081.2 740.0 1082.0 731.5C1082.8 723.0 1082.9 710.8 1083.8 701.5C1084.7 692.2 1086.1 679.1 1087.3 676.0C1088.5 672.9 1089.8 679.9 1090.7 683.0C1091.7 686.1 1092.2 694.1 1093.0 694.5C1093.8 694.9 1094.6 687.4 1095.4 685.3C1096.2 683.2 1097.1 679.1 1098.1 681.8C1099.0 684.5 1100.0 692.4 1101.1 701.5C1102.2 710.6 1103.4 726.4 1104.6 736.2C1105.8 746.0 1106.9 760.5 1108.1 760.5C1109.3 760.5 1110.5 742.2 1111.6 736.2C1112.7 730.2 1113.4 726.9 1114.6 724.6C1115.8 722.3 1117.3 725.4 1118.5 722.3C1119.7 719.2 1120.8 712.6 1122.0 706.1C1123.2 699.6 1124.3 688.4 1125.5 683.0C1126.7 677.6 1127.8 672.6 1128.9 673.7C1130.1 674.9 1131.3 684.1 1132.4 689.9C1133.5 695.7 1134.5 704.1 1135.4 708.4C1136.3 712.6 1136.9 718.5 1137.7 715.4C1138.5 712.3 1139.5 697.6 1140.5 689.9C1141.5 682.2 1142.5 670.2 1143.5 669.1C1144.5 668.0 1145.2 678.0 1146.3 683.0C1147.3 688.0 1148.4 696.9 1149.8 699.2C1151.2 701.5 1153.1 694.6 1154.4 696.9C1155.8 699.2 1156.8 706.5 1157.9 713.1C1159.1 719.7 1160.3 730.8 1161.3 736.2C1162.2 741.6 1162.6 747.4 1163.6 745.5C1164.6 743.6 1165.9 733.9 1167.1 724.6C1168.3 715.3 1169.2 701.5 1170.6 689.9C1171.9 678.3 1173.7 665.6 1175.2 655.2C1176.8 644.8 1178.6 633.6 1179.9 627.4C1181.2 621.2 1182.0 617.3 1182.9 618.1C1183.9 618.9 1184.6 622.0 1185.6 632.0C1186.5 642.0 1187.6 662.9 1188.6 678.3C1189.6 693.7 1190.6 713.0 1191.4 724.6C1192.2 736.2 1192.9 747.0 1193.7 747.8C1194.5 748.6 1195.2 733.7 1196.1 729.3C1196.9 724.9 1197.6 722.4 1198.8 721.2C1200.0 720.0 1201.9 718.6 1203.0 722.3C1204.1 725.9 1204.5 737.5 1205.3 743.1C1206.1 748.7 1207.1 757.0 1208.1 755.9C1209.1 754.8 1210.0 742.2 1211.1 736.2C1212.2 730.2 1213.2 723.9 1214.6 720.0C1215.9 716.1 1217.5 715.0 1219.2 713.1C1220.9 711.2 1223.3 712.3 1225.0 708.4C1226.7 704.5 1228.1 696.1 1229.6 689.9C1231.1 683.7 1232.8 676.0 1234.2 671.4C1235.6 666.8 1236.5 662.5 1237.7 662.1C1238.9 661.7 1240.2 664.5 1241.2 669.1C1242.2 673.7 1242.5 682.2 1243.5 689.9C1244.5 697.6 1246.0 710.0 1247.0 715.4C1248.0 720.8 1248.5 724.6 1249.3 722.3C1250.1 720.0 1250.4 710.8 1251.6 701.5C1252.8 692.2 1254.8 675.7 1256.2 666.8C1257.6 657.9 1258.5 651.7 1259.7 648.2C1260.9 644.7 1262.0 642.8 1263.2 645.9C1264.4 649.0 1265.6 657.5 1266.7 666.8C1267.8 676.1 1268.9 688.4 1270.1 701.5C1271.2 714.6 1272.6 741.6 1273.6 745.5C1274.6 749.4 1275.2 731.9 1275.9 724.6C1276.6 717.3 1277.2 705.5 1278.0 701.5C1278.8 697.5 1279.8 697.7 1280.9 700.4C1282.0 703.1 1283.2 712.2 1284.4 717.8C1285.6 723.4 1286.7 734.0 1287.9 734.0C1289.1 734.0 1290.2 726.3 1291.4 717.8C1292.6 709.3 1293.7 691.6 1294.8 683.1C1295.9 674.6 1297.1 666.9 1298.3 666.9C1299.5 666.9 1300.6 676.5 1301.8 683.1C1303.0 689.7 1304.1 700.6 1305.2 706.2C1306.3 711.8 1307.3 718.5 1308.3 716.6C1309.3 714.7 1310.1 700.6 1311.0 694.6C1311.9 688.6 1312.8 681.5 1313.8 680.7C1314.8 679.9 1315.7 683.8 1316.8 690.0C1317.9 696.2 1319.2 710.5 1320.3 717.8C1321.4 725.1 1322.3 734.0 1323.3 734.0C1324.3 734.0 1325.1 722.6 1326.1 717.8C1327.1 713.0 1327.8 707.3 1329.1 705.0C1330.4 702.7 1332.5 711.4 1333.7 703.9C1334.9 696.4 1335.7 671.1 1336.5 659.9C1337.3 648.7 1338.0 634.9 1338.8 636.8C1339.6 638.7 1340.2 660.7 1341.1 671.5C1342.0 682.3 1343.1 699.7 1344.1 701.6C1345.1 703.5 1345.9 693.9 1346.9 683.1C1348.0 672.3 1349.2 650.3 1350.4 636.8C1351.6 623.3 1352.8 605.9 1353.9 602.0C1355.1 598.1 1356.0 607.8 1357.3 613.6C1358.6 619.4 1360.5 630.2 1362.0 636.8C1363.5 643.4 1365.2 648.8 1366.6 653.0C1367.9 657.2 1368.9 660.1 1370.1 662.2C1371.2 664.3 1372.3 667.2 1373.5 665.7C1374.7 664.2 1375.8 659.8 1377.0 653.0C1378.2 646.2 1379.3 634.5 1380.5 625.2C1381.7 615.9 1382.8 605.1 1384.0 597.4C1385.2 589.7 1386.2 583.5 1387.4 578.9C1388.6 574.3 1389.9 571.3 1390.9 569.6C1391.9 567.9 1392.2 565.4 1393.2 568.5C1394.2 571.6 1395.7 582.9 1396.7 588.1C1397.7 593.3 1397.8 598.2 1399.0 599.7C1400.2 601.2 1402.4 589.3 1403.6 597.4C1404.8 605.5 1404.9 632.3 1405.9 648.3C1406.9 664.3 1408.2 689.6 1409.4 693.5C1410.6 697.4 1411.7 679.0 1412.9 671.5C1414.1 664.0 1415.2 656.8 1416.4 648.3C1417.6 639.8 1418.7 628.7 1419.8 620.6C1420.9 612.5 1422.3 600.9 1423.3 599.7C1424.3 598.5 1424.7 607.8 1425.6 613.6C1426.5 619.4 1427.6 634.0 1428.6 634.4C1429.6 634.8 1430.5 620.7 1431.4 615.9C1432.3 611.1 1433.2 605.5 1434.2 605.5C1435.2 605.5 1436.1 611.1 1437.2 615.9C1438.3 620.7 1439.6 629.2 1440.7 634.4C1441.8 639.6 1442.9 644.9 1444.1 647.2C1445.2 649.5 1446.5 651.2 1447.6 648.3C1448.6 645.4 1449.6 635.4 1450.4 629.8C1451.2 624.2 1451.9 611.7 1452.7 614.8C1453.5 617.9 1454.2 635.0 1455.0 648.3C1455.8 661.6 1456.6 684.4 1457.3 694.6C1458.0 704.8 1458.3 710.5 1459.2 709.7C1460.1 708.9 1461.6 696.4 1462.7 690.0C1463.8 683.6 1465.1 675.4 1466.1 671.5C1467.0 667.6 1467.4 665.0 1468.4 666.9C1469.4 668.8 1471.0 679.6 1471.9 683.1C1472.8 686.6 1473.3 689.1 1474.0 687.7C1474.7 686.3 1474.7 684.5 1475.8 674.6C1476.9 664.7 1479.1 643.7 1480.4 628.3C1481.8 612.9 1482.7 593.4 1483.9 582.0C1485.1 570.6 1486.4 558.1 1487.4 560.0C1488.4 561.9 1488.9 578.4 1489.7 593.6C1490.5 608.9 1491.2 637.0 1492.0 651.5C1492.8 666.0 1493.4 678.5 1494.3 680.4C1495.2 682.3 1496.3 673.7 1497.3 663.1C1498.3 652.5 1499.0 636.1 1500.1 616.8C1501.1 597.5 1502.4 567.4 1503.6 547.3C1504.8 527.2 1506.0 505.6 1507.0 496.4C1508.0 487.1 1508.6 487.2 1509.4 491.8C1510.2 496.4 1510.9 511.1 1511.7 524.2C1512.5 537.3 1513.2 557.8 1514.0 570.5C1514.8 583.2 1515.5 593.7 1516.3 600.6C1517.1 607.5 1517.4 610.2 1518.6 612.1C1519.8 614.0 1522.0 610.2 1523.2 612.1C1524.4 614.0 1524.8 619.7 1525.6 623.7C1526.4 627.8 1527.1 637.5 1527.9 636.4C1528.7 635.2 1529.6 622.4 1530.6 616.8C1531.6 611.2 1532.6 605.8 1533.7 602.9C1534.8 600.0 1535.9 598.2 1537.1 599.4C1538.2 600.5 1539.4 606.5 1540.6 609.8C1541.8 613.1 1542.9 619.1 1544.1 619.1C1545.2 619.1 1546.3 614.0 1547.5 609.8C1548.7 605.5 1549.8 598.6 1551.0 593.6C1552.2 588.6 1553.3 582.4 1554.5 579.7C1555.7 577.0 1557.0 573.1 1558.0 577.4C1559.0 581.6 1559.3 592.7 1560.3 605.2C1561.3 617.7 1562.6 649.1 1563.8 652.6C1565.0 656.1 1565.8 631.2 1567.2 626.0C1568.6 620.8 1570.2 622.9 1571.9 621.4C1573.6 619.9 1576.1 620.3 1577.6 616.8C1579.1 613.3 1579.9 608.3 1581.1 600.6C1582.3 592.9 1583.4 581.3 1584.6 570.5C1585.8 559.7 1587.1 546.1 1588.1 535.7C1589.1 525.3 1589.8 513.6 1590.8 508.0C1591.8 502.4 1592.8 500.7 1593.8 502.2C1594.8 503.7 1595.9 511.6 1596.9 517.2C1597.9 522.8 1598.6 531.5 1599.6 535.7C1600.6 540.0 1601.9 541.9 1603.1 542.7C1604.3 543.5 1605.4 539.8 1606.6 540.4C1607.8 541.0 1609.0 543.7 1610.0 546.2C1611.0 548.7 1611.8 557.1 1612.8 555.4C1613.8 553.6 1614.7 544.8 1615.8 535.7C1616.9 526.6 1618.1 510.4 1619.3 501.0C1620.5 491.6 1621.8 482.9 1622.8 479.0C1623.8 475.1 1624.6 474.2 1625.6 477.9C1626.6 481.6 1627.5 491.4 1628.6 501.0C1629.7 510.6 1631.0 527.6 1632.0 535.7C1633.0 543.8 1633.8 546.7 1634.8 549.6C1635.8 552.5 1636.8 555.4 1637.8 553.1C1638.8 550.8 1639.8 544.4 1640.8 535.7C1641.8 527.0 1642.5 511.8 1643.6 501.0C1644.6 490.2 1646.1 476.7 1647.1 470.9C1648.1 465.1 1648.6 465.3 1649.4 466.3C1650.2 467.3 1650.9 474.4 1651.7 476.7C1652.5 479.0 1653.5 480.4 1654.5 480.2C1655.5 480.0 1656.4 477.5 1657.5 475.6C1658.6 473.7 1660.0 470.0 1661.0 468.6C1662.0 467.2 1662.4 464.0 1663.3 467.5C1664.2 471.0 1665.4 481.9 1666.3 489.4C1667.2 496.9 1668.0 508.0 1668.6 512.6C1669.2 517.2 1669.3 515.8 1670.0 517.2C1670.7 518.6 1671.6 519.4 1672.9 520.8C1674.2 522.2 1676.2 528.2 1677.6 525.5C1678.9 522.8 1679.8 511.2 1681.0 504.6C1682.2 498.0 1683.3 486.9 1684.5 486.1C1685.7 485.3 1686.8 493.8 1688.0 500.0C1689.2 506.2 1690.3 516.9 1691.5 523.1C1692.7 529.3 1693.8 533.5 1694.9 537.0C1696.1 540.5 1697.4 540.9 1698.4 544.0C1699.4 547.1 1699.9 552.5 1700.7 555.6C1701.5 558.7 1702.2 563.3 1703.0 562.5C1703.8 561.7 1704.6 556.7 1705.4 550.9C1706.2 545.1 1706.8 533.6 1707.7 527.8C1708.7 522.0 1709.9 522.0 1711.1 516.2C1712.2 510.4 1713.4 500.8 1714.6 493.1C1715.8 485.4 1716.9 475.9 1718.1 469.9C1719.3 463.9 1720.6 459.5 1721.6 457.2C1722.6 454.9 1723.1 453.9 1723.9 456.0C1724.7 458.1 1725.4 461.8 1726.2 469.9C1727.0 478.0 1728.0 493.0 1729.0 504.6C1730.0 516.2 1731.1 531.7 1732.0 539.4C1732.9 547.1 1733.5 551.7 1734.3 550.9C1735.1 550.1 1735.6 538.9 1736.6 534.7C1737.6 530.5 1738.9 525.9 1740.1 525.5C1741.2 525.1 1742.3 532.0 1743.5 532.4C1744.7 532.8 1745.8 532.4 1747.0 527.8C1748.2 523.2 1749.3 514.2 1750.5 504.6C1751.7 495.0 1752.9 479.5 1754.0 469.9C1755.1 460.3 1756.0 450.3 1757.0 446.8C1758.0 443.3 1759.0 445.2 1759.8 449.1C1760.6 453.0 1761.2 460.6 1762.1 469.9C1763.0 479.1 1764.1 494.2 1765.1 504.6C1766.1 515.0 1767.1 528.0 1767.9 532.4C1768.8 536.8 1769.2 534.7 1770.2 531.2C1771.2 527.7 1772.4 516.8 1773.6 511.6C1774.8 506.4 1775.9 503.9 1777.1 500.0C1778.3 496.1 1779.5 491.1 1780.6 488.4C1781.7 485.7 1782.6 482.6 1783.6 483.8C1784.6 485.0 1785.4 488.8 1786.4 495.4C1787.4 501.9 1788.7 516.2 1789.8 523.1C1790.9 530.0 1792.1 534.3 1793.3 537.0C1794.5 539.7 1795.6 540.9 1796.8 539.4C1798.0 537.9 1799.1 534.4 1800.3 527.8C1801.5 521.2 1802.5 507.7 1803.7 500.0C1804.9 492.3 1806.2 482.6 1807.2 481.5C1808.2 480.4 1808.7 485.4 1809.5 493.1C1810.3 500.8 1811.0 518.5 1811.8 527.8C1812.6 537.0 1813.3 547.1 1814.1 548.6C1814.9 550.1 1815.5 542.0 1816.5 537.0C1817.5 532.0 1818.6 522.4 1819.9 518.5C1821.2 514.6 1823.2 515.0 1824.6 513.9C1825.9 512.8 1826.8 510.5 1828.0 511.6C1829.2 512.8 1830.5 518.5 1831.5 520.8C1832.5 523.1 1832.8 525.5 1833.8 525.5C1834.8 525.5 1836.1 519.6 1837.3 520.8C1838.5 521.9 1839.7 529.9 1840.8 532.4C1841.9 534.9 1842.8 537.4 1843.8 535.9C1844.8 534.4 1845.6 530.2 1846.6 523.1C1847.6 516.0 1848.8 502.0 1850.0 493.1C1851.2 484.2 1852.3 473.8 1853.5 469.9C1854.7 466.0 1855.8 468.0 1857.0 469.9C1858.2 471.8 1859.2 473.8 1860.4 481.5C1861.6 489.2 1863.0 506.6 1863.9 516.2C1864.8 525.9 1865.3 535.3 1866.0 539.4C1866.7 543.5 1867.0 544.0 1867.8 540.7C1868.6 537.5 1869.8 528.4 1870.8 519.9C1871.8 511.4 1872.7 494.1 1873.6 489.8C1874.5 485.6 1875.4 492.5 1876.4 494.4C1877.4 496.3 1878.3 501.0 1879.4 501.4C1880.5 501.8 1881.7 499.9 1882.8 496.8C1883.9 493.7 1885.1 486.0 1886.3 482.9C1887.5 479.8 1888.6 479.4 1889.8 478.2C1891.0 477.0 1892.0 477.8 1893.2 475.9C1894.4 474.0 1895.7 467.1 1896.7 466.7C1897.8 466.3 1898.7 469.8 1899.5 473.6C1900.3 477.5 1901.1 486.7 1901.8 489.8C1902.5 492.9 1902.9 496.7 1903.7 492.1C1904.5 487.5 1905.5 469.3 1906.4 462.0C1907.3 454.7 1908.2 446.2 1909.0 448.1C1909.8 450.0 1910.5 466.3 1911.3 473.6C1912.1 480.9 1913.2 493.2 1914.1 492.1C1914.9 491.0 1915.5 473.2 1916.4 466.7C1917.3 460.1 1918.5 454.4 1919.4 452.8C1920.3 451.2 1920.9 455.5 1921.7 457.4C1922.5 459.3 1923.2 465.2 1924.0 464.4C1924.8 463.6 1925.6 455.1 1926.4 452.8C1927.2 450.5 1928.3 447.0 1929.1 450.5C1929.9 454.0 1930.6 464.7 1931.4 473.6C1932.2 482.5 1933.2 496.0 1934.2 503.7C1935.2 511.4 1936.3 516.8 1937.2 519.9C1938.1 523.0 1938.7 524.9 1939.5 522.2C1940.3 519.5 1941.2 507.6 1941.9 503.7C1942.6 499.8 1942.9 494.5 1943.5 499.1C1944.1 503.7 1944.6 520.3 1945.3 531.5C1946.0 542.7 1946.9 557.7 1947.6 566.2C1948.3 574.7 1948.7 582.0 1949.5 582.4C1950.3 582.8 1951.5 572.0 1952.3 568.5C1953.1 565.0 1953.6 563.9 1954.6 561.6C1955.6 559.3 1957.0 559.6 1958.1 554.6C1959.2 549.6 1960.1 539.2 1961.1 531.5C1962.1 523.8 1963.0 514.5 1963.9 508.3C1964.8 502.1 1965.6 496.9 1966.6 494.4C1967.5 491.9 1968.5 491.8 1969.6 493.3C1970.7 494.9 1971.9 499.6 1973.1 503.7C1974.3 507.8 1975.4 513.4 1976.6 517.6C1977.8 521.9 1978.9 526.1 1980.1 529.2C1981.2 532.3 1982.3 536.5 1983.5 536.1C1984.7 535.7 1985.8 531.5 1987.0 526.9C1988.2 522.3 1989.4 513.3 1990.5 508.3C1991.6 503.3 1992.5 496.8 1993.5 496.8C1994.5 496.8 1995.4 504.5 1996.3 508.3C1997.2 512.1 1998.0 520.7 1999.0 519.9C2000.0 519.1 2001.0 508.1 2002.0 503.7C2003.0 499.3 2004.1 494.4 2005.1 493.3C2006.1 492.2 2007.0 492.4 2007.8 496.8C2008.6 501.2 2009.2 513.0 2010.1 519.9C2010.9 526.8 2011.9 533.4 2012.9 538.4C2013.9 543.4 2014.9 545.4 2015.9 550.0C2016.9 554.6 2017.9 558.5 2018.9 566.2C2019.9 573.9 2020.7 588.6 2021.7 596.3C2022.8 604.0 2024.0 609.4 2025.2 612.5C2026.4 615.6 2027.6 615.6 2028.7 614.8C2029.8 614.0 2031.0 612.1 2032.1 607.9C2033.2 603.7 2034.1 596.3 2035.1 589.4C2036.1 582.5 2036.9 569.7 2037.9 566.2C2039.0 562.7 2040.3 567.4 2041.4 568.5C2042.5 569.6 2043.4 577.0 2044.4 573.1C2045.4 569.2 2046.2 551.6 2047.2 545.4C2048.2 539.2 2049.3 538.2 2050.7 536.1C2052.0 534.0 2054.0 534.1 2055.3 532.6C2056.7 531.1 2057.7 530.9 2058.8 526.9C2059.9 522.9 2061.0 511.0 2062.0 508.3C2063.0 505.6 2063.7 508.7 2064.6 510.6C2065.5 512.5 2066.6 515.6 2067.6 519.9C2068.6 524.1 2069.6 531.9 2070.6 536.1C2071.6 540.4 2072.3 545.0 2073.4 545.4C2074.5 545.8 2075.7 541.5 2076.9 538.4C2078.1 535.3 2079.2 530.4 2080.4 526.9C2081.6 523.4 2082.7 519.9 2083.8 517.6C2084.9 515.3 2085.9 513.4 2086.9 513.0C2087.9 512.6 2088.8 513.4 2089.6 515.3C2090.4 517.2 2091.2 522.0 2091.9 524.5C2092.6 527.0 2093.5 529.3 2093.8 530.3" fill="none" stroke="#548235" stroke-width="3.1" stroke-linejoin="round" stroke-linecap="round"/>
<line x1="211.5" x2="211.5" y1="240.2" y2="1009.0" stroke="#000" stroke-width="3.4"/>
<line x1="211.5" x2="2215.8" y1="1007.3" y2="1007.3" stroke="#000" stroke-width="3.4"/>
<line x1="200.0" x2="211.5" y1="241.9" y2="241.9" stroke="#000" stroke-width="3.4"/>
<line x1="200.0" x2="211.5" y1="369.5" y2="369.5" stroke="#000" stroke-width="3.4"/>
<line x1="200.0" x2="211.5" y1="497.0" y2="497.0" stroke="#000" stroke-width="3.4"/>
<line x1="200.0" x2="211.5" y1="624.6" y2="624.6" stroke="#000" stroke-width="3.4"/>
<line x1="200.0" x2="211.5" y1="752.2" y2="752.2" stroke="#000" stroke-width="3.4"/>
<line x1="200.0" x2="211.5" y1="879.7" y2="879.7" stroke="#000" stroke-width="3.4"/>
<line x1="200.0" x2="211.5" y1="1007.3" y2="1007.3" stroke="#000" stroke-width="3.4"/>
<line x1="211.5" x2="211.5" y1="1007.3" y2="1018.6" stroke="#000" stroke-width="3.4"/>
<line x1="713.5" x2="713.5" y1="1007.3" y2="1018.6" stroke="#000" stroke-width="3.4"/>
<line x1="1213.6" x2="1213.6" y1="1007.3" y2="1018.6" stroke="#000" stroke-width="3.4"/>
<line x1="1713.9" x2="1713.9" y1="1007.3" y2="1018.6" stroke="#000" stroke-width="3.4"/>
<line x1="2214.1" x2="2214.1" y1="1007.3" y2="1018.6" stroke="#000" stroke-width="3.4"/>
<text x="1128.5" y="178.5" font-size="45.5" textLength="109.8" lengthAdjust="spacingAndGlyphs">2011</text>
<text x="152.0" y="253.3" font-size="33" textLength="37.5" lengthAdjust="spacingAndGlyphs">30</text>
<text x="152.2" y="380.3" font-size="33" textLength="37.3" lengthAdjust="spacingAndGlyphs">20</text>
<text x="152.4" y="507.3" font-size="33" textLength="37.2" lengthAdjust="spacingAndGlyphs">10</text>
<text x="161.0" y="634.3" font-size="33" textLength="20.5" lengthAdjust="spacingAndGlyphs">0</text>
<text x="135.5" y="761.3" font-size="33" textLength="54.0" lengthAdjust="spacingAndGlyphs">−10</text>
<text x="135.0" y="888.3" font-size="33" textLength="54.5" lengthAdjust="spacingAndGlyphs">−20</text>
<text x="135.2" y="1015.3" font-size="33" textLength="54.3" lengthAdjust="spacingAndGlyphs">−30</text>
<text x="136.8" y="1062.8" font-size="33" textLength="151.5" lengthAdjust="spacingAndGlyphs">9/19/2010</text>
<text x="627.7" y="1062.8" font-size="33" textLength="169.7" lengthAdjust="spacingAndGlyphs">12/28/2010</text>
<text x="1147.2" y="1062.8" font-size="33" textLength="133.0" lengthAdjust="spacingAndGlyphs">4/7/2011</text>
<text x="1637.4" y="1062.8" font-size="33" textLength="152.1" lengthAdjust="spacingAndGlyphs">7/16/2011</text>
<text x="2130.1" y="1062.8" font-size="33" textLength="168.7" lengthAdjust="spacingAndGlyphs">10/24/2011</text>
<text x="635.8" y="1221.6" font-size="33" textLength="95.4" lengthAdjust="spacingAndGlyphs">Zone 1</text>
<text x="855.4" y="1221.6" font-size="33" textLength="95.4" lengthAdjust="spacingAndGlyphs">Zone 2</text>
<text x="1075.0" y="1221.6" font-size="33" textLength="95.2" lengthAdjust="spacingAndGlyphs">Zone 3</text>
<text x="1294.6" y="1221.6" font-size="33" textLength="94.7" lengthAdjust="spacingAndGlyphs">Zone 4</text>
<text x="1514.2" y="1221.6" font-size="33" textLength="95.2" lengthAdjust="spacingAndGlyphs">Zone 5</text>
<text x="1733.8" y="1221.6" font-size="33" textLength="95.2" lengthAdjust="spacingAndGlyphs">Zone 6</text>
<text x="1144.4" y="1119.4" font-size="34" textLength="135.8" lengthAdjust="spacingAndGlyphs">Timeline</text>
<text transform="translate(113.0,759.5) rotate(-90)" x="-0.8" y="0" font-size="34" textLength="271.0" lengthAdjust="spacingAndGlyphs">Temperature (°C)</text>
<text y="114.3" font-size="45.5"><tspan x="286.5" textLength="275.0" lengthAdjust="spacingAndGlyphs">Temperature</tspan> <tspan x="577.4" textLength="95.8" lengthAdjust="spacingAndGlyphs">data</tspan> <tspan x="687.8" textLength="102.2" lengthAdjust="spacingAndGlyphs">used</tspan> <tspan x="803.9" textLength="59.9" lengthAdjust="spacingAndGlyphs">for</tspan> <tspan x="875.9" textLength="101.7" lengthAdjust="spacingAndGlyphs">SRM</tspan> <tspan x="990.1" textLength="229.6" lengthAdjust="spacingAndGlyphs">simulation</tspan> <tspan x="1232.0" textLength="95.3" lengthAdjust="spacingAndGlyphs">over</tspan> <tspan x="1339.7" textLength="170.0" lengthAdjust="spacingAndGlyphs">Morony</tspan> <tspan x="1527.2" textLength="228.3" lengthAdjust="spacingAndGlyphs">watershed</tspan> <tspan x="1767.8" textLength="60.2" lengthAdjust="spacingAndGlyphs">for</tspan> <tspan x="1843.5" textLength="133.7" lengthAdjust="spacingAndGlyphs">Water</tspan> <tspan x="1989.2" textLength="91.7" lengthAdjust="spacingAndGlyphs">Year</tspan></text>
<line x1="552.6" x2="626.7" y1="1212.2" y2="1212.2" stroke="#672ca0" stroke-width="3.2" stroke-linecap="round"/>
<line x1="772.2" x2="846.3" y1="1212.2" y2="1212.2" stroke="#FF0000" stroke-width="3.2" stroke-linecap="round"/>
<line x1="991.8" x2="1065.9" y1="1212.2" y2="1212.2" stroke="#C55A11" stroke-width="3.2" stroke-linecap="round"/>
<line x1="1211.4" x2="1285.5" y1="1212.2" y2="1212.2" stroke="#BF9000" stroke-width="3.2" stroke-linecap="round"/>
<line x1="1431.0" x2="1505.1" y1="1212.2" y2="1212.2" stroke="#002060" stroke-width="3.2" stroke-linecap="round"/>
<line x1="1650.6" x2="1724.7" y1="1212.2" y2="1212.2" stroke="#548235" stroke-width="3.2" stroke-linecap="round"/>
</g></svg></body></html>
